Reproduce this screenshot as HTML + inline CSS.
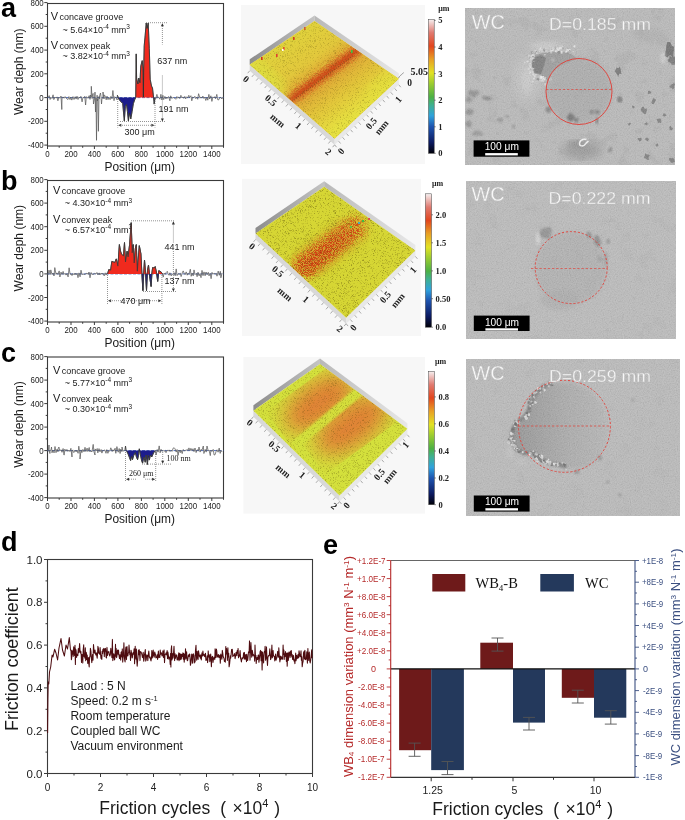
<!DOCTYPE html>
<html><head><meta charset="utf-8"><style>
html,body{margin:0;padding:0;background:#fff;}
body{width:685px;height:820px;overflow:hidden;position:relative;font-family:"Liberation Sans",sans-serif;}
svg{position:absolute;left:0;top:0;}
svg{will-change:transform;}
</style></head><body>
<svg width="685" height="820" viewBox="0 0 685 820">
<defs><linearGradient id="cbar" x1="0" y1="1" x2="0" y2="0">
<stop offset="0" stop-color="#000008"/><stop offset="0.08" stop-color="#0c1a60"/><stop offset="0.2" stop-color="#1f55b0"/>
<stop offset="0.28" stop-color="#2fa2dc"/><stop offset="0.36" stop-color="#3fb090"/><stop offset="0.42" stop-color="#4cb044"/>
<stop offset="0.52" stop-color="#9ccc30"/><stop offset="0.6" stop-color="#e2e224"/><stop offset="0.7" stop-color="#e8a024"/>
<stop offset="0.8" stop-color="#e2461e"/><stop offset="0.9" stop-color="#e07a70"/><stop offset="1" stop-color="#f6f0f0"/>
</linearGradient><filter id="speck" x="0%" y="0%" width="100%" height="100%" color-interpolation-filters="sRGB">
<feTurbulence type="fractalNoise" baseFrequency="1.6" numOctaves="2" seed="5" result="t"/>
<feColorMatrix in="t" type="matrix" values="0 0 0 0 0.3  0 0 0 0 0.25  0 0 0 0 0.02  -4 0 0 0 1.85" result="s"/>
<feComposite in="s" in2="SourceAlpha" operator="in"/>
</filter><filter id="rspeck" x="-30%" y="-30%" width="160%" height="160%" color-interpolation-filters="sRGB">
<feGaussianBlur in="SourceAlpha" stdDeviation="5" result="m"/>
<feTurbulence type="fractalNoise" baseFrequency="1.1" numOctaves="2" seed="8" result="t"/>
<feColorMatrix in="t" type="matrix" values="0 0 0 0 0.82  0 0 0 0 0.26  0 0 0 0 0.08  -7 0 0 0 3.9" result="s"/>
<feComposite in="s" in2="m" operator="in"/>
</filter><filter id="bb3"><feGaussianBlur stdDeviation="3"/></filter><filter id="bb6"><feGaussianBlur stdDeviation="6"/></filter><filter id="bb10"><feGaussianBlur stdDeviation="10"/></filter><linearGradient id="wallL" x1="0" y1="0" x2="1" y2="0"><stop offset="0" stop-color="#8c8c8c"/><stop offset="1" stop-color="#c4c4c4"/></linearGradient><linearGradient id="wallR" x1="0" y1="0" x2="1" y2="0"><stop offset="0" stop-color="#b8b8b8"/><stop offset="1" stop-color="#e8e8e8"/></linearGradient><linearGradient id="gA" gradientUnits="userSpaceOnUse" x1="294.1" y1="34.9" x2="353.5" y2="115.3"><stop offset="0" stop-color="#e0d23c" stop-opacity="1"/><stop offset="0.3" stop-color="#e2c83c" stop-opacity="1"/><stop offset="0.42" stop-color="#e0b438" stop-opacity="1"/><stop offset="0.47" stop-color="#d87a2c" stop-opacity="1"/><stop offset="0.5" stop-color="#d05a22" stop-opacity="1"/><stop offset="0.53" stop-color="#d8802c" stop-opacity="1"/><stop offset="0.58" stop-color="#e0ae38" stop-opacity="1"/><stop offset="0.75" stop-color="#e2c43a" stop-opacity="1"/><stop offset="1" stop-color="#e6e040" stop-opacity="1"/></linearGradient><linearGradient id="gAo" gradientUnits="userSpaceOnUse" x1="249.7" y1="64.8" x2="334.6" y2="138.8"><stop offset="0" stop-color="#dce040" stop-opacity="0.0"/><stop offset="0.1" stop-color="#dce040" stop-opacity="0.0"/><stop offset="1" stop-color="#e4e040" stop-opacity="0.0"/></linearGradient><clipPath id="sclipA"><polygon points="314.5,21.0 398.8,78.8 334.6,138.8 249.7,64.8"/></clipPath><clipPath id="sclipB"><polygon points="324.2,186.8 415.4,250.4 346.1,317.7 255.5,233.5"/></clipPath><clipPath id="sclipC"><polygon points="320.0,364.0 407.4,428.8 339.5,495.6 253.4,410.7"/></clipPath><filter id="mgrain" x="0%" y="0%" width="100%" height="100%">
<feTurbulence type="fractalNoise" baseFrequency="0.85" numOctaves="2" seed="9" result="t"/>
<feColorMatrix in="t" type="matrix" values="1 0 0 0 0  1 0 0 0 0  1 0 0 0 0  0 0 0 0 1" result="g"/>
<feComposite in="g" in2="SourceAlpha" operator="in"/>
</filter><filter id="mblot" x="0%" y="0%" width="100%" height="100%">
<feTurbulence type="fractalNoise" baseFrequency="0.06" numOctaves="3" seed="21" result="t"/>
<feColorMatrix in="t" type="matrix" values="0 0 0 0 0.35  0 0 0 0 0.35  0 0 0 0 0.35  -9 0 0 0 3.6" result="s"/>
<feComposite in="s" in2="SourceAlpha" operator="in"/>
</filter><filter id="blur05"><feGaussianBlur stdDeviation="0.45"/></filter><filter id="blur07"><feGaussianBlur stdDeviation="0.65"/></filter><filter id="blur1"><feGaussianBlur stdDeviation="0.9"/></filter><filter id="blur2"><feGaussianBlur stdDeviation="2"/></filter><filter id="blur4"><feGaussianBlur stdDeviation="5"/></filter><filter id="thin"><feMorphology operator="erode" radius="0.25"/></filter><clipPath id="clip1"><rect x="465" y="8" width="210" height="157"/></clipPath><clipPath id="clip2"><rect x="466" y="181" width="210" height="158"/></clipPath><linearGradient id="craterC" x1="0" y1="0" x2="1" y2="0"><stop offset="0" stop-color="#939393"/><stop offset="0.3" stop-color="#a0a0a0"/><stop offset="0.6" stop-color="#acacac"/><stop offset="1" stop-color="#b6b6b6"/></linearGradient><clipPath id="clip3"><rect x="466" y="359" width="214" height="157"/></clipPath></defs>
<rect x="47.5" y="3.5" width="176.0" height="142.5" fill="none" stroke="#3a3a3a" stroke-width="1.1"/>
<line x1="44.3" y1="145.1" x2="47.5" y2="145.1" stroke="#3a3a3a" stroke-width="1"/>
<text x="43.7" y="148.2" font-size="9" text-anchor="end" fill="#222" font-weight="normal" font-family='"Liberation Sans", sans-serif' textLength="15.8" lengthAdjust="spacingAndGlyphs">-400</text>
<line x1="45.7" y1="133.2" x2="47.5" y2="133.2" stroke="#3a3a3a" stroke-width="1"/>
<line x1="44.3" y1="121.3" x2="47.5" y2="121.3" stroke="#3a3a3a" stroke-width="1"/>
<text x="43.7" y="124.4" font-size="9" text-anchor="end" fill="#222" font-weight="normal" font-family='"Liberation Sans", sans-serif' textLength="15.8" lengthAdjust="spacingAndGlyphs">-200</text>
<line x1="45.7" y1="109.5" x2="47.5" y2="109.5" stroke="#3a3a3a" stroke-width="1"/>
<line x1="44.3" y1="97.6" x2="47.5" y2="97.6" stroke="#3a3a3a" stroke-width="1"/>
<text x="43.7" y="100.7" font-size="9" text-anchor="end" fill="#222" font-weight="normal" font-family='"Liberation Sans", sans-serif' textLength="4.4" lengthAdjust="spacingAndGlyphs">0</text>
<line x1="45.7" y1="85.7" x2="47.5" y2="85.7" stroke="#3a3a3a" stroke-width="1"/>
<line x1="44.3" y1="73.8" x2="47.5" y2="73.8" stroke="#3a3a3a" stroke-width="1"/>
<text x="43.7" y="76.9" font-size="9" text-anchor="end" fill="#222" font-weight="normal" font-family='"Liberation Sans", sans-serif' textLength="13.2" lengthAdjust="spacingAndGlyphs">200</text>
<line x1="45.7" y1="62.0" x2="47.5" y2="62.0" stroke="#3a3a3a" stroke-width="1"/>
<line x1="44.3" y1="50.1" x2="47.5" y2="50.1" stroke="#3a3a3a" stroke-width="1"/>
<text x="43.7" y="53.2" font-size="9" text-anchor="end" fill="#222" font-weight="normal" font-family='"Liberation Sans", sans-serif' textLength="13.2" lengthAdjust="spacingAndGlyphs">400</text>
<line x1="45.7" y1="38.2" x2="47.5" y2="38.2" stroke="#3a3a3a" stroke-width="1"/>
<line x1="44.3" y1="26.3" x2="47.5" y2="26.3" stroke="#3a3a3a" stroke-width="1"/>
<text x="43.7" y="29.4" font-size="9" text-anchor="end" fill="#222" font-weight="normal" font-family='"Liberation Sans", sans-serif' textLength="13.2" lengthAdjust="spacingAndGlyphs">600</text>
<line x1="45.7" y1="14.5" x2="47.5" y2="14.5" stroke="#3a3a3a" stroke-width="1"/>
<line x1="44.3" y1="2.6" x2="47.5" y2="2.6" stroke="#3a3a3a" stroke-width="1"/>
<text x="43.7" y="5.7" font-size="9" text-anchor="end" fill="#222" font-weight="normal" font-family='"Liberation Sans", sans-serif' textLength="13.2" lengthAdjust="spacingAndGlyphs">800</text>
<line x1="47.5" y1="146" x2="47.5" y2="149" stroke="#3a3a3a" stroke-width="1"/>
<text x="47.5" y="156.8" font-size="9" text-anchor="middle" fill="#222" font-weight="normal" font-family='"Liberation Sans", sans-serif' textLength="4.4" lengthAdjust="spacingAndGlyphs">0</text>
<line x1="59.2" y1="146" x2="59.2" y2="147.8" stroke="#3a3a3a" stroke-width="1"/>
<line x1="71.0" y1="146" x2="71.0" y2="149" stroke="#3a3a3a" stroke-width="1"/>
<text x="71.0" y="156.8" font-size="9" text-anchor="middle" fill="#222" font-weight="normal" font-family='"Liberation Sans", sans-serif' textLength="13.2" lengthAdjust="spacingAndGlyphs">200</text>
<line x1="82.7" y1="146" x2="82.7" y2="147.8" stroke="#3a3a3a" stroke-width="1"/>
<line x1="94.4" y1="146" x2="94.4" y2="149" stroke="#3a3a3a" stroke-width="1"/>
<text x="94.4" y="156.8" font-size="9" text-anchor="middle" fill="#222" font-weight="normal" font-family='"Liberation Sans", sans-serif' textLength="13.2" lengthAdjust="spacingAndGlyphs">400</text>
<line x1="106.2" y1="146" x2="106.2" y2="147.8" stroke="#3a3a3a" stroke-width="1"/>
<line x1="117.9" y1="146" x2="117.9" y2="149" stroke="#3a3a3a" stroke-width="1"/>
<text x="117.9" y="156.8" font-size="9" text-anchor="middle" fill="#222" font-weight="normal" font-family='"Liberation Sans", sans-serif' textLength="13.2" lengthAdjust="spacingAndGlyphs">600</text>
<line x1="129.6" y1="146" x2="129.6" y2="147.8" stroke="#3a3a3a" stroke-width="1"/>
<line x1="141.4" y1="146" x2="141.4" y2="149" stroke="#3a3a3a" stroke-width="1"/>
<text x="141.4" y="156.8" font-size="9" text-anchor="middle" fill="#222" font-weight="normal" font-family='"Liberation Sans", sans-serif' textLength="13.2" lengthAdjust="spacingAndGlyphs">800</text>
<line x1="153.1" y1="146" x2="153.1" y2="147.8" stroke="#3a3a3a" stroke-width="1"/>
<line x1="164.8" y1="146" x2="164.8" y2="149" stroke="#3a3a3a" stroke-width="1"/>
<text x="164.8" y="156.8" font-size="9" text-anchor="middle" fill="#222" font-weight="normal" font-family='"Liberation Sans", sans-serif' textLength="17.6" lengthAdjust="spacingAndGlyphs">1000</text>
<line x1="176.6" y1="146" x2="176.6" y2="147.8" stroke="#3a3a3a" stroke-width="1"/>
<line x1="188.3" y1="146" x2="188.3" y2="149" stroke="#3a3a3a" stroke-width="1"/>
<text x="188.3" y="156.8" font-size="9" text-anchor="middle" fill="#222" font-weight="normal" font-family='"Liberation Sans", sans-serif' textLength="17.6" lengthAdjust="spacingAndGlyphs">1200</text>
<line x1="200.0" y1="146" x2="200.0" y2="147.8" stroke="#3a3a3a" stroke-width="1"/>
<line x1="211.8" y1="146" x2="211.8" y2="149" stroke="#3a3a3a" stroke-width="1"/>
<text x="211.8" y="156.8" font-size="9" text-anchor="middle" fill="#222" font-weight="normal" font-family='"Liberation Sans", sans-serif' textLength="17.6" lengthAdjust="spacingAndGlyphs">1400</text>
<line x1="223.5" y1="146" x2="223.5" y2="147.8" stroke="#3a3a3a" stroke-width="1"/>
<text x="104.5" y="170.5" font-size="12" text-anchor="start" fill="#1a1a1a" font-weight="normal" font-family='"Liberation Sans", sans-serif' textLength="70.5" lengthAdjust="spacingAndGlyphs">Position (μm)</text>
<text transform="translate(23.4,71.8) rotate(-90)" x="0" y="0" font-size="12" text-anchor="middle" fill="#1a1a1a" font-family='"Liberation Sans", sans-serif'>Wear deph (nm)</text>
<line x1="47.5" y1="97.6" x2="223.5" y2="97.6" stroke="#3b5bb5" stroke-width="0.9" stroke-dasharray="3,1.5"/>
<polygon points="135.7,97.6 135.7,97.6 136.2,53.9 136.6,78.0 137.9,84.0 138.8,78.0 139.9,82.7 140.8,65.9 142.2,60.6 143.1,68.6 143.4,97.0 143.7,68.0 144.2,45.8 145.2,35.1 146.2,23.0 147.1,28.4 148.2,23.0 149.3,48.5 150.2,79.3 151.5,86.0 152.5,88.0 153.6,97.6 153.6,97.6" fill="#f02a1e" stroke="none"/>
<polygon points="117.9,97.6 118.7,98.8 120.0,100.8 121.4,102.1 122.7,103.5 124.3,120.9 125.4,106.2 126.5,104.5 127.4,111.5 128.4,120.9 129.4,112.9 130.8,118.9 132.1,111.5 133.4,103.5 134.8,99.5 135.7,97.6 135.7,97.6" fill="#1c1c8c" stroke="none"/>
<polygon points="153.6,97.6 153.6,97.6 154.2,104.1 155.0,97.6 155.0,97.6" fill="#1c1c8c" stroke="none"/>
<polyline points="48.1,97.7 49.2,95.6 50.1,99.5 50.9,97.3 51.9,98.5 53.1,94.8 53.8,99.6 55.1,97.1 56.1,98.1 57.0,96.9 57.9,100.8 58.9,97.2 59.9,98.2 61.0,96.1 61.0,96.0 61.8,109.5 62.0,98.4 62.6,98.0 63.0,96.9 64.2,98.2 65.1,96.6 66.0,98.0 67.2,99.0 67.9,99.6 68.9,96.6 70.0,99.6 70.8,97.1 71.8,100.1 73.0,96.6 74.0,99.5 75.2,96.7 76.1,99.1 77.0,96.2 78.0,99.5 78.9,97.0 79.8,97.9 80.9,96.3 82.1,101.9 82.9,97.4 83.9,97.7 84.8,96.3 85.0,99.0 85.6,105.0 86.1,99.3 86.2,97.0 86.9,96.8 87.9,98.3 89.2,95.6 90.0,99.4 90.5,95.0 91.1,97.1 91.3,86.3 92.1,98.5 92.2,96.0 93.1,93.4 93.5,104.0 93.8,102.3 94.5,99.0 95.0,92.1 95.5,112.0 96.0,97.8 96.5,140.3 97.1,95.2 97.3,101.0 97.9,98.9 98.4,131.3 99.0,96.5 99.2,99.0 99.8,95.0 100.5,93.0 101.0,96.8 101.5,104.0 101.9,99.5 102.9,97.0 103.0,92.0 104.0,99.0 104.1,95.1 105.0,95.5 106.2,99.8 107.0,96.1 108.0,99.7 109.1,97.4 110.1,99.7 110.9,96.4 112.0,98.8 112.9,90.5 114.0,100.7 114.8,96.7 116.2,98.2 116.9,99.7 117.4,95.2 118.7,98.8 120.0,100.8 121.4,102.1 122.7,103.5 124.3,120.9 125.4,106.2 126.5,104.5 127.4,111.5 128.4,120.9 129.4,112.9 130.8,118.9 132.1,111.5 133.4,103.5 134.8,99.5 135.7,97.6 136.2,53.9 136.6,78.0 137.9,84.0 138.8,78.0 139.9,82.7 140.8,65.9 142.2,60.6 143.1,68.6 143.4,97.0 143.7,68.0 144.2,45.8 145.2,35.1 146.2,23.0 147.1,28.4 148.2,23.0 149.3,48.5 150.2,79.3 151.5,86.0 152.5,88.0 153.6,97.6 154.2,104.1 155.0,97.6 155.8,98.6 156.9,94.4 157.8,97.8 158.6,97.1 159.9,99.2 160.9,94.3 161.9,100.0 162.9,95.3 163.7,99.6 164.9,96.4 165.9,98.9 167.0,97.0 167.7,98.3 168.6,96.5 169.9,100.8 170.7,95.8 171.8,98.5 173.0,97.4 173.8,97.7 174.7,98.2 175.8,99.3 176.9,96.5 177.6,98.1 178.8,97.0 179.7,98.5 180.9,95.3 181.9,98.0 182.8,96.9 183.7,98.3 184.8,96.4 185.7,98.9 186.7,96.9 187.7,97.8 188.8,95.3 189.6,97.7 190.9,95.7 191.8,100.8 192.7,97.0 193.6,97.7 194.9,96.3 195.7,98.6 196.7,97.2 197.7,99.3 198.6,93.7 200.0,98.2 200.7,96.9 201.7,98.1 202.9,96.1 203.8,98.4 204.7,97.0 205.8,100.5 207.0,97.3 207.8,100.2 208.9,94.4 209.6,99.0 210.9,95.8 211.9,101.4 212.9,96.9 213.9,97.8 214.7,96.7 215.6,98.7 216.8,94.4 217.9,100.0 218.7,99.9 219.7,97.8 220.8,97.3 221.9,99.0 223.0,96.9" fill="none" stroke="#5a5a5a" stroke-width="0.75" stroke-linejoin="round"/>
<polyline points="117.4,95.2 118.7,98.8 120.0,100.8 121.4,102.1 122.7,103.5 124.3,120.9 125.4,106.2 126.5,104.5 127.4,111.5 128.4,120.9 129.4,112.9 130.8,118.9 132.1,111.5 133.4,103.5 134.8,99.5 135.7,97.6 136.2,53.9 136.6,78.0 137.9,84.0 138.8,78.0 139.9,82.7 140.8,65.9 142.2,60.6 143.1,68.6 143.4,97.0 143.7,68.0 144.2,45.8 145.2,35.1 146.2,23.0 147.1,28.4 148.2,23.0 149.3,48.5 150.2,79.3 151.5,86.0 152.5,88.0 153.6,97.6 154.2,104.1 155.0,97.6" fill="none" stroke="#2a2a2a" stroke-width="0.7" stroke-linejoin="round"/>
<text x="50.8" y="19.6" font-size="11" text-anchor="start" fill="#1a1a1a" font-weight="normal" font-family='"Liberation Sans", sans-serif' >V</text>
<text x="59.6" y="19.6" font-size="9" text-anchor="start" fill="#1a1a1a" font-weight="normal" font-family='"Liberation Sans", sans-serif' >concave groove</text>
<text x="50.8" y="48.5" font-size="11" text-anchor="start" fill="#1a1a1a" font-weight="normal" font-family='"Liberation Sans", sans-serif' >V</text>
<text x="59.6" y="48.5" font-size="9" text-anchor="start" fill="#1a1a1a" font-weight="normal" font-family='"Liberation Sans", sans-serif' >convex peak</text>
<text x="62.5" y="32.7" font-size="9" fill="#1a1a1a" font-family='"Liberation Sans", sans-serif'>~ 5.64×10<tspan font-size="6.5" dy="-3.4">-4</tspan><tspan dy="3.4"> mm</tspan><tspan font-size="6.5" dy="-3.4">3</tspan></text>
<text x="62.5" y="59" font-size="9" fill="#1a1a1a" font-family='"Liberation Sans", sans-serif'>~ 3.82×10<tspan font-size="6.5" dy="-3.4">-4</tspan><tspan dy="3.4"> mm</tspan><tspan font-size="6.5" dy="-3.4">3</tspan></text>
<line x1="146.0" y1="22.7" x2="167.0" y2="22.7" stroke="#666" stroke-width="0.7" stroke-dasharray="1,1"/>
<line x1="162.4" y1="24.0" x2="162.4" y2="44.5" stroke="#666" stroke-width="0.7" stroke-dasharray="1,1"/>
<polygon points="162.4,23.2 160.9,26.3 163.9,26.3" fill="#333"/>
<line x1="162.4" y1="75.5" x2="162.4" y2="97.0" stroke="#666" stroke-width="0.7" stroke-dasharray="1,1"/>
<line x1="162.4" y1="98.5" x2="162.4" y2="120.0" stroke="#666" stroke-width="0.7" stroke-dasharray="1,1"/>
<polygon points="162.4,121.5 160.9,118.4 163.9,118.4" fill="#333"/>
<line x1="120.0" y1="121.5" x2="165.0" y2="121.5" stroke="#666" stroke-width="0.7" stroke-dasharray="1,1"/>
<line x1="117.7" y1="99.0" x2="117.7" y2="127.5" stroke="#666" stroke-width="0.7" stroke-dasharray="1,1"/>
<line x1="155.0" y1="99.0" x2="155.0" y2="127.5" stroke="#666" stroke-width="0.7" stroke-dasharray="1,1"/>
<polygon points="118.2,125.3 121.3,123.8 121.3,126.8" fill="#333"/>
<polygon points="154.5,125.3 151.4,123.8 151.4,126.8" fill="#333"/>
<line x1="120.0" y1="125.3" x2="153.0" y2="125.3" stroke="#666" stroke-width="0.7" stroke-dasharray="1,1"/>
<text x="157.3" y="63.5" font-size="9" text-anchor="start" fill="#1a1a1a" font-weight="normal" font-family='"Liberation Sans", sans-serif' >637 nm</text>
<text x="158.6" y="111.8" font-size="9" text-anchor="start" fill="#1a1a1a" font-weight="normal" font-family='"Liberation Sans", sans-serif' >191 nm</text>
<text x="124.6" y="134.5" font-size="9" text-anchor="start" fill="#1a1a1a" font-weight="normal" font-family='"Liberation Sans", sans-serif' >300 μm</text>
<rect x="47.5" y="180.5" width="176.0" height="141.5" fill="none" stroke="#3a3a3a" stroke-width="1.1"/>
<line x1="44.3" y1="321.1" x2="47.5" y2="321.1" stroke="#3a3a3a" stroke-width="1"/>
<text x="43.7" y="324.2" font-size="9" text-anchor="end" fill="#222" font-weight="normal" font-family='"Liberation Sans", sans-serif' textLength="15.8" lengthAdjust="spacingAndGlyphs">-400</text>
<line x1="45.7" y1="309.3" x2="47.5" y2="309.3" stroke="#3a3a3a" stroke-width="1"/>
<line x1="44.3" y1="297.5" x2="47.5" y2="297.5" stroke="#3a3a3a" stroke-width="1"/>
<text x="43.7" y="300.6" font-size="9" text-anchor="end" fill="#222" font-weight="normal" font-family='"Liberation Sans", sans-serif' textLength="15.8" lengthAdjust="spacingAndGlyphs">-200</text>
<line x1="45.7" y1="285.7" x2="47.5" y2="285.7" stroke="#3a3a3a" stroke-width="1"/>
<line x1="44.3" y1="273.9" x2="47.5" y2="273.9" stroke="#3a3a3a" stroke-width="1"/>
<text x="43.7" y="277.0" font-size="9" text-anchor="end" fill="#222" font-weight="normal" font-family='"Liberation Sans", sans-serif' textLength="4.4" lengthAdjust="spacingAndGlyphs">0</text>
<line x1="45.7" y1="262.1" x2="47.5" y2="262.1" stroke="#3a3a3a" stroke-width="1"/>
<line x1="44.3" y1="250.3" x2="47.5" y2="250.3" stroke="#3a3a3a" stroke-width="1"/>
<text x="43.7" y="253.4" font-size="9" text-anchor="end" fill="#222" font-weight="normal" font-family='"Liberation Sans", sans-serif' textLength="13.2" lengthAdjust="spacingAndGlyphs">200</text>
<line x1="45.7" y1="238.5" x2="47.5" y2="238.5" stroke="#3a3a3a" stroke-width="1"/>
<line x1="44.3" y1="226.7" x2="47.5" y2="226.7" stroke="#3a3a3a" stroke-width="1"/>
<text x="43.7" y="229.8" font-size="9" text-anchor="end" fill="#222" font-weight="normal" font-family='"Liberation Sans", sans-serif' textLength="13.2" lengthAdjust="spacingAndGlyphs">400</text>
<line x1="45.7" y1="214.9" x2="47.5" y2="214.9" stroke="#3a3a3a" stroke-width="1"/>
<line x1="44.3" y1="203.1" x2="47.5" y2="203.1" stroke="#3a3a3a" stroke-width="1"/>
<text x="43.7" y="206.2" font-size="9" text-anchor="end" fill="#222" font-weight="normal" font-family='"Liberation Sans", sans-serif' textLength="13.2" lengthAdjust="spacingAndGlyphs">600</text>
<line x1="45.7" y1="191.4" x2="47.5" y2="191.4" stroke="#3a3a3a" stroke-width="1"/>
<line x1="44.3" y1="179.6" x2="47.5" y2="179.6" stroke="#3a3a3a" stroke-width="1"/>
<text x="43.7" y="182.7" font-size="9" text-anchor="end" fill="#222" font-weight="normal" font-family='"Liberation Sans", sans-serif' textLength="13.2" lengthAdjust="spacingAndGlyphs">800</text>
<line x1="47.5" y1="322" x2="47.5" y2="325" stroke="#3a3a3a" stroke-width="1"/>
<text x="47.5" y="332.8" font-size="9" text-anchor="middle" fill="#222" font-weight="normal" font-family='"Liberation Sans", sans-serif' textLength="4.4" lengthAdjust="spacingAndGlyphs">0</text>
<line x1="59.2" y1="322" x2="59.2" y2="323.8" stroke="#3a3a3a" stroke-width="1"/>
<line x1="71.0" y1="322" x2="71.0" y2="325" stroke="#3a3a3a" stroke-width="1"/>
<text x="71.0" y="332.8" font-size="9" text-anchor="middle" fill="#222" font-weight="normal" font-family='"Liberation Sans", sans-serif' textLength="13.2" lengthAdjust="spacingAndGlyphs">200</text>
<line x1="82.7" y1="322" x2="82.7" y2="323.8" stroke="#3a3a3a" stroke-width="1"/>
<line x1="94.4" y1="322" x2="94.4" y2="325" stroke="#3a3a3a" stroke-width="1"/>
<text x="94.4" y="332.8" font-size="9" text-anchor="middle" fill="#222" font-weight="normal" font-family='"Liberation Sans", sans-serif' textLength="13.2" lengthAdjust="spacingAndGlyphs">400</text>
<line x1="106.2" y1="322" x2="106.2" y2="323.8" stroke="#3a3a3a" stroke-width="1"/>
<line x1="117.9" y1="322" x2="117.9" y2="325" stroke="#3a3a3a" stroke-width="1"/>
<text x="117.9" y="332.8" font-size="9" text-anchor="middle" fill="#222" font-weight="normal" font-family='"Liberation Sans", sans-serif' textLength="13.2" lengthAdjust="spacingAndGlyphs">600</text>
<line x1="129.6" y1="322" x2="129.6" y2="323.8" stroke="#3a3a3a" stroke-width="1"/>
<line x1="141.4" y1="322" x2="141.4" y2="325" stroke="#3a3a3a" stroke-width="1"/>
<text x="141.4" y="332.8" font-size="9" text-anchor="middle" fill="#222" font-weight="normal" font-family='"Liberation Sans", sans-serif' textLength="13.2" lengthAdjust="spacingAndGlyphs">800</text>
<line x1="153.1" y1="322" x2="153.1" y2="323.8" stroke="#3a3a3a" stroke-width="1"/>
<line x1="164.8" y1="322" x2="164.8" y2="325" stroke="#3a3a3a" stroke-width="1"/>
<text x="164.8" y="332.8" font-size="9" text-anchor="middle" fill="#222" font-weight="normal" font-family='"Liberation Sans", sans-serif' textLength="17.6" lengthAdjust="spacingAndGlyphs">1000</text>
<line x1="176.6" y1="322" x2="176.6" y2="323.8" stroke="#3a3a3a" stroke-width="1"/>
<line x1="188.3" y1="322" x2="188.3" y2="325" stroke="#3a3a3a" stroke-width="1"/>
<text x="188.3" y="332.8" font-size="9" text-anchor="middle" fill="#222" font-weight="normal" font-family='"Liberation Sans", sans-serif' textLength="17.6" lengthAdjust="spacingAndGlyphs">1200</text>
<line x1="200.0" y1="322" x2="200.0" y2="323.8" stroke="#3a3a3a" stroke-width="1"/>
<line x1="211.8" y1="322" x2="211.8" y2="325" stroke="#3a3a3a" stroke-width="1"/>
<text x="211.8" y="332.8" font-size="9" text-anchor="middle" fill="#222" font-weight="normal" font-family='"Liberation Sans", sans-serif' textLength="17.6" lengthAdjust="spacingAndGlyphs">1400</text>
<line x1="223.5" y1="322" x2="223.5" y2="323.8" stroke="#3a3a3a" stroke-width="1"/>
<text x="104.5" y="346.5" font-size="12" text-anchor="start" fill="#1a1a1a" font-weight="normal" font-family='"Liberation Sans", sans-serif' textLength="70.5" lengthAdjust="spacingAndGlyphs">Position (μm)</text>
<text transform="translate(23.4,248.2) rotate(-90)" x="0" y="0" font-size="12" text-anchor="middle" fill="#1a1a1a" font-family='"Liberation Sans", sans-serif'>Wear deph (nm)</text>
<line x1="47.5" y1="273.9" x2="223.5" y2="273.9" stroke="#3b5bb5" stroke-width="0.9" stroke-dasharray="3,1.5"/>
<polyline points="48.0,275.0 49.0,270.1 50.2,274.4 50.8,269.9 52.0,274.4 53.1,273.0 54.0,276.0 54.8,267.6 56.0,274.3 56.9,272.9 57.9,274.4 59.2,270.9 59.9,277.0 61.0,272.1 62.1,274.4 63.1,271.4 64.0,274.4 65.1,273.3 66.0,275.1 67.0,273.5 68.1,276.9 69.1,267.8 70.1,274.3 71.0,273.7 72.0,275.6 73.0,273.5 74.1,274.9 75.0,273.0 76.0,274.8 77.1,273.3 78.0,277.7 78.9,272.9 80.1,276.8 81.0,270.2 82.1,274.7 83.1,273.8 84.0,274.8 85.1,273.8 85.8,274.0 87.0,273.0 88.1,274.4 89.0,272.0 90.0,277.8 91.1,272.5 92.1,274.6 93.0,273.9 94.0,274.3 94.9,273.2 95.9,274.1 96.9,272.5 98.0,274.9 99.2,272.9 99.9,275.0 101.0,273.0 101.9,274.0 103.0,273.3 104.2,275.9 105.2,272.8 106.0,275.1 106.9,273.1 107.7,273.8 108.7,269.7 110.7,270.2 111.8,261.5 114.8,262.5 116.3,258.9 117.9,266.1 119.4,244.6 120.4,250.8 121.5,254.3 123.5,255.9 124.5,242.6 125.5,262.0 127.1,251.3 128.1,256.9 129.6,244.6 131.2,222.7 132.2,252.8 133.2,244.6 134.2,263.0 135.3,248.7 136.3,244.6 137.3,271.2 139.3,245.7 140.9,253.8 141.9,273.8 142.9,290.6 143.7,273.8 144.5,260.0 145.5,272.2 146.5,290.6 147.5,270.2 148.5,265.1 149.6,276.3 151.1,286.5 151.9,273.8 152.6,267.6 154.2,268.1 155.2,266.6 156.7,273.8 157.7,281.4 158.8,270.7 161.3,272.2 162.3,273.8 163.3,277.1 164.0,273.1 165.2,274.3 166.0,272.7 167.3,271.3 168.0,273.7 169.1,275.3 169.9,272.8 171.2,275.9 172.3,273.8 173.0,274.7 174.0,272.6 175.2,275.8 176.2,268.9 177.1,275.6 178.2,273.6 179.1,274.4 180.3,273.4 181.1,276.6 182.2,272.9 183.2,270.9 184.2,273.4 185.1,274.6 186.2,271.9 187.2,275.2 188.1,273.4 188.9,274.4 190.3,269.2 191.2,276.3 192.0,273.0 193.2,275.9 194.0,269.9 195.1,274.6 196.3,273.4 197.1,276.7 198.0,272.2 199.1,275.9 200.0,273.6 201.0,277.7 202.0,270.4 203.0,275.7 204.0,271.9 205.1,275.8 206.0,272.0 207.2,274.6 208.3,272.3 209.0,275.9 210.2,273.4 211.1,278.7 212.0,272.4 213.0,274.0 214.3,273.4 215.1,274.0 216.3,273.4 217.0,276.2 218.2,271.1 219.3,275.3 220.3,271.3 220.9,277.8 222.1,272.9" fill="none" stroke="#5a5a5a" stroke-width="0.75" stroke-linejoin="round"/>
<polyline points="107.7,273.8 108.7,269.7 110.7,270.2 111.8,261.5 114.8,262.5 116.3,258.9 117.9,266.1 119.4,244.6 120.4,250.8 121.5,254.3 123.5,255.9 124.5,242.6 125.5,262.0 127.1,251.3 128.1,256.9 129.6,244.6 131.2,222.7 132.2,252.8 133.2,244.6 134.2,263.0 135.3,248.7 136.3,244.6 137.3,271.2 139.3,245.7 140.9,253.8 141.9,273.8 142.9,290.6 143.7,273.8 144.5,260.0 145.5,272.2 146.5,290.6 147.5,270.2 148.5,265.1 149.6,276.3 151.1,286.5 151.9,273.8 152.6,267.6 154.2,268.1 155.2,266.6 156.7,273.8 157.7,281.4 158.8,270.7 161.3,272.2 162.3,273.8" fill="none" stroke="#2a2a2a" stroke-width="0.7" stroke-linejoin="round"/>
<text x="52.9" y="193.8" font-size="11" text-anchor="start" fill="#1a1a1a" font-weight="normal" font-family='"Liberation Sans", sans-serif' >V</text>
<text x="61.7" y="193.8" font-size="9" text-anchor="start" fill="#1a1a1a" font-weight="normal" font-family='"Liberation Sans", sans-serif' >concave groove</text>
<text x="52.9" y="222.7" font-size="11" text-anchor="start" fill="#1a1a1a" font-weight="normal" font-family='"Liberation Sans", sans-serif' >V</text>
<text x="61.7" y="222.7" font-size="9" text-anchor="start" fill="#1a1a1a" font-weight="normal" font-family='"Liberation Sans", sans-serif' >convex peak</text>
<text x="64.7" y="206.4" font-size="9" fill="#1a1a1a" font-family='"Liberation Sans", sans-serif'>~ 4.30×10<tspan font-size="6.5" dy="-3.4">-4</tspan><tspan dy="3.4"> mm</tspan><tspan font-size="6.5" dy="-3.4">3</tspan></text>
<text x="64.7" y="232.6" font-size="9" fill="#1a1a1a" font-family='"Liberation Sans", sans-serif'>~ 6.57×10<tspan font-size="6.5" dy="-3.4">-4</tspan><tspan dy="3.4"> mm</tspan><tspan font-size="6.5" dy="-3.4">3</tspan></text>
<polygon points="107.7,273.9 107.7,273.8 108.7,269.7 110.7,270.2 111.8,261.5 114.8,262.5 116.3,258.9 117.9,266.1 119.4,244.6 120.4,250.8 121.5,254.3 123.5,255.9 124.5,242.6 125.5,262.0 127.1,251.3 128.1,256.9 129.6,244.6 131.2,222.7 132.2,252.8 133.2,244.6 134.2,263.0 135.3,248.7 136.3,244.6 137.3,271.2 139.3,245.7 140.9,253.8 141.9,273.8 142.9,273.9 143.7,273.8 144.5,260.0 145.5,272.2 146.5,273.9 147.5,270.2 148.5,265.1 149.6,273.9 151.1,273.9 151.9,273.8 152.6,267.6 154.2,268.1 155.2,266.6 156.7,273.8 157.7,273.9 158.8,270.7 161.3,272.2 162.3,273.8 162.3,273.9" fill="#f02a1e"/>
<polygon points="107.7,273.9 107.7,273.9 108.7,273.9 110.7,273.9 111.8,273.9 114.8,273.9 116.3,273.9 117.9,273.9 119.4,273.9 120.4,273.9 121.5,273.9 123.5,273.9 124.5,273.9 125.5,273.9 127.1,273.9 128.1,273.9 129.6,273.9 131.2,273.9 132.2,273.9 133.2,273.9 134.2,273.9 135.3,273.9 136.3,273.9 137.3,273.9 139.3,273.9 140.9,273.9 141.9,273.9 142.9,290.6 143.7,273.9 144.5,273.9 145.5,273.9 146.5,290.6 147.5,273.9 148.5,273.9 149.6,276.3 151.1,286.5 151.9,273.9 152.6,273.9 154.2,273.9 155.2,273.9 156.7,273.9 157.7,281.4 158.8,273.9 161.3,273.9 162.3,273.9 162.3,273.9" fill="#1c1c8c"/>
<polyline points="107.7,273.8 108.7,269.7 110.7,270.2 111.8,261.5 114.8,262.5 116.3,258.9 117.9,266.1 119.4,244.6 120.4,250.8 121.5,254.3 123.5,255.9 124.5,242.6 125.5,262.0 127.1,251.3 128.1,256.9 129.6,244.6 131.2,222.7 132.2,252.8 133.2,244.6 134.2,263.0 135.3,248.7 136.3,244.6 137.3,271.2 139.3,245.7 140.9,253.8 141.9,273.8 142.9,290.6 143.7,273.8 144.5,260.0 145.5,272.2 146.5,290.6 147.5,270.2 148.5,265.1 149.6,276.3 151.1,286.5 151.9,273.8 152.6,267.6 154.2,268.1 155.2,266.6 156.7,273.8 157.7,281.4 158.8,270.7 161.3,272.2 162.3,273.8" fill="none" stroke="#3a3a3a" stroke-width="0.7"/>
<line x1="131.0" y1="220.8" x2="174.0" y2="220.8" stroke="#666" stroke-width="0.7" stroke-dasharray="1,1"/>
<line x1="173.4" y1="222.5" x2="173.4" y2="243.0" stroke="#666" stroke-width="0.7" stroke-dasharray="1,1"/>
<polygon points="173.4,221.3 171.9,224.4 174.9,224.4" fill="#333"/>
<line x1="173.4" y1="251.0" x2="173.4" y2="273.0" stroke="#666" stroke-width="0.7" stroke-dasharray="1,1"/>
<line x1="173.4" y1="275.0" x2="173.4" y2="290.0" stroke="#666" stroke-width="0.7" stroke-dasharray="1,1"/>
<polygon points="173.4,291.5 171.9,288.4 174.9,288.4" fill="#333"/>
<line x1="143.0" y1="291.5" x2="176.0" y2="291.5" stroke="#666" stroke-width="0.7" stroke-dasharray="1,1"/>
<line x1="107.5" y1="275.0" x2="107.5" y2="304.0" stroke="#666" stroke-width="0.7" stroke-dasharray="1,1"/>
<line x1="161.9" y1="275.0" x2="161.9" y2="304.0" stroke="#666" stroke-width="0.7" stroke-dasharray="1,1"/>
<polygon points="108.0,300.7 111.1,299.2 111.1,302.2" fill="#333"/>
<polygon points="161.4,300.7 158.3,299.2 158.3,302.2" fill="#333"/>
<line x1="110.0" y1="300.7" x2="159.0" y2="300.7" stroke="#666" stroke-width="0.7" stroke-dasharray="1,1"/>
<text x="164.5" y="250.0" font-size="9" text-anchor="start" fill="#1a1a1a" font-weight="normal" font-family='"Liberation Sans", sans-serif' >441 nm</text>
<text x="164.5" y="284.2" font-size="9" text-anchor="start" fill="#1a1a1a" font-weight="normal" font-family='"Liberation Sans", sans-serif' >137 nm</text>
<text x="120.4" y="304.0" font-size="9" text-anchor="start" fill="#1a1a1a" font-weight="normal" font-family='"Liberation Sans", sans-serif' >470 μm</text>
<rect x="47.5" y="357" width="176.0" height="141" fill="none" stroke="#3a3a3a" stroke-width="1.1"/>
<line x1="44.3" y1="497.6" x2="47.5" y2="497.6" stroke="#3a3a3a" stroke-width="1"/>
<text x="43.7" y="500.7" font-size="9" text-anchor="end" fill="#222" font-weight="normal" font-family='"Liberation Sans", sans-serif' textLength="15.8" lengthAdjust="spacingAndGlyphs">-400</text>
<line x1="45.7" y1="485.9" x2="47.5" y2="485.9" stroke="#3a3a3a" stroke-width="1"/>
<line x1="44.3" y1="474.1" x2="47.5" y2="474.1" stroke="#3a3a3a" stroke-width="1"/>
<text x="43.7" y="477.2" font-size="9" text-anchor="end" fill="#222" font-weight="normal" font-family='"Liberation Sans", sans-serif' textLength="15.8" lengthAdjust="spacingAndGlyphs">-200</text>
<line x1="45.7" y1="462.4" x2="47.5" y2="462.4" stroke="#3a3a3a" stroke-width="1"/>
<line x1="44.3" y1="450.6" x2="47.5" y2="450.6" stroke="#3a3a3a" stroke-width="1"/>
<text x="43.7" y="453.7" font-size="9" text-anchor="end" fill="#222" font-weight="normal" font-family='"Liberation Sans", sans-serif' textLength="4.4" lengthAdjust="spacingAndGlyphs">0</text>
<line x1="45.7" y1="438.9" x2="47.5" y2="438.9" stroke="#3a3a3a" stroke-width="1"/>
<line x1="44.3" y1="427.1" x2="47.5" y2="427.1" stroke="#3a3a3a" stroke-width="1"/>
<text x="43.7" y="430.2" font-size="9" text-anchor="end" fill="#222" font-weight="normal" font-family='"Liberation Sans", sans-serif' textLength="13.2" lengthAdjust="spacingAndGlyphs">200</text>
<line x1="45.7" y1="415.4" x2="47.5" y2="415.4" stroke="#3a3a3a" stroke-width="1"/>
<line x1="44.3" y1="403.6" x2="47.5" y2="403.6" stroke="#3a3a3a" stroke-width="1"/>
<text x="43.7" y="406.7" font-size="9" text-anchor="end" fill="#222" font-weight="normal" font-family='"Liberation Sans", sans-serif' textLength="13.2" lengthAdjust="spacingAndGlyphs">400</text>
<line x1="45.7" y1="391.9" x2="47.5" y2="391.9" stroke="#3a3a3a" stroke-width="1"/>
<line x1="44.3" y1="380.1" x2="47.5" y2="380.1" stroke="#3a3a3a" stroke-width="1"/>
<text x="43.7" y="383.2" font-size="9" text-anchor="end" fill="#222" font-weight="normal" font-family='"Liberation Sans", sans-serif' textLength="13.2" lengthAdjust="spacingAndGlyphs">600</text>
<line x1="45.7" y1="368.4" x2="47.5" y2="368.4" stroke="#3a3a3a" stroke-width="1"/>
<line x1="44.3" y1="356.6" x2="47.5" y2="356.6" stroke="#3a3a3a" stroke-width="1"/>
<text x="43.7" y="359.7" font-size="9" text-anchor="end" fill="#222" font-weight="normal" font-family='"Liberation Sans", sans-serif' textLength="13.2" lengthAdjust="spacingAndGlyphs">800</text>
<line x1="47.5" y1="498" x2="47.5" y2="501" stroke="#3a3a3a" stroke-width="1"/>
<text x="47.5" y="508.8" font-size="9" text-anchor="middle" fill="#222" font-weight="normal" font-family='"Liberation Sans", sans-serif' textLength="4.4" lengthAdjust="spacingAndGlyphs">0</text>
<line x1="59.2" y1="498" x2="59.2" y2="499.8" stroke="#3a3a3a" stroke-width="1"/>
<line x1="71.0" y1="498" x2="71.0" y2="501" stroke="#3a3a3a" stroke-width="1"/>
<text x="71.0" y="508.8" font-size="9" text-anchor="middle" fill="#222" font-weight="normal" font-family='"Liberation Sans", sans-serif' textLength="13.2" lengthAdjust="spacingAndGlyphs">200</text>
<line x1="82.7" y1="498" x2="82.7" y2="499.8" stroke="#3a3a3a" stroke-width="1"/>
<line x1="94.4" y1="498" x2="94.4" y2="501" stroke="#3a3a3a" stroke-width="1"/>
<text x="94.4" y="508.8" font-size="9" text-anchor="middle" fill="#222" font-weight="normal" font-family='"Liberation Sans", sans-serif' textLength="13.2" lengthAdjust="spacingAndGlyphs">400</text>
<line x1="106.2" y1="498" x2="106.2" y2="499.8" stroke="#3a3a3a" stroke-width="1"/>
<line x1="117.9" y1="498" x2="117.9" y2="501" stroke="#3a3a3a" stroke-width="1"/>
<text x="117.9" y="508.8" font-size="9" text-anchor="middle" fill="#222" font-weight="normal" font-family='"Liberation Sans", sans-serif' textLength="13.2" lengthAdjust="spacingAndGlyphs">600</text>
<line x1="129.6" y1="498" x2="129.6" y2="499.8" stroke="#3a3a3a" stroke-width="1"/>
<line x1="141.4" y1="498" x2="141.4" y2="501" stroke="#3a3a3a" stroke-width="1"/>
<text x="141.4" y="508.8" font-size="9" text-anchor="middle" fill="#222" font-weight="normal" font-family='"Liberation Sans", sans-serif' textLength="13.2" lengthAdjust="spacingAndGlyphs">800</text>
<line x1="153.1" y1="498" x2="153.1" y2="499.8" stroke="#3a3a3a" stroke-width="1"/>
<line x1="164.8" y1="498" x2="164.8" y2="501" stroke="#3a3a3a" stroke-width="1"/>
<text x="164.8" y="508.8" font-size="9" text-anchor="middle" fill="#222" font-weight="normal" font-family='"Liberation Sans", sans-serif' textLength="17.6" lengthAdjust="spacingAndGlyphs">1000</text>
<line x1="176.6" y1="498" x2="176.6" y2="499.8" stroke="#3a3a3a" stroke-width="1"/>
<line x1="188.3" y1="498" x2="188.3" y2="501" stroke="#3a3a3a" stroke-width="1"/>
<text x="188.3" y="508.8" font-size="9" text-anchor="middle" fill="#222" font-weight="normal" font-family='"Liberation Sans", sans-serif' textLength="17.6" lengthAdjust="spacingAndGlyphs">1200</text>
<line x1="200.0" y1="498" x2="200.0" y2="499.8" stroke="#3a3a3a" stroke-width="1"/>
<line x1="211.8" y1="498" x2="211.8" y2="501" stroke="#3a3a3a" stroke-width="1"/>
<text x="211.8" y="508.8" font-size="9" text-anchor="middle" fill="#222" font-weight="normal" font-family='"Liberation Sans", sans-serif' textLength="17.6" lengthAdjust="spacingAndGlyphs">1400</text>
<line x1="223.5" y1="498" x2="223.5" y2="499.8" stroke="#3a3a3a" stroke-width="1"/>
<text x="104.5" y="522.5" font-size="12" text-anchor="start" fill="#1a1a1a" font-weight="normal" font-family='"Liberation Sans", sans-serif' textLength="70.5" lengthAdjust="spacingAndGlyphs">Position (μm)</text>
<text transform="translate(23.4,424.5) rotate(-90)" x="0" y="0" font-size="12" text-anchor="middle" fill="#1a1a1a" font-family='"Liberation Sans", sans-serif'>Wear deph (nm)</text>
<line x1="47.5" y1="450.6" x2="223.5" y2="450.6" stroke="#3b5bb5" stroke-width="0.9" stroke-dasharray="3,1.5"/>
<polygon points="125.8,450.6 126.0,450.6 126.8,451.4 128.1,454.0 129.4,457.5 130.6,460.6 131.6,456.2 132.5,459.7 133.8,455.3 135.3,452.7 136.5,457.5 137.6,459.7 138.5,455.8 139.3,448.8 140.4,455.0 141.7,461.0 142.6,463.2 143.9,457.0 145.2,462.3 146.1,455.0 147.4,464.5 148.3,455.5 149.3,460.1 150.5,455.0 151.8,457.0 153.5,453.0 155.3,450.6 155.3,450.6" fill="#1c1c8c" stroke="none"/>
<polyline points="48.2,451.6 49.0,445.0 49.2,449.4 49.9,453.5 50.0,451.0 51.2,449.1 51.5,447.0 52.0,452.8 52.9,450.0 53.0,451.0 54.1,452.9 55.0,446.5 56.0,452.7 57.0,449.2 58.0,451.8 58.0,449.0 58.9,447.0 59.8,450.9 61.1,449.7 62.0,452.3 63.1,448.5 64.0,455.0 64.1,455.1 64.9,449.1 65.0,450.0 65.9,451.2 66.9,449.4 67.9,451.4 69.1,450.0 69.9,451.6 70.9,448.3 72.0,457.0 72.1,451.0 72.9,449.9 73.0,451.0 73.8,452.6 75.1,450.1 76.1,451.9 76.9,450.1 78.1,453.3 78.8,446.2 80.0,454.5 80.0,459.0 81.0,450.0 81.0,449.9 81.9,452.7 82.9,449.4 84.0,451.8 85.0,447.3 85.9,451.5 87.1,448.1 87.8,451.5 89.2,447.5 89.9,451.9 90.9,450.6 91.9,452.0 93.2,444.4 93.9,451.7 95.0,455.0 95.0,448.9 96.0,450.0 96.2,450.9 97.2,448.5 97.8,452.9 99.0,448.6 100.0,451.8 101.1,449.5 101.9,453.1 102.9,450.2 103.8,450.6 104.8,449.9 106.0,453.3 106.8,449.6 107.9,453.3 108.9,450.5 109.8,451.2 110.8,447.8 112.2,451.5 113.0,449.7 113.9,451.1 115.1,448.2 115.8,453.3 116.9,446.6 118.2,452.2 119.2,448.5 120.1,453.5 120.8,449.1 121.9,451.6 122.0,447.0 122.8,450.4 123.0,451.0 123.9,450.9 124.8,449.5 125.5,446.0 126.0,450.6 126.8,451.4 128.1,454.0 129.4,457.5 130.6,460.6 131.6,456.2 132.5,459.7 133.8,455.3 135.3,452.7 136.5,457.5 137.6,459.7 138.5,455.8 139.3,448.8 140.4,455.0 141.7,461.0 142.6,463.2 143.9,457.0 145.2,462.3 146.1,455.0 147.4,464.5 148.3,455.5 149.3,460.1 150.5,455.0 151.8,457.0 153.5,453.0 155.3,450.6 156.1,455.0 157.2,449.5 158.1,452.1 159.2,445.9 160.1,452.8 161.1,449.3 161.9,451.3 163.1,450.4 164.2,451.3 165.2,450.4 166.0,452.7 167.3,450.2 168.2,451.0 169.1,449.9 170.1,451.5 171.2,450.3 172.0,451.4 173.2,448.1 174.2,447.8 175.1,448.9 176.2,452.1 177.1,449.5 178.1,455.4 179.0,450.0 180.3,452.7 181.0,450.0 182.2,453.6 183.1,449.5 184.3,450.7 185.3,450.3 185.9,450.6 187.3,449.4 188.1,450.6 188.9,447.9 190.1,450.7 190.9,448.3 192.1,450.6 193.0,448.7 194.0,451.6 195.0,448.0 196.1,452.6 197.2,449.7 198.3,450.7 199.0,447.0 200.1,452.1 200.9,449.6 202.0,450.0 203.3,446.0 203.9,453.5 205.2,449.4 206.2,452.1 207.0,446.0 208.2,450.7 209.0,450.1 210.3,455.6 210.9,450.2 211.9,451.5 213.2,449.4 214.1,455.0 215.0,454.8 216.1,451.4 217.0,449.8 218.1,452.2 219.2,448.1 220.2,453.4 220.9,450.4 222.1,452.0" fill="none" stroke="#5a5a5a" stroke-width="0.75" stroke-linejoin="round"/>
<polyline points="125.5,446.0 126.0,450.6 126.8,451.4 128.1,454.0 129.4,457.5 130.6,460.6 131.6,456.2 132.5,459.7 133.8,455.3 135.3,452.7 136.5,457.5 137.6,459.7 138.5,455.8 139.3,448.8 140.4,455.0 141.7,461.0 142.6,463.2 143.9,457.0 145.2,462.3 146.1,455.0 147.4,464.5 148.3,455.5 149.3,460.1 150.5,455.0 151.8,457.0 153.5,453.0 155.3,450.6" fill="none" stroke="#2a2a2a" stroke-width="0.7" stroke-linejoin="round"/>
<text x="52.9" y="373.9" font-size="11" text-anchor="start" fill="#1a1a1a" font-weight="normal" font-family='"Liberation Sans", sans-serif' >V</text>
<text x="61.7" y="373.9" font-size="9" text-anchor="start" fill="#1a1a1a" font-weight="normal" font-family='"Liberation Sans", sans-serif' >concave groove</text>
<text x="52.9" y="402.3" font-size="11" text-anchor="start" fill="#1a1a1a" font-weight="normal" font-family='"Liberation Sans", sans-serif' >V</text>
<text x="61.7" y="402.3" font-size="9" text-anchor="start" fill="#1a1a1a" font-weight="normal" font-family='"Liberation Sans", sans-serif' >convex peak</text>
<text x="64.7" y="385.7" font-size="9" fill="#1a1a1a" font-family='"Liberation Sans", sans-serif'>~ 5.77×10<tspan font-size="6.5" dy="-3.4">-4</tspan><tspan dy="3.4"> mm</tspan><tspan font-size="6.5" dy="-3.4">3</tspan></text>
<text x="64.7" y="412.3" font-size="9" fill="#1a1a1a" font-family='"Liberation Sans", sans-serif'>~ 0.30×10<tspan font-size="6.5" dy="-3.4">-4</tspan><tspan dy="3.4"> mm</tspan><tspan font-size="6.5" dy="-3.4">3</tspan></text>
<line x1="162.7" y1="452.0" x2="162.7" y2="462.0" stroke="#666" stroke-width="0.7" stroke-dasharray="1,1"/>
<polygon points="162.7,463.8 161.2,460.7 164.2,460.7" fill="#333"/>
<line x1="142.0" y1="464.1" x2="171.0" y2="464.1" stroke="#666" stroke-width="0.7" stroke-dasharray="1,1"/>
<line x1="125.5" y1="452.0" x2="125.5" y2="481.0" stroke="#666" stroke-width="0.7" stroke-dasharray="1,1"/>
<line x1="155.7" y1="452.0" x2="155.7" y2="481.0" stroke="#666" stroke-width="0.7" stroke-dasharray="1,1"/>
<polygon points="126.0,479.2 129.1,477.7 129.1,480.7" fill="#333"/>
<line x1="129.0" y1="479.2" x2="136.5" y2="479.2" stroke="#666" stroke-width="0.7" stroke-dasharray="1,1"/>
<line x1="145.2" y1="479.2" x2="152.0" y2="479.2" stroke="#666" stroke-width="0.7" stroke-dasharray="1,1"/>
<polygon points="155.2,479.2 152.1,477.7 152.1,480.7" fill="#333"/>
<text x="166.4" y="461.0" font-size="8" text-anchor="start" fill="#1a1a1a" font-weight="normal" font-family='"Liberation Serif", serif' >100 nm</text>
<text x="129.0" y="475.9" font-size="8" text-anchor="start" fill="#1a1a1a" font-weight="normal" font-family='"Liberation Serif", serif' >260 μm</text>
<rect x="241" y="5" width="184" height="159" fill="#f7f7f7"/>
<polygon points="249.7,64.8 314.5,21.0 314.5,15.5 249.7,59.3" fill="url(#wallL)"/>
<polygon points="314.5,21.0 398.8,78.8 398.8,73.3 314.5,15.5" fill="url(#wallR)"/>
<polygon points="249.7,64.8 334.6,138.8 334.6,144.8 249.7,70.8" fill="#d8d8d8"/>
<polygon points="334.6,138.8 398.8,78.8 398.8,84.8 334.6,144.8" fill="#e8e8e8"/>
<line x1="249.7" y1="70.8" x2="247.7" y2="73.2" stroke="#888" stroke-width="0.7"/><line x1="253.9" y1="74.5" x2="251.9" y2="76.9" stroke="#888" stroke-width="0.7"/><line x1="258.2" y1="78.2" x2="256.2" y2="80.6" stroke="#888" stroke-width="0.7"/><line x1="262.4" y1="81.9" x2="260.4" y2="84.3" stroke="#888" stroke-width="0.7"/><line x1="266.7" y1="85.6" x2="264.7" y2="88.0" stroke="#888" stroke-width="0.7"/><line x1="270.9" y1="89.3" x2="268.9" y2="91.7" stroke="#888" stroke-width="0.7"/><line x1="275.2" y1="93.0" x2="273.2" y2="95.4" stroke="#888" stroke-width="0.7"/><line x1="279.4" y1="96.7" x2="277.4" y2="99.1" stroke="#888" stroke-width="0.7"/><line x1="283.7" y1="100.4" x2="281.7" y2="102.8" stroke="#888" stroke-width="0.7"/><line x1="287.9" y1="104.1" x2="285.9" y2="106.5" stroke="#888" stroke-width="0.7"/><line x1="292.1" y1="107.8" x2="290.1" y2="110.2" stroke="#888" stroke-width="0.7"/><line x1="296.4" y1="111.5" x2="294.4" y2="113.9" stroke="#888" stroke-width="0.7"/><line x1="300.6" y1="115.2" x2="298.6" y2="117.6" stroke="#888" stroke-width="0.7"/><line x1="304.9" y1="118.9" x2="302.9" y2="121.3" stroke="#888" stroke-width="0.7"/><line x1="309.1" y1="122.6" x2="307.1" y2="125.0" stroke="#888" stroke-width="0.7"/><line x1="313.4" y1="126.3" x2="311.4" y2="128.7" stroke="#888" stroke-width="0.7"/><line x1="317.6" y1="130.0" x2="315.6" y2="132.4" stroke="#888" stroke-width="0.7"/><line x1="321.9" y1="133.7" x2="319.9" y2="136.1" stroke="#888" stroke-width="0.7"/><line x1="326.1" y1="137.4" x2="324.1" y2="139.8" stroke="#888" stroke-width="0.7"/><line x1="330.4" y1="141.1" x2="328.4" y2="143.5" stroke="#888" stroke-width="0.7"/><line x1="334.6" y1="144.8" x2="332.6" y2="147.2" stroke="#888" stroke-width="0.7"/>
<line x1="334.6" y1="144.8" x2="336.6" y2="147.2" stroke="#888" stroke-width="0.7"/><line x1="338.6" y1="141.1" x2="340.6" y2="143.5" stroke="#888" stroke-width="0.7"/><line x1="342.6" y1="137.3" x2="344.6" y2="139.7" stroke="#888" stroke-width="0.7"/><line x1="346.6" y1="133.6" x2="348.6" y2="136.0" stroke="#888" stroke-width="0.7"/><line x1="350.7" y1="129.8" x2="352.7" y2="132.2" stroke="#888" stroke-width="0.7"/><line x1="354.7" y1="126.1" x2="356.7" y2="128.5" stroke="#888" stroke-width="0.7"/><line x1="358.7" y1="122.3" x2="360.7" y2="124.7" stroke="#888" stroke-width="0.7"/><line x1="362.7" y1="118.6" x2="364.7" y2="121.0" stroke="#888" stroke-width="0.7"/><line x1="366.7" y1="114.8" x2="368.7" y2="117.2" stroke="#888" stroke-width="0.7"/><line x1="370.7" y1="111.1" x2="372.7" y2="113.5" stroke="#888" stroke-width="0.7"/><line x1="374.7" y1="107.3" x2="376.7" y2="109.7" stroke="#888" stroke-width="0.7"/><line x1="378.7" y1="103.6" x2="380.7" y2="106.0" stroke="#888" stroke-width="0.7"/><line x1="382.8" y1="99.8" x2="384.8" y2="102.2" stroke="#888" stroke-width="0.7"/><line x1="386.8" y1="96.0" x2="388.8" y2="98.5" stroke="#888" stroke-width="0.7"/><line x1="390.8" y1="92.3" x2="392.8" y2="94.7" stroke="#888" stroke-width="0.7"/><line x1="394.8" y1="88.5" x2="396.8" y2="91.0" stroke="#888" stroke-width="0.7"/><line x1="398.8" y1="84.8" x2="400.8" y2="87.2" stroke="#888" stroke-width="0.7"/>
<polygon points="314.5,21.0 398.8,78.8 334.6,138.8 249.7,64.8" fill="#e0c83c"/>
<g clip-path="url(#sclipA)"><polygon points="314.5,21.0 398.8,78.8 334.6,138.8 249.7,64.8" fill="url(#gA)"/><ellipse cx="262" cy="80" rx="30" ry="14" fill="#dee040" opacity="0.8" filter="url(#bb6)" transform="rotate(40 262 80)"/><ellipse cx="385" cy="88" rx="22" ry="12" fill="#e4de3e" opacity="0.9" filter="url(#bb6)" transform="rotate(-40 385 88)"/><line x1="357" y1="50" x2="292" y2="98" stroke="#c84c1c" stroke-width="3" opacity="0.45" filter="url(#blur1)"/><line x1="357" y1="50" x2="292" y2="98" stroke="#000" stroke-width="9" filter="url(#rspeck)" opacity="0.9"/><line x1="353" y1="56" x2="292" y2="101" stroke="#302010" stroke-width="1.2" opacity="0.35" stroke-dasharray="1,1.5"/></g>
<polygon points="314.5,21.0 398.8,78.8 334.6,138.8 249.7,64.8" fill="#000" filter="url(#speck)" opacity="0.25"/>
<rect x="428.5" y="19.3" width="5.699999999999989" height="134.0" fill="url(#cbar)" stroke="#444" stroke-width="0.5"/>
<line x1="434.2" y1="20.4" x2="435.7" y2="20.4" stroke="#333" stroke-width="0.6"/>
<text x="438.2" y="23.4" font-size="8.5" text-anchor="start" fill="#222" font-weight="bold" font-family='"Liberation Serif", serif' >5</text>
<line x1="434.2" y1="47.0" x2="435.7" y2="47.0" stroke="#333" stroke-width="0.6"/>
<text x="438.2" y="50.0" font-size="8.5" text-anchor="start" fill="#222" font-weight="bold" font-family='"Liberation Serif", serif' >4</text>
<line x1="434.2" y1="73.6" x2="435.7" y2="73.6" stroke="#333" stroke-width="0.6"/>
<text x="438.2" y="76.6" font-size="8.5" text-anchor="start" fill="#222" font-weight="bold" font-family='"Liberation Serif", serif' >3</text>
<line x1="434.2" y1="100.2" x2="435.7" y2="100.2" stroke="#333" stroke-width="0.6"/>
<text x="438.2" y="103.2" font-size="8.5" text-anchor="start" fill="#222" font-weight="bold" font-family='"Liberation Serif", serif' >2</text>
<line x1="434.2" y1="126.8" x2="435.7" y2="126.8" stroke="#333" stroke-width="0.6"/>
<text x="438.2" y="129.8" font-size="8.5" text-anchor="start" fill="#222" font-weight="bold" font-family='"Liberation Serif", serif' >1</text>
<line x1="434.2" y1="153.3" x2="435.7" y2="153.3" stroke="#333" stroke-width="0.6"/>
<text x="438.2" y="156.3" font-size="8.5" text-anchor="start" fill="#222" font-weight="bold" font-family='"Liberation Serif", serif' >0</text>
<text x="438.3" y="11.0" font-size="8" text-anchor="start" fill="#222" font-weight="bold" font-family='"Liberation Serif", serif' >μm</text>
<text transform="translate(246.1,79.2) rotate(40)" x="0" y="0" font-size="9.5" text-anchor="middle" dominant-baseline="central" fill="#222" font-weight="bold" font-family='"Liberation Serif", serif'>0</text>
<text transform="translate(270.7,100.6) rotate(40)" x="0" y="0" font-size="9.5" text-anchor="middle" dominant-baseline="central" fill="#222" font-weight="bold" font-family='"Liberation Serif", serif'>0.5</text>
<text transform="translate(277.6,120.6) rotate(40)" x="0" y="0" font-size="9.5" text-anchor="middle" dominant-baseline="central" fill="#222" font-weight="bold" font-family='"Liberation Serif", serif'>mm</text>
<text transform="translate(298.3,126.0) rotate(40)" x="0" y="0" font-size="9.5" text-anchor="middle" dominant-baseline="central" fill="#222" font-weight="bold" font-family='"Liberation Serif", serif'>1</text>
<text transform="translate(328.2,152.0) rotate(40)" x="0" y="0" font-size="9.5" text-anchor="middle" dominant-baseline="central" fill="#222" font-weight="bold" font-family='"Liberation Serif", serif'>2</text>
<text transform="translate(341.2,151.3) rotate(-50)" x="0" y="0" font-size="9.5" text-anchor="middle" dominant-baseline="central" fill="#222" font-weight="bold" font-family='"Liberation Serif", serif'>0</text>
<text transform="translate(371.4,123.4) rotate(-50)" x="0" y="0" font-size="9.5" text-anchor="middle" dominant-baseline="central" fill="#222" font-weight="bold" font-family='"Liberation Serif", serif'>0.5</text>
<text transform="translate(381.8,127.6) rotate(-50)" x="0" y="0" font-size="9.5" text-anchor="middle" dominant-baseline="central" fill="#222" font-weight="bold" font-family='"Liberation Serif", serif'>mm</text>
<text transform="translate(398.4,99.6) rotate(-50)" x="0" y="0" font-size="9.5" text-anchor="middle" dominant-baseline="central" fill="#222" font-weight="bold" font-family='"Liberation Serif", serif'>1</text>
<rect x="261" y="57" width="1.6" height="3" fill="#d03020"/>
<rect x="276" y="54" width="1.6" height="3" fill="#e04030"/>
<rect x="283" y="47" width="1.6" height="3" fill="#e05030"/>
<rect x="293" y="37" width="1.6" height="3" fill="#d04020"/>
<rect x="304" y="27" width="1.6" height="3" fill="#d06030"/>
<rect x="351" y="50" width="1.6" height="3" fill="#40c040"/>
<rect x="282" y="49" width="1.6" height="2" fill="#fff"/>
<text x="410.6" y="74.6" font-size="10" text-anchor="start" fill="#222" font-weight="bold" font-family='"Liberation Serif", serif' >5.05</text>
<text x="407.2" y="86.2" font-size="9.5" text-anchor="start" fill="#222" font-weight="bold" font-family='"Liberation Serif", serif' >0</text>
<path d="M398.5,78 C401,74 402,75 403.5,72.5" stroke="#555" stroke-width="0.6" fill="none"/>
<rect x="242" y="178.8" width="179" height="157.2" fill="#f7f7f7"/>
<polygon points="255.5,233.5 324.2,186.8 324.2,181.3 255.5,228.0" fill="url(#wallL)"/>
<polygon points="324.2,186.8 415.4,250.4 415.4,244.9 324.2,181.3" fill="url(#wallR)"/>
<polygon points="255.5,233.5 346.1,317.7 346.1,323.7 255.5,239.5" fill="#d8d8d8"/>
<polygon points="346.1,317.7 415.4,250.4 415.4,256.4 346.1,323.7" fill="#e8e8e8"/>
<line x1="255.5" y1="239.5" x2="253.5" y2="241.9" stroke="#888" stroke-width="0.7"/><line x1="260.0" y1="243.7" x2="258.0" y2="246.1" stroke="#888" stroke-width="0.7"/><line x1="264.6" y1="247.9" x2="262.6" y2="250.3" stroke="#888" stroke-width="0.7"/><line x1="269.1" y1="252.1" x2="267.1" y2="254.5" stroke="#888" stroke-width="0.7"/><line x1="273.6" y1="256.3" x2="271.6" y2="258.7" stroke="#888" stroke-width="0.7"/><line x1="278.1" y1="260.6" x2="276.1" y2="262.9" stroke="#888" stroke-width="0.7"/><line x1="282.7" y1="264.8" x2="280.7" y2="267.2" stroke="#888" stroke-width="0.7"/><line x1="287.2" y1="269.0" x2="285.2" y2="271.4" stroke="#888" stroke-width="0.7"/><line x1="291.7" y1="273.2" x2="289.7" y2="275.6" stroke="#888" stroke-width="0.7"/><line x1="296.3" y1="277.4" x2="294.3" y2="279.8" stroke="#888" stroke-width="0.7"/><line x1="300.8" y1="281.6" x2="298.8" y2="284.0" stroke="#888" stroke-width="0.7"/><line x1="305.3" y1="285.8" x2="303.3" y2="288.2" stroke="#888" stroke-width="0.7"/><line x1="309.9" y1="290.0" x2="307.9" y2="292.4" stroke="#888" stroke-width="0.7"/><line x1="314.4" y1="294.2" x2="312.4" y2="296.6" stroke="#888" stroke-width="0.7"/><line x1="318.9" y1="298.4" x2="316.9" y2="300.8" stroke="#888" stroke-width="0.7"/><line x1="323.5" y1="302.6" x2="321.5" y2="305.0" stroke="#888" stroke-width="0.7"/><line x1="328.0" y1="306.9" x2="326.0" y2="309.3" stroke="#888" stroke-width="0.7"/><line x1="332.5" y1="311.1" x2="330.5" y2="313.5" stroke="#888" stroke-width="0.7"/><line x1="337.0" y1="315.3" x2="335.0" y2="317.7" stroke="#888" stroke-width="0.7"/><line x1="341.6" y1="319.5" x2="339.6" y2="321.9" stroke="#888" stroke-width="0.7"/><line x1="346.1" y1="323.7" x2="344.1" y2="326.1" stroke="#888" stroke-width="0.7"/>
<line x1="346.1" y1="323.7" x2="348.1" y2="326.1" stroke="#888" stroke-width="0.7"/><line x1="350.4" y1="319.5" x2="352.4" y2="321.9" stroke="#888" stroke-width="0.7"/><line x1="354.8" y1="315.3" x2="356.8" y2="317.7" stroke="#888" stroke-width="0.7"/><line x1="359.1" y1="311.1" x2="361.1" y2="313.5" stroke="#888" stroke-width="0.7"/><line x1="363.4" y1="306.9" x2="365.4" y2="309.3" stroke="#888" stroke-width="0.7"/><line x1="367.8" y1="302.7" x2="369.8" y2="305.1" stroke="#888" stroke-width="0.7"/><line x1="372.1" y1="298.5" x2="374.1" y2="300.9" stroke="#888" stroke-width="0.7"/><line x1="376.4" y1="294.3" x2="378.4" y2="296.7" stroke="#888" stroke-width="0.7"/><line x1="380.8" y1="290.0" x2="382.8" y2="292.4" stroke="#888" stroke-width="0.7"/><line x1="385.1" y1="285.8" x2="387.1" y2="288.2" stroke="#888" stroke-width="0.7"/><line x1="389.4" y1="281.6" x2="391.4" y2="284.0" stroke="#888" stroke-width="0.7"/><line x1="393.7" y1="277.4" x2="395.7" y2="279.8" stroke="#888" stroke-width="0.7"/><line x1="398.1" y1="273.2" x2="400.1" y2="275.6" stroke="#888" stroke-width="0.7"/><line x1="402.4" y1="269.0" x2="404.4" y2="271.4" stroke="#888" stroke-width="0.7"/><line x1="406.7" y1="264.8" x2="408.7" y2="267.2" stroke="#888" stroke-width="0.7"/><line x1="411.1" y1="260.6" x2="413.1" y2="263.0" stroke="#888" stroke-width="0.7"/><line x1="415.4" y1="256.4" x2="417.4" y2="258.8" stroke="#888" stroke-width="0.7"/>
<polygon points="324.2,186.8 415.4,250.4 346.1,317.7 255.5,233.5" fill="#d6d634"/>
<g clip-path="url(#sclipB)"><line x1="362" y1="222" x2="298" y2="272" stroke="#d8842c" stroke-width="24" opacity="0.45" filter="url(#bb6)"/><line x1="350" y1="231" x2="298" y2="272" stroke="#d4602a" stroke-width="14" opacity="0.45" filter="url(#bb6)"/><line x1="362" y1="222" x2="298" y2="272" stroke="#000" stroke-width="20" filter="url(#rspeck)"/><line x1="335" y1="242" x2="298" y2="272" stroke="#000" stroke-width="16" filter="url(#rspeck)"/></g>
<polygon points="324.2,186.8 415.4,250.4 346.1,317.7 255.5,233.5" fill="#000" filter="url(#speck)" opacity="0.4"/>
<rect x="425.4" y="193.8" width="6.100000000000023" height="133.39999999999998" fill="url(#cbar)" stroke="#444" stroke-width="0.5"/>
<line x1="431.5" y1="214.8" x2="433.0" y2="214.8" stroke="#333" stroke-width="0.6"/>
<text x="435.5" y="217.8" font-size="8.5" text-anchor="start" fill="#222" font-weight="bold" font-family='"Liberation Serif", serif' >2.0</text>
<line x1="431.5" y1="242.8" x2="433.0" y2="242.8" stroke="#333" stroke-width="0.6"/>
<text x="435.5" y="245.8" font-size="8.5" text-anchor="start" fill="#222" font-weight="bold" font-family='"Liberation Serif", serif' >1.5</text>
<line x1="431.5" y1="270.9" x2="433.0" y2="270.9" stroke="#333" stroke-width="0.6"/>
<text x="435.5" y="273.9" font-size="8.5" text-anchor="start" fill="#222" font-weight="bold" font-family='"Liberation Serif", serif' >1.0</text>
<line x1="431.5" y1="298.7" x2="433.0" y2="298.7" stroke="#333" stroke-width="0.6"/>
<text x="435.5" y="301.7" font-size="8.5" text-anchor="start" fill="#222" font-weight="bold" font-family='"Liberation Serif", serif' >0.50</text>
<line x1="431.5" y1="327.2" x2="433.0" y2="327.2" stroke="#333" stroke-width="0.6"/>
<text x="435.5" y="330.2" font-size="8.5" text-anchor="start" fill="#222" font-weight="bold" font-family='"Liberation Serif", serif' >0.0</text>
<text x="432.0" y="186.0" font-size="8" text-anchor="start" fill="#222" font-weight="bold" font-family='"Liberation Serif", serif' >μm</text>
<text transform="translate(251.9,246.6) rotate(40)" x="0" y="0" font-size="9.5" text-anchor="middle" dominant-baseline="central" fill="#222" font-weight="bold" font-family='"Liberation Serif", serif'>0</text>
<text transform="translate(277.8,271.6) rotate(40)" x="0" y="0" font-size="9.5" text-anchor="middle" dominant-baseline="central" fill="#222" font-weight="bold" font-family='"Liberation Serif", serif'>0.5</text>
<text transform="translate(284.8,294.4) rotate(40)" x="0" y="0" font-size="9.5" text-anchor="middle" dominant-baseline="central" fill="#222" font-weight="bold" font-family='"Liberation Serif", serif'>mm</text>
<text transform="translate(305.8,299.6) rotate(40)" x="0" y="0" font-size="9.5" text-anchor="middle" dominant-baseline="central" fill="#222" font-weight="bold" font-family='"Liberation Serif", serif'>1</text>
<text transform="translate(339.7,329.0) rotate(40)" x="0" y="0" font-size="9.5" text-anchor="middle" dominant-baseline="central" fill="#222" font-weight="bold" font-family='"Liberation Serif", serif'>2</text>
<text transform="translate(353.6,327.7) rotate(-50)" x="0" y="0" font-size="9.5" text-anchor="middle" dominant-baseline="central" fill="#222" font-weight="bold" font-family='"Liberation Serif", serif'>0</text>
<text transform="translate(385.5,297.2) rotate(-50)" x="0" y="0" font-size="9.5" text-anchor="middle" dominant-baseline="central" fill="#222" font-weight="bold" font-family='"Liberation Serif", serif'>0.5</text>
<text transform="translate(398.0,300.6) rotate(-50)" x="0" y="0" font-size="9.5" text-anchor="middle" dominant-baseline="central" fill="#222" font-weight="bold" font-family='"Liberation Serif", serif'>mm</text>
<text transform="translate(413.2,270.1) rotate(-50)" x="0" y="0" font-size="9.5" text-anchor="middle" dominant-baseline="central" fill="#222" font-weight="bold" font-family='"Liberation Serif", serif'>1</text>
<rect x="358" y="222" width="2" height="2" fill="#40b0c0"/>
<rect x="362" y="220" width="2" height="2" fill="#40c040"/>
<rect x="368" y="218" width="2" height="2" fill="#e05050"/>
<rect x="350" y="226" width="2" height="2" fill="#60c040"/>
<rect x="243.4" y="357" width="181.6" height="156.60000000000002" fill="#f7f7f7"/>
<polygon points="253.4,410.7 320.0,364.0 320.0,358.5 253.4,405.2" fill="url(#wallL)"/>
<polygon points="320.0,364.0 407.4,428.8 407.4,423.3 320.0,358.5" fill="url(#wallR)"/>
<polygon points="253.4,410.7 339.5,495.6 339.5,501.6 253.4,416.7" fill="#d8d8d8"/>
<polygon points="339.5,495.6 407.4,428.8 407.4,434.8 339.5,501.6" fill="#e8e8e8"/>
<line x1="253.4" y1="416.7" x2="251.4" y2="419.1" stroke="#888" stroke-width="0.7"/><line x1="257.7" y1="420.9" x2="255.7" y2="423.3" stroke="#888" stroke-width="0.7"/><line x1="262.0" y1="425.2" x2="260.0" y2="427.6" stroke="#888" stroke-width="0.7"/><line x1="266.3" y1="429.4" x2="264.3" y2="431.8" stroke="#888" stroke-width="0.7"/><line x1="270.6" y1="433.7" x2="268.6" y2="436.1" stroke="#888" stroke-width="0.7"/><line x1="274.9" y1="437.9" x2="272.9" y2="440.3" stroke="#888" stroke-width="0.7"/><line x1="279.2" y1="442.2" x2="277.2" y2="444.6" stroke="#888" stroke-width="0.7"/><line x1="283.5" y1="446.4" x2="281.5" y2="448.8" stroke="#888" stroke-width="0.7"/><line x1="287.8" y1="450.7" x2="285.8" y2="453.1" stroke="#888" stroke-width="0.7"/><line x1="292.1" y1="454.9" x2="290.1" y2="457.3" stroke="#888" stroke-width="0.7"/><line x1="296.4" y1="459.1" x2="294.4" y2="461.5" stroke="#888" stroke-width="0.7"/><line x1="300.8" y1="463.4" x2="298.8" y2="465.8" stroke="#888" stroke-width="0.7"/><line x1="305.1" y1="467.6" x2="303.1" y2="470.0" stroke="#888" stroke-width="0.7"/><line x1="309.4" y1="471.9" x2="307.4" y2="474.3" stroke="#888" stroke-width="0.7"/><line x1="313.7" y1="476.1" x2="311.7" y2="478.5" stroke="#888" stroke-width="0.7"/><line x1="318.0" y1="480.4" x2="316.0" y2="482.8" stroke="#888" stroke-width="0.7"/><line x1="322.3" y1="484.6" x2="320.3" y2="487.0" stroke="#888" stroke-width="0.7"/><line x1="326.6" y1="488.9" x2="324.6" y2="491.3" stroke="#888" stroke-width="0.7"/><line x1="330.9" y1="493.1" x2="328.9" y2="495.5" stroke="#888" stroke-width="0.7"/><line x1="335.2" y1="497.4" x2="333.2" y2="499.8" stroke="#888" stroke-width="0.7"/><line x1="339.5" y1="501.6" x2="337.5" y2="504.0" stroke="#888" stroke-width="0.7"/>
<line x1="339.5" y1="501.6" x2="341.5" y2="504.0" stroke="#888" stroke-width="0.7"/><line x1="343.7" y1="497.4" x2="345.7" y2="499.8" stroke="#888" stroke-width="0.7"/><line x1="348.0" y1="493.2" x2="350.0" y2="495.6" stroke="#888" stroke-width="0.7"/><line x1="352.2" y1="489.1" x2="354.2" y2="491.5" stroke="#888" stroke-width="0.7"/><line x1="356.5" y1="484.9" x2="358.5" y2="487.3" stroke="#888" stroke-width="0.7"/><line x1="360.7" y1="480.7" x2="362.7" y2="483.1" stroke="#888" stroke-width="0.7"/><line x1="365.0" y1="476.6" x2="367.0" y2="478.9" stroke="#888" stroke-width="0.7"/><line x1="369.2" y1="472.4" x2="371.2" y2="474.8" stroke="#888" stroke-width="0.7"/><line x1="373.4" y1="468.2" x2="375.4" y2="470.6" stroke="#888" stroke-width="0.7"/><line x1="377.7" y1="464.0" x2="379.7" y2="466.4" stroke="#888" stroke-width="0.7"/><line x1="381.9" y1="459.9" x2="383.9" y2="462.2" stroke="#888" stroke-width="0.7"/><line x1="386.2" y1="455.7" x2="388.2" y2="458.1" stroke="#888" stroke-width="0.7"/><line x1="390.4" y1="451.5" x2="392.4" y2="453.9" stroke="#888" stroke-width="0.7"/><line x1="394.7" y1="447.3" x2="396.7" y2="449.7" stroke="#888" stroke-width="0.7"/><line x1="398.9" y1="443.2" x2="400.9" y2="445.6" stroke="#888" stroke-width="0.7"/><line x1="403.2" y1="439.0" x2="405.2" y2="441.4" stroke="#888" stroke-width="0.7"/><line x1="407.4" y1="434.8" x2="409.4" y2="437.2" stroke="#888" stroke-width="0.7"/>
<polygon points="320.0,364.0 407.4,428.8 339.5,495.6 253.4,410.7" fill="#d4e03c"/>
<g clip-path="url(#sclipC)"><ellipse cx="319" cy="403" rx="40" ry="20" fill="#e07a34" opacity="0.95" filter="url(#bb10)" transform="rotate(-36 319 403)"/><ellipse cx="352" cy="425" rx="42" ry="20" fill="#e07a34" opacity="0.95" filter="url(#bb10)" transform="rotate(-36 352 425)"/><line x1="360" y1="391" x2="294" y2="446" stroke="#d4e23e" stroke-width="10" opacity="0.95" filter="url(#blur1)"/></g>
<polygon points="320.0,364.0 407.4,428.8 339.5,495.6 253.4,410.7" fill="#000" filter="url(#speck)" opacity="0.3"/>
<rect x="428.7" y="371.3" width="5.699999999999989" height="133.39999999999998" fill="url(#cbar)" stroke="#444" stroke-width="0.5"/>
<line x1="434.4" y1="396.9" x2="435.9" y2="396.9" stroke="#333" stroke-width="0.6"/>
<text x="438.4" y="399.9" font-size="8.5" text-anchor="start" fill="#222" font-weight="bold" font-family='"Liberation Serif", serif' >0.8</text>
<line x1="434.4" y1="423.8" x2="435.9" y2="423.8" stroke="#333" stroke-width="0.6"/>
<text x="438.4" y="426.8" font-size="8.5" text-anchor="start" fill="#222" font-weight="bold" font-family='"Liberation Serif", serif' >0.6</text>
<line x1="434.4" y1="451.0" x2="435.9" y2="451.0" stroke="#333" stroke-width="0.6"/>
<text x="438.4" y="454.0" font-size="8.5" text-anchor="start" fill="#222" font-weight="bold" font-family='"Liberation Serif", serif' >0.4</text>
<line x1="434.4" y1="478.0" x2="435.9" y2="478.0" stroke="#333" stroke-width="0.6"/>
<text x="438.4" y="481.0" font-size="8.5" text-anchor="start" fill="#222" font-weight="bold" font-family='"Liberation Serif", serif' >0.2</text>
<line x1="434.4" y1="504.7" x2="435.9" y2="504.7" stroke="#333" stroke-width="0.6"/>
<text x="438.4" y="507.7" font-size="8.5" text-anchor="start" fill="#222" font-weight="bold" font-family='"Liberation Serif", serif' >0</text>
<text x="435.0" y="364.0" font-size="8" text-anchor="start" fill="#222" font-weight="bold" font-family='"Liberation Serif", serif' >μm</text>
<text transform="translate(249.8,422.8) rotate(40)" x="0" y="0" font-size="9.5" text-anchor="middle" dominant-baseline="central" fill="#222" font-weight="bold" font-family='"Liberation Serif", serif'>0</text>
<text transform="translate(274.3,446.6) rotate(40)" x="0" y="0" font-size="9.5" text-anchor="middle" dominant-baseline="central" fill="#222" font-weight="bold" font-family='"Liberation Serif", serif'>0.5</text>
<text transform="translate(283.1,471.1) rotate(40)" x="0" y="0" font-size="9.5" text-anchor="middle" dominant-baseline="central" fill="#222" font-weight="bold" font-family='"Liberation Serif", serif'>mm</text>
<text transform="translate(302.3,475.3) rotate(40)" x="0" y="0" font-size="9.5" text-anchor="middle" dominant-baseline="central" fill="#222" font-weight="bold" font-family='"Liberation Serif", serif'>1</text>
<text transform="translate(333.9,506.2) rotate(40)" x="0" y="0" font-size="9.5" text-anchor="middle" dominant-baseline="central" fill="#222" font-weight="bold" font-family='"Liberation Serif", serif'>2</text>
<text transform="translate(346.8,505.5) rotate(-50)" x="0" y="0" font-size="9.5" text-anchor="middle" dominant-baseline="central" fill="#222" font-weight="bold" font-family='"Liberation Serif", serif'>0</text>
<text transform="translate(379.4,474.6) rotate(-50)" x="0" y="0" font-size="9.5" text-anchor="middle" dominant-baseline="central" fill="#222" font-weight="bold" font-family='"Liberation Serif", serif'>0.5</text>
<text transform="translate(390.0,476.4) rotate(-50)" x="0" y="0" font-size="9.5" text-anchor="middle" dominant-baseline="central" fill="#222" font-weight="bold" font-family='"Liberation Serif", serif'>mm</text>
<text transform="translate(405.7,444.9) rotate(-50)" x="0" y="0" font-size="9.5" text-anchor="middle" dominant-baseline="central" fill="#222" font-weight="bold" font-family='"Liberation Serif", serif'>1</text>
<g clip-path="url(#clip1)">
<rect x="465" y="8" width="210" height="157" fill="#bababa"/>
<rect x="465" y="8" width="210" height="157" fill="#000" filter="url(#mblot)" opacity="0.25"/>
<ellipse cx="527" cy="78" rx="13" ry="22" fill="#d4d4d4" opacity="0.4" transform="rotate(0 527 78)" filter="url(#blur4)"/><ellipse cx="548" cy="47" rx="20" ry="6" fill="#d4d4d4" opacity="0.35" transform="rotate(0 548 47)" filter="url(#blur4)"/><polygon points="532.8,56 540.6,53.4 550,52 560.8,51.6 571.3,54.3 577.4,58.6 570,62 560,66 552,72 547.7,80.5 545,77 538.9,74.4 534.5,73.5 531.9,66.5" fill="#9c9c9c" filter="url(#blur05)"/><polygon points="533,58 541,55 546,58 544,66 541,74 535,73 532,66" fill="#7c7c7c" filter="url(#blur05)"/><polygon points="554.3,48.6 553.9,49.5 553.0,49.2 552.0,48.6 552.6,47.3 554.0,47.4" fill="#cfcfcf" opacity="0.925966871204295" filter="url(#blur05)"/><polygon points="547.1,51.2 546.8,52.0 545.6,52.3 545.1,51.2 545.6,49.9 546.9,50.2" fill="#dcdcdc" opacity="0.801517789928828" filter="url(#blur05)"/><polygon points="541.3,50.1 540.6,51.2 539.2,51.3 538.1,50.1 539.2,48.8 540.7,48.8" fill="#cfcfcf" opacity="0.8766338930916072" filter="url(#blur05)"/><polygon points="531.9,56.3 531.8,57.4 530.5,57.4 530.4,56.3 530.6,55.4 531.8,55.1" fill="#e6e6e6" opacity="0.856936581540197" filter="url(#blur05)"/><polygon points="546.0,77.8 545.8,78.8 544.7,78.7 543.9,77.8 544.9,77.1 546.0,76.4" fill="#cfcfcf" opacity="0.7530670973490982" filter="url(#blur05)"/><polygon points="531.3,71.5 530.9,72.7 529.5,72.6 529.1,71.5 529.8,70.8 530.8,70.5" fill="#f0f0f0" opacity="0.7973280214089544" filter="url(#blur05)"/><polygon points="562.5,52.2 562.5,53.7 561.0,53.4 560.0,52.2 560.8,50.8 562.3,51.0" fill="#f0f0f0" opacity="0.8790529944238779" filter="url(#blur05)"/><polygon points="547.3,78.2 546.9,79.3 545.4,79.7 545.3,78.2 545.6,77.0 546.7,77.5" fill="#dcdcdc" opacity="0.7509933584627514" filter="url(#blur05)"/><polygon points="530.2,55.7 529.8,56.2 529.2,56.4 529.1,55.7 529.1,54.9 529.9,55.2" fill="#dcdcdc" opacity="0.7412014074745323" filter="url(#blur05)"/><polygon points="544.8,51.0 543.8,51.7 542.8,52.0 542.0,51.0 542.7,49.8 544.0,49.8" fill="#8a8a8a" opacity="0.9873381760090612" filter="url(#blur05)"/><polygon points="531.0,67.4 530.9,68.1 530.0,68.2 529.8,67.4 530.0,66.6 530.9,66.6" fill="#f0f0f0" opacity="0.9231521413099507" filter="url(#blur05)"/><polygon points="530.3,56.2 529.5,57.2 528.0,57.8 527.8,56.2 528.1,54.7 529.7,54.8" fill="#cfcfcf" opacity="0.8590853704492049" filter="url(#blur05)"/><polygon points="534.9,55.8 534.6,56.9 533.5,56.7 533.1,55.8 533.4,54.8 534.3,55.2" fill="#dcdcdc" opacity="0.8138801229932751" filter="url(#blur05)"/><polygon points="543.4,50.6 542.3,51.9 540.9,51.8 540.1,50.6 540.8,49.3 542.2,49.6" fill="#cfcfcf" opacity="0.9147045295546736" filter="url(#blur05)"/><polygon points="546.9,84.5 546.2,85.8 544.8,85.7 544.2,84.5 544.5,83.0 546.2,83.1" fill="#dcdcdc" opacity="0.8866547070423028" filter="url(#blur05)"/><polygon points="530.6,61.6 530.5,62.3 529.5,62.5 529.3,61.6 529.7,61.0 530.3,61.1" fill="#cfcfcf" opacity="0.9079086000644865" filter="url(#blur05)"/><polygon points="558.4,48.8 557.7,49.7 556.8,49.4 555.8,48.8 556.5,47.6 557.7,47.8" fill="#e6e6e6" opacity="0.7910364487230181" filter="url(#blur05)"/><polygon points="550.9,45.9 550.7,47.3 549.4,46.8 548.8,45.9 549.1,44.5 550.3,45.2" fill="#cfcfcf" opacity="0.8494286612743042" filter="url(#blur05)"/><polygon points="569.7,49.5 569.6,51.1 568.1,50.5 566.9,49.5 567.9,48.2 569.2,48.5" fill="#8a8a8a" opacity="0.9811475413533077" filter="url(#blur05)"/><polygon points="539.8,79.6 539.5,80.2 538.8,80.2 538.3,79.6 538.7,79.0 539.5,79.0" fill="#f0f0f0" opacity="0.946087844243368" filter="url(#blur05)"/><polygon points="542.6,77.5 541.8,78.0 541.1,78.3 540.5,77.5 541.1,76.7 541.9,76.8" fill="#f0f0f0" opacity="0.9833339818424858" filter="url(#blur05)"/><polygon points="530.0,56.9 529.7,57.3 529.0,57.8 528.7,56.9 529.0,56.0 529.9,56.1" fill="#cfcfcf" opacity="0.7569165245158562" filter="url(#blur05)"/><polygon points="547.1,79.4 546.9,80.0 546.0,80.4 545.7,79.4 546.3,78.9 546.9,78.8" fill="#f0f0f0" opacity="0.8041424076859778" filter="url(#blur05)"/><polygon points="540.3,51.2 539.7,51.8 539.1,51.8 538.9,51.2 539.0,50.6 539.9,50.4" fill="#e6e6e6" opacity="0.7832027315257863" filter="url(#blur05)"/><polygon points="534.5,68.4 534.2,69.1 533.6,68.9 532.8,68.4 533.5,67.9 534.1,68.0" fill="#f0f0f0" opacity="0.7192130044672677" filter="url(#blur05)"/><polygon points="533.7,54.9 533.4,56.1 532.1,56.1 531.8,54.9 532.3,54.1 533.3,53.9" fill="#e6e6e6" opacity="0.7675328915536294" filter="url(#blur05)"/><polygon points="543.7,50.3 543.6,51.7 542.0,51.7 541.4,50.3 542.0,48.9 543.4,49.3" fill="#f0f0f0" opacity="0.886578700265984" filter="url(#blur05)"/><polygon points="556.3,47.3 555.7,48.1 554.9,47.9 554.6,47.3 554.8,46.5 555.9,46.3" fill="#8a8a8a" opacity="0.7579256874603432" filter="url(#blur05)"/><polygon points="543.2,80.3 543.0,81.3 542.1,81.0 541.7,80.3 541.6,78.9 543.1,79.1" fill="#dcdcdc" opacity="0.9162845001222513" filter="url(#blur05)"/><polygon points="534.8,78.7 534.4,79.5 533.4,79.5 533.0,78.7 533.4,77.9 534.5,77.6" fill="#f0f0f0" opacity="0.8574369449526291" filter="url(#blur05)"/><polygon points="544.6,51.0 544.0,52.0 542.8,52.1 542.4,51.0 542.8,50.0 544.0,50.0" fill="#dcdcdc" opacity="0.875005581073687" filter="url(#blur05)"/><polygon points="575.3,46.3 575.2,47.5 573.9,47.3 573.0,46.3 574.0,45.4 575.3,44.8" fill="#f0f0f0" opacity="0.8786143004142368" filter="url(#blur05)"/><polygon points="561.0,48.8 560.0,49.8 558.8,50.0 558.4,48.8 558.8,47.7 559.9,48.1" fill="#f0f0f0" opacity="0.8993370600437914" filter="url(#blur05)"/><polygon points="535.3,76.9 535.1,77.7 534.4,77.3 534.1,76.9 534.2,76.1 535.1,76.1" fill="#dcdcdc" opacity="0.8827079616862941" filter="url(#blur05)"/><polygon points="544.4,76.7 543.8,77.6 542.9,77.4 542.7,76.7 542.8,76.0 543.6,76.1" fill="#f0f0f0" opacity="0.8936567084922167" filter="url(#blur05)"/><polygon points="568.9,51.3 568.3,52.5 566.8,52.6 566.6,51.3 567.0,50.3 568.2,50.2" fill="#8a8a8a" opacity="0.8180174083002919" filter="url(#blur05)"/><polygon points="560.8,45.8 560.6,46.4 559.9,46.4 559.3,45.8 560.0,45.4 560.5,45.4" fill="#dcdcdc" opacity="0.9399837974425213" filter="url(#blur05)"/><polygon points="569.6,49.1 569.1,50.0 568.2,49.8 567.9,49.1 568.3,48.5 569.1,48.3" fill="#8a8a8a" opacity="0.7077741493337211" filter="url(#blur05)"/><polygon points="533.1,58.9 532.5,59.9 531.1,60.2 530.8,58.9 531.3,57.9 532.4,58.0" fill="#cfcfcf" opacity="0.8750006318699828" filter="url(#blur05)"/><polygon points="559.5,50.0 558.7,50.7 557.9,50.8 557.0,50.0 557.7,49.0 558.7,49.3" fill="#f0f0f0" opacity="0.9821804284225206" filter="url(#blur05)"/><polygon points="548.9,80.0 548.5,80.8 547.7,80.7 546.7,80.0 547.3,78.7 548.6,79.2" fill="#8a8a8a" opacity="0.9770035649323224" filter="url(#blur05)"/><polygon points="534.6,70.5 534.2,70.9 533.7,70.9 533.3,70.5 533.6,70.0 534.3,69.8" fill="#8a8a8a" opacity="0.7381376350113295" filter="url(#blur05)"/><polygon points="537.1,51.1 536.8,52.0 535.8,51.9 535.4,51.1 535.9,50.5 536.6,50.4" fill="#8a8a8a" opacity="0.9171107167810963" filter="url(#blur05)"/><polygon points="552.4,52.3 551.7,53.4 550.4,53.5 550.0,52.3 550.3,51.1 551.7,51.2" fill="#cfcfcf" opacity="0.827215432575653" filter="url(#blur05)"/><polygon points="528.9,61.5 528.1,62.1 527.1,62.6 526.2,61.5 527.2,60.6 528.2,60.7" fill="#e6e6e6" opacity="0.8664752759489658" filter="url(#blur05)"/><polygon points="545.8,54.5 545.3,55.3 544.3,55.4 543.9,54.5 544.6,54.0 545.1,54.0" fill="#e6e6e6" opacity="0.8089885161924044" filter="url(#blur05)"/><polygon points="540.6,79.8 540.6,81.5 538.8,81.2 538.0,79.8 539.1,78.9 540.6,78.1" fill="#cfcfcf" opacity="0.8769996102988846" filter="url(#blur05)"/><polygon points="545.4,50.4 544.5,51.8 543.2,51.3 542.0,50.4 543.1,49.4 544.4,49.2" fill="#8a8a8a" opacity="0.9300354064750302" filter="url(#blur05)"/><polygon points="530.1,73.5 529.8,74.2 529.2,74.1 528.5,73.5 529.0,72.8 529.7,73.2" fill="#e6e6e6" opacity="0.7108992989056766" filter="url(#blur05)"/><polygon points="536.9,53.5 536.6,54.9 535.3,54.3 534.4,53.5 535.3,52.7 536.3,52.5" fill="#8a8a8a" opacity="0.7758688917044337" filter="url(#blur05)"/><polygon points="530.7,58.2 530.2,58.7 529.7,58.6 529.2,58.2 529.6,57.7 530.4,57.4" fill="#8a8a8a" opacity="0.8461452194417114" filter="url(#blur05)"/><polygon points="534.5,74.7 534.1,75.8 533.0,75.5 531.8,74.7 532.6,73.2 534.4,73.2" fill="#dcdcdc" opacity="0.9449933511824586" filter="url(#blur05)"/><polygon points="531.5,59.7 531.3,61.1 529.8,60.8 528.6,59.7 530.0,58.9 531.1,58.7" fill="#cfcfcf" opacity="0.8035090367760223" filter="url(#blur05)"/><polygon points="543.2,77.6 542.1,79.1 540.4,79.1 539.4,77.6 540.2,75.8 542.2,75.9" fill="#f0f0f0" opacity="0.8836375981319939" filter="url(#blur05)"/><polygon points="536.3,50.7 535.6,51.4 534.8,51.5 534.5,50.7 534.9,50.1 535.7,49.9" fill="#e6e6e6" opacity="0.9330098310967748" filter="url(#blur05)"/><polygon points="534.1,56.5 533.1,57.0 532.5,57.2 531.8,56.5 532.5,55.9 533.2,55.9" fill="#8a8a8a" opacity="0.8891088205929079" filter="url(#blur05)"/><polygon points="557.5,51.4 557.3,52.0 556.6,52.0 556.1,51.4 556.6,50.8 557.2,51.0" fill="#e6e6e6" opacity="0.9647779544243988" filter="url(#blur05)"/><polygon points="556.0,48.7 555.8,49.4 555.2,49.1 554.9,48.7 555.0,48.1 555.7,48.2" fill="#8a8a8a" opacity="0.9674539003860538" filter="url(#blur05)"/><polygon points="558.7,48.3 558.6,49.0 557.6,49.2 557.0,48.3 557.7,47.6 558.7,47.3" fill="#e6e6e6" opacity="0.7094481952964121" filter="url(#blur05)"/><polygon points="543.9,50.8 542.7,51.6 541.6,52.1 540.7,50.8 541.7,49.7 543.0,49.6" fill="#cfcfcf" opacity="0.8429282085270566" filter="url(#blur05)"/><polygon points="547.1,48.4 546.3,49.0 545.3,49.5 544.9,48.4 545.4,47.5 546.6,47.4" fill="#cfcfcf" opacity="0.9257122920569787" filter="url(#blur05)"/><polygon points="530.9,63.6 530.5,64.4 529.7,64.2 529.5,63.6 529.5,62.7 530.5,62.9" fill="#f0f0f0" opacity="0.7407137224440035" filter="url(#blur05)"/><polygon points="544.8,78.7 544.2,79.8 543.1,79.6 542.4,78.7 543.0,77.7 544.2,77.8" fill="#f0f0f0" opacity="0.810247158844039" filter="url(#blur05)"/><polygon points="554.1,49.9 553.8,50.6 552.8,50.8 552.3,49.9 552.9,49.1 554.1,48.6" fill="#e6e6e6" opacity="0.7983903159047969" filter="url(#blur05)"/><polygon points="534.8,55.3 533.9,55.9 532.8,56.5 532.9,55.3 533.0,54.3 534.0,54.5" fill="#dcdcdc" opacity="0.7008081069159753" filter="url(#blur05)"/><polygon points="531.4,66.1 530.5,66.8 529.2,67.6 529.1,66.1 529.4,65.0 530.8,64.9" fill="#dcdcdc" opacity="0.9109307593202504" filter="url(#blur05)"/><polygon points="531.2,72.5 530.6,73.1 529.5,73.7 529.0,72.5 529.7,71.5 530.8,71.5" fill="#e6e6e6" opacity="0.7159069077663918" filter="url(#blur05)"/><polygon points="534.4,69.1 532.9,69.8 531.6,70.6 531.0,69.1 531.5,67.5 533.0,68.1" fill="#dcdcdc" opacity="0.7144269697378889" filter="url(#blur05)"/><polygon points="573.9,51.5 573.6,52.2 572.9,52.2 572.3,51.5 573.0,51.1 573.6,50.9" fill="#e6e6e6" opacity="0.7130747413420049" filter="url(#blur05)"/><polygon points="553.2,49.7 552.9,51.0 551.5,50.8 551.0,49.7 551.6,48.7 552.7,48.7" fill="#f0f0f0" opacity="0.8028158215725356" filter="url(#blur05)"/><polygon points="531.5,58.7 531.3,59.7 530.4,59.2 529.5,58.7 530.2,57.8 531.0,58.2" fill="#e6e6e6" opacity="0.8600619702500281" filter="url(#blur05)"/><polygon points="536.0,77.2 535.6,77.8 535.0,77.7 534.4,77.2 534.8,76.4 535.5,76.8" fill="#cfcfcf" opacity="0.7195572756690646" filter="url(#blur05)"/><polygon points="548.3,51.4 547.9,52.9 546.6,52.2 545.6,51.4 546.5,50.5 547.9,50.0" fill="#cfcfcf" opacity="0.8204375153322534" filter="url(#blur05)"/><polygon points="533.3,52.9 532.4,53.9 531.3,53.7 530.8,52.9 530.8,51.2 532.6,51.5" fill="#8a8a8a" opacity="0.7596965149041643" filter="url(#blur05)"/><polygon points="564.0,48.3 563.4,48.9 562.7,48.8 562.4,48.3 562.7,47.8 563.4,47.6" fill="#8a8a8a" opacity="0.7542877808286557" filter="url(#blur05)"/><polygon points="544.4,49.9 544.4,51.1 543.1,51.0 542.6,49.9 543.1,48.8 544.4,48.7" fill="#8a8a8a" opacity="0.752039002512095" filter="url(#blur05)"/><polygon points="537.8,53.4 537.0,54.2 536.3,53.9 535.6,53.4 536.0,52.4 537.0,52.6" fill="#e6e6e6" opacity="0.8162712053942591" filter="url(#blur05)"/><polygon points="562.3,48.0 561.7,48.6 561.0,48.6 560.4,48.0 561.1,47.5 561.7,47.4" fill="#e6e6e6" opacity="0.7605505982177949" filter="url(#blur05)"/><polygon points="562.2,48.1 561.1,49.0 560.0,49.0 558.9,48.1 559.8,46.7 561.1,47.2" fill="#f0f0f0" opacity="0.7830485433253709" filter="url(#blur05)"/><polygon points="569.5,49.4 568.8,50.5 567.4,50.9 567.3,49.4 567.8,48.7 568.8,48.4" fill="#f0f0f0" opacity="0.8048682313440827" filter="url(#blur05)"/><polygon points="537.0,50.6 536.2,51.2 535.3,51.5 535.0,50.6 535.5,50.0 536.4,49.6" fill="#cfcfcf" opacity="0.9316219258131355" filter="url(#blur05)"/><polygon points="552.5,49.1 552.3,49.8 551.4,49.9 550.8,49.1 551.5,48.5 552.3,48.4" fill="#8a8a8a" opacity="0.8114712248740346" filter="url(#blur05)"/><polygon points="557.4,51.0 556.8,52.2 555.4,52.3 555.1,51.0 555.5,49.8 556.8,49.9" fill="#e6e6e6" opacity="0.8429388492523926" filter="url(#blur05)"/><polygon points="563.2,46.3 562.6,47.4 561.5,47.1 561.3,46.3 561.5,45.5 562.5,45.4" fill="#dcdcdc" opacity="0.8136268394615138" filter="url(#blur05)"/><polygon points="539.2,79.2 538.7,80.9 537.1,80.2 536.6,79.2 536.9,77.8 538.4,78.0" fill="#8a8a8a" opacity="0.9197681497228595" filter="url(#blur05)"/><polygon points="532.9,52.8 532.5,53.2 532.0,53.2 531.7,52.8 532.0,52.4 532.7,52.1" fill="#dcdcdc" opacity="0.9093326103877815" filter="url(#blur05)"/><polygon points="534.9,58.3 534.0,59.1 533.0,59.2 531.5,58.3 532.6,56.7 534.2,57.2" fill="#e6e6e6" opacity="0.768454972207981" filter="url(#blur05)"/><polygon points="535.9,76.1 535.2,77.2 533.7,77.5 533.7,76.1 533.7,74.8 535.3,74.8" fill="#e6e6e6" opacity="0.7384295363896113" filter="url(#blur05)"/><polygon points="537.0,74.8 536.2,75.6 535.3,75.6 534.9,74.8 535.4,74.1 536.1,74.1" fill="#dcdcdc" opacity="0.87557847392461" filter="url(#blur05)"/><polygon points="568.5,53.5 567.9,54.1 567.1,54.3 566.8,53.5 567.2,53.0 567.9,52.8" fill="#8a8a8a" opacity="0.8236750878771864" filter="url(#blur05)"/><polygon points="534.5,61.6 534.5,62.3 533.8,62.0 533.1,61.6 533.7,61.0 534.4,61.0" fill="#cfcfcf" opacity="0.7620096463779921" filter="url(#blur05)"/><polygon points="547.6,78.4 547.4,79.3 546.2,79.7 546.1,78.4 546.3,77.4 547.3,77.7" fill="#8a8a8a" opacity="0.9833179206086728" filter="url(#blur05)"/><polygon points="569.2,50.4 568.3,51.7 566.8,51.6 566.1,50.4 566.6,48.8 568.1,49.4" fill="#e6e6e6" opacity="0.9874325497824226" filter="url(#blur05)"/><polygon points="538.7,81.3 538.0,82.4 536.8,82.3 536.2,81.3 536.5,79.9 538.1,80.1" fill="#cfcfcf" opacity="0.7180680332611944" filter="url(#blur05)"/><polygon points="556.8,51.6 556.5,52.6 555.5,52.3 554.5,51.6 555.5,50.8 556.5,50.7" fill="#e6e6e6" opacity="0.8231902488685016" filter="url(#blur05)"/><polygon points="530.1,72.2 529.6,73.0 528.9,72.9 528.1,72.2 528.8,71.4 529.6,71.6" fill="#cfcfcf" opacity="0.8042245259937758" filter="url(#blur05)"/><polygon points="544.4,80.7 543.3,82.2 541.8,81.8 540.5,80.7 541.7,79.5 542.9,79.8" fill="#dcdcdc" opacity="0.7498292759657024" filter="url(#blur05)"/><polygon points="530.4,69.0 529.4,69.8 528.2,70.3 527.3,69.0 528.5,68.3 529.7,67.6" fill="#e6e6e6" opacity="0.7630026297732608" filter="url(#blur05)"/><polygon points="545.3,79.5 545.0,80.4 543.9,80.5 543.3,79.5 543.7,78.2 544.9,78.8" fill="#e6e6e6" opacity="0.9869955023320487" filter="url(#blur05)"/><polygon points="541.3,48.2 541.3,49.4 539.8,49.4 539.7,48.2 540.0,47.2 541.2,47.1" fill="#f0f0f0" opacity="0.8332803953397242" filter="url(#blur05)"/><polygon points="570.6,49.3 570.1,49.9 569.3,50.1 568.9,49.3 569.3,48.5 570.1,48.7" fill="#f0f0f0" opacity="0.8808795963519667" filter="url(#blur05)"/><polygon points="533.5,72.0 532.9,73.3 531.8,72.6 530.8,72.0 531.4,70.9 532.9,70.7" fill="#dcdcdc" opacity="0.9700043206997861" filter="url(#blur05)"/><polygon points="567.4,51.5 566.7,52.2 565.5,52.7 565.2,51.5 565.8,50.7 566.8,50.5" fill="#f0f0f0" opacity="0.8894710906600449" filter="url(#blur05)"/><polygon points="561.7,49.4 561.4,50.0 560.3,50.7 559.9,49.4 560.5,48.6 561.4,48.8" fill="#cfcfcf" opacity="0.8787600449579046" filter="url(#blur05)"/><polygon points="553.7,48.6 553.2,49.9 551.8,49.7 551.4,48.6 552.0,47.8 553.0,47.6" fill="#dcdcdc" opacity="0.7136606768893302" filter="url(#blur05)"/><polygon points="533.8,81.4 533.3,82.2 532.2,82.5 532.1,81.4 532.4,80.6 533.3,80.7" fill="#e6e6e6" opacity="0.9417555414155151" filter="url(#blur05)"/><polygon points="552.0,50.5 551.4,51.8 550.2,51.3 549.9,50.5 550.2,49.7 551.1,49.8" fill="#f0f0f0" opacity="0.8078726182529573" filter="url(#blur05)"/><polygon points="525.6,62.7 525.2,63.5 524.3,63.4 524.0,62.7 524.2,61.8 525.3,61.8" fill="#dcdcdc" opacity="0.9704068881530199" filter="url(#blur05)"/><polygon points="552.3,79.5 551.2,81.1 549.5,81.0 548.6,79.5 549.9,78.7 551.3,77.9" fill="#f0f0f0" opacity="0.7383201745689688" filter="url(#blur05)"/><polygon points="560.9,52.1 559.9,53.7 558.1,53.7 557.4,52.1 558.3,50.9 559.6,51.0" fill="#8a8a8a" opacity="0.9278781766059645" filter="url(#blur05)"/><ellipse cx="527" cy="80" rx="5" ry="12" fill="#d4d4d4" opacity="0.5" transform="rotate(0 527 80)" filter="url(#blur2)"/><ellipse cx="545" cy="46" rx="14" ry="4" fill="#d4d4d4" opacity="0.5" transform="rotate(0 545 46)" filter="url(#blur2)"/><polygon points="554.1,60.0 554.4,61.1 553.3,61.7 552.4,61.0 551.4,60.6 551.3,59.4 552.4,59.0 553.3,58.3 554.0,59.2" fill="#d8d8d8" opacity="0.7" filter="url(#blur1)"/><ellipse cx="579" cy="90" rx="33" ry="33" fill="#a6a6a6" opacity="0.6" transform="rotate(0 579 90)" filter="url(#blur2)"/><polygon points="620.9,71.1 621.4,74.0 619.2,73.8 618.2,76.9 617.0,74.3 616.0,73.1 614.8,71.1 616.0,69.1 616.8,67.2 618.2,68.4 619.8,66.6 620.6,68.9" fill="#6e6e6e" opacity="0.9" filter="url(#blur07)"/><polygon points="673.9,50.0 673.5,53.0 673.3,57.7 669.9,55.1 667.4,57.6 664.7,55.9 665.5,51.4 666.1,48.8 666.2,45.9 667.4,42.1 670.2,42.1 671.7,45.5 674.0,46.7" fill="#6c6c6c" opacity="0.95" filter="url(#blur07)"/><polygon points="675.0,60.0 675.1,61.8 674.8,64.8 672.0,64.8 670.5,62.7 668.3,62.1 667.6,60.0 669.1,58.3 669.3,55.4 672.0,56.9 674.1,56.4 675.9,57.7" fill="#727272" opacity="0.9" filter="url(#blur07)"/><ellipse cx="663" cy="58" rx="3" ry="6" fill="#d8d8d8" opacity="0.6" transform="rotate(0 663 58)" filter="url(#blur1)"/><ellipse cx="650" cy="35" rx="18" ry="8" fill="#a8a8a8" opacity="0.4" transform="rotate(10 650 35)" filter="url(#blur2)"/><polygon points="479.5,93.3 476.6,95.6 473.9,98.2 471.0,95.4 467.6,94.6 468.4,92.2 469.6,89.5 473.4,90.7 477.7,90.3" fill="#888" opacity="0.85" filter="url(#blur1)"/><polygon points="473.0,100.0 470.9,101.7 469.2,102.5 467.6,102.1 465.2,101.3 466.5,99.2 466.9,96.6 469.4,96.3 471.1,98.1" fill="#8a8a8a" opacity="0.8" filter="url(#blur1)"/><polygon points="509.3,116.3 508.8,117.5 507.6,118.1 506.7,117.3 505.5,116.9 505.0,115.5 506.5,114.9 507.5,115.2 508.4,115.4" fill="#8a8a8a" opacity="0.8" filter="url(#blur1)"/><polygon points="514.8,126.6 515.3,128.0 514.0,128.1 512.5,128.7 512.5,127.0 511.8,125.9 512.6,124.7 514.1,124.6 515.6,125.0" fill="#8a8a8a" opacity="0.8" filter="url(#blur1)"/><polygon points="491.8,98.0 490.5,99.8 486.8,100.2 484.0,99.6 483.1,98.5 482.0,97.3 483.8,96.2 486.5,96.6 488.3,97.1" fill="#7c7c7c" opacity="0.85" filter="url(#blur1)"/><polygon points="473.7,112.0 472.4,114.0 470.6,115.2 468.4,114.8 465.3,113.7 466.3,110.6 468.0,108.5 470.5,108.9 473.1,109.4" fill="#868686" opacity="0.8" filter="url(#blur1)"/><polygon points="471.5,124.0 471.2,126.7 468.7,127.8 466.8,126.1 465.5,124.9 464.2,122.6 467.0,122.3 468.7,120.1 471.0,121.5" fill="#868686" opacity="0.8" filter="url(#blur1)"/><polygon points="482.7,133.0 483.7,135.6 478.8,135.4 474.7,136.1 471.5,134.3 473.4,132.1 475.4,130.6 478.8,130.4 480.9,131.7" fill="#8a8a8a" opacity="0.7" filter="url(#blur1)"/><polygon points="552.3,109.8 550.5,111.2 549.3,112.7 547.2,112.6 545.8,110.9 545.4,108.6 547.1,106.8 549.4,106.3 550.1,108.7" fill="#7a7a7a" opacity="0.9" filter="url(#blur1)"/><polygon points="574.6,118.3 572.4,119.7 571.1,121.0 568.9,120.7 568.2,119.0 566.0,116.9 569.3,116.6 570.9,116.4 573.7,116.1" fill="#747474" opacity="0.9" filter="url(#blur1)"/><polygon points="598.5,121.0 597.8,123.4 597.0,124.4 596.2,124.0 595.5,122.4 596.0,120.2 595.9,116.7 597.0,117.6 598.0,118.2" fill="#777" opacity="0.9" filter="url(#blur1)"/><polygon points="622.0,99.3 622.3,101.4 620.3,102.4 618.9,100.8 617.6,100.1 617.7,98.5 618.4,96.8 620.4,95.8 621.6,97.8" fill="#777" opacity="0.9" filter="url(#blur1)"/><polygon points="575.3,117.3 572.5,119.1 571.2,121.8 569.1,119.6 567.0,118.5 568.0,116.4 568.3,113.7 571.2,112.8 573.0,115.1" fill="#707070" opacity="0.9" filter="url(#blur1)"/><polygon points="577.9,120.0 578.1,121.7 576.5,122.9 575.1,121.5 574.2,120.7 572.6,118.8 575.1,118.4 576.3,118.1 578.8,117.7" fill="#707070" opacity="0.9" filter="url(#blur1)"/><polygon points="593.2,112.0 593.7,113.9 591.7,113.7 590.6,113.5 589.5,112.7 589.7,111.4 590.1,109.8 591.7,110.4 593.7,110.1" fill="#787878" opacity="0.9" filter="url(#blur1)"/><polygon points="599.6,112.0 598.9,113.8 597.2,114.8 595.8,113.6 595.3,112.5 593.9,111.0 595.5,109.9 596.9,110.6 599.0,110.1" fill="#787878" opacity="0.9" filter="url(#blur1)"/><polygon points="622.3,99.8 621.0,101.1 620.0,102.4 618.1,102.3 617.2,100.7 617.3,99.0 618.1,97.5 620.0,97.2 621.2,98.4" fill="#7c7c7c" opacity="0.9" filter="url(#blur1)"/><polygon points="651.3,92.5 651.0,93.3 650.2,93.8 649.5,93.8 648.5,94.2 647.7,93.5 647.9,92.5 647.9,91.6 648.7,91.1 649.5,90.8 650.2,91.3 650.9,91.7" fill="#787878" opacity="0.9" filter="url(#blur07)"/><polygon points="655.7,100.7 655.1,101.7 654.6,102.8 653.6,104.3 652.1,103.7 651.3,102.3 652.1,100.7 652.3,99.8 652.9,99.2 653.6,97.8 654.5,98.7 655.6,99.3" fill="#787878" opacity="0.9" filter="url(#blur07)"/><polygon points="646.9,110.6 646.4,112.3 645.6,114.2 643.7,113.7 642.7,112.6 641.8,111.8 640.6,110.6 641.0,108.9 642.0,107.3 643.7,106.5 644.6,108.8 646.9,108.6" fill="#787878" opacity="0.9" filter="url(#blur07)"/><polygon points="661.3,120.5 661.3,121.7 660.9,123.2 659.3,122.6 657.7,123.2 657.8,121.4 656.9,120.5 656.5,118.9 658.3,118.8 659.3,118.4 660.4,118.6 661.0,119.5" fill="#787878" opacity="0.9" filter="url(#blur07)"/><polygon points="666.2,114.7 666.3,115.9 665.1,116.1 664.3,116.7 663.6,115.9 662.4,115.8 663.0,114.7 663.3,114.1 663.5,113.3 664.3,113.5 665.0,113.4 665.3,114.1" fill="#787878" opacity="0.9" filter="url(#blur07)"/><polygon points="647.8,123.8 647.5,124.6 646.8,124.9 646.2,125.2 645.7,124.6 644.9,124.5 644.4,123.8 645.0,123.1 645.7,123.0 646.2,122.2 646.9,122.5 647.2,123.2" fill="#787878" opacity="0.9" filter="url(#blur07)"/><polygon points="630.6,123.8 630.7,124.4 630.2,124.6 629.7,125.5 628.8,125.4 628.2,124.7 627.8,123.8 629.0,123.4 629.3,123.1 629.7,122.4 630.2,122.9 631.3,122.9" fill="#787878" opacity="0.9" filter="url(#blur07)"/><polygon points="641.6,139.4 641.4,140.4 640.6,141.1 639.6,141.8 638.9,140.6 638.5,140.0 637.7,139.4 637.6,138.3 638.9,138.1 639.6,138.3 640.6,137.7 641.7,138.2" fill="#787878" opacity="0.9" filter="url(#blur07)"/><polygon points="648.9,139.4 648.5,140.2 648.0,141.2 647.0,141.0 646.3,140.5 646.1,139.9 644.9,139.4 645.3,138.4 646.0,137.7 647.0,137.8 648.0,137.7 648.3,138.7" fill="#787878" opacity="0.9" filter="url(#blur07)"/><polygon points="649.3,156.6 648.6,157.5 649.0,160.0 647.0,159.7 645.8,158.6 644.3,158.2 644.1,156.6 644.9,155.4 645.0,153.2 647.0,154.4 648.2,154.5 649.9,154.9" fill="#787878" opacity="0.9" filter="url(#blur07)"/><polygon points="674.4,160.0 674.9,161.8 673.2,162.6 671.7,163.1 670.6,161.9 669.8,161.1 669.1,160.0 669.0,158.5 670.4,157.8 671.7,158.3 672.8,158.1 674.0,158.7" fill="#787878" opacity="0.9" filter="url(#blur07)"/><polygon points="674.1,85.9 674.5,87.4 673.7,88.7 672.5,89.3 671.7,87.7 670.1,87.7 669.4,85.9 671.2,84.9 671.7,84.0 672.5,83.9 673.7,83.1 675.2,83.9" fill="#787878" opacity="0.9" filter="url(#blur07)"/><polygon points="673.0,128.7 672.4,129.6 671.9,130.5 670.9,129.9 669.9,130.5 669.5,129.5 669.7,128.7 669.0,127.6 669.6,126.4 670.9,126.0 671.6,127.5 672.4,127.8" fill="#787878" opacity="0.9" filter="url(#blur07)"/><polygon points="658.6,145.0 658.2,145.7 657.9,146.5 657.0,146.3 656.2,146.4 655.9,145.6 656.0,145.0 655.6,144.2 656.5,144.2 657.0,143.4 657.9,143.5 658.0,144.4" fill="#787878" opacity="0.9" filter="url(#blur07)"/><polygon points="634.7,107.0 634.3,107.7 633.8,108.3 633.0,108.3 632.6,107.8 632.1,107.5 632.0,107.0 632.1,106.5 632.2,105.6 633.0,105.7 633.6,106.0 634.3,106.3" fill="#787878" opacity="0.9" filter="url(#blur07)"/><polygon points="612.2,150.0 612.0,151.7 610.3,151.9 608.6,152.4 607.6,150.9 608.3,149.4 609.1,148.4 610.6,146.3 612.4,148.0" fill="#808080" opacity="0.8" filter="url(#blur1)"/><polygon points="503.3,120.0 502.2,121.9 500.5,123.1 499.1,121.6 497.2,121.0 496.5,118.7 498.7,117.8 500.3,118.1 502.8,117.6" fill="#888" opacity="0.7" filter="url(#blur1)"/><ellipse cx="582" cy="150" rx="20" ry="9" fill="#8c8c8c" opacity="0.7" transform="rotate(0 582 150)" filter="url(#blur4)"/><ellipse cx="578" cy="144" rx="10" ry="4" fill="#8a8a8a" opacity="0.5" transform="rotate(0 578 144)" filter="url(#blur2)"/><path d="M586.5,139.5 C583,138.5 579.5,140.5 579.5,143.5 C579.5,146.5 583,146.5 585,144.5 C586,143.5 587.5,141.5 588.5,141" fill="none" stroke="#f6f6f6" stroke-width="1.5" filter="url(#blur05)"/><polygon points="493.2,86.4 492.9,87.5 491.8,87.1 491.2,86.8 491.4,86.1 491.7,85.2 492.7,85.5" fill="#8c8c8c" opacity="0.30860670251158334" filter="url(#blur1)"/><polygon points="497.1,153.7 496.5,154.3 495.9,154.6 495.5,154.0 495.5,153.5 495.8,152.8 496.5,153.2" fill="#8c8c8c" opacity="0.3389321848197894" filter="url(#blur1)"/><polygon points="665.1,105.6 664.6,106.2 663.9,106.7 663.4,106.0 663.1,105.1 663.9,104.5 664.7,105.0" fill="#8c8c8c" opacity="0.45341700654097883" filter="url(#blur1)"/><polygon points="605.2,51.2 604.6,51.7 604.0,52.2 603.7,51.5 603.3,50.8 604.0,50.2 604.6,50.7" fill="#8c8c8c" opacity="0.5364118783511975" filter="url(#blur1)"/><polygon points="607.4,88.4 606.3,89.1 605.4,90.1 604.9,88.9 605.0,88.1 605.5,87.4 606.8,87.1" fill="#8c8c8c" opacity="0.4647225806610079" filter="url(#blur1)"/><polygon points="672.3,40.1 671.5,40.7 670.8,41.0 670.0,40.6 669.9,39.6 670.8,39.3 671.5,39.5" fill="#8c8c8c" opacity="0.4450874090770163" filter="url(#blur1)"/><polygon points="539.7,100.9 539.8,101.7 539.0,101.5 538.3,101.3 538.4,100.5 539.0,100.2 539.6,100.3" fill="#8c8c8c" opacity="0.540660805133545" filter="url(#blur1)"/><polygon points="647.8,28.2 647.7,29.0 646.9,29.1 646.6,28.5 646.2,27.8 646.9,27.3 648.0,27.2" fill="#8c8c8c" opacity="0.38314346776011127" filter="url(#blur1)"/><polygon points="483.8,148.7 482.9,149.3 482.2,149.8 481.7,149.0 481.2,148.1 482.2,147.4 483.0,148.0" fill="#8c8c8c" opacity="0.3443073899886282" filter="url(#blur1)"/><polygon points="607.4,39.7 606.9,40.4 606.1,41.1 605.2,40.3 605.6,39.3 606.0,38.1 606.9,39.1" fill="#8c8c8c" opacity="0.36514447722555843" filter="url(#blur1)"/><polygon points="473.0,39.5 472.4,40.1 471.7,40.4 470.9,40.0 471.1,39.1 471.7,38.5 472.3,39.1" fill="#8c8c8c" opacity="0.4406724490267454" filter="url(#blur1)"/><polygon points="655.9,117.5 656.0,118.3 655.1,118.4 654.7,117.8 654.2,117.0 655.1,116.9 655.9,116.7" fill="#8c8c8c" opacity="0.30506316452924936" filter="url(#blur1)"/><polygon points="499.9,164.4 499.1,165.1 498.4,165.2 497.8,164.8 497.8,164.1 498.3,163.4 499.2,163.7" fill="#8c8c8c" opacity="0.5073119748956277" filter="url(#blur1)"/><polygon points="477.9,13.3 477.1,14.1 476.2,14.4 475.7,13.7 475.5,12.9 476.3,12.4 477.4,12.1" fill="#8c8c8c" opacity="0.4763645822000581" filter="url(#blur1)"/><polygon points="530.4,57.8 530.3,58.5 529.6,58.6 529.1,58.2 529.3,57.6 529.6,56.9 530.4,57.1" fill="#8c8c8c" opacity="0.35180088033257256" filter="url(#blur1)"/><polygon points="471.1,139.7 470.8,140.6 469.9,140.9 469.3,140.2 469.3,139.3 469.9,138.4 470.8,138.9" fill="#8c8c8c" opacity="0.33816087481755913" filter="url(#blur1)"/><polygon points="621.2,38.7 620.5,39.1 620.1,39.5 619.5,39.1 619.6,38.4 620.1,38.2 620.6,38.2" fill="#8c8c8c" opacity="0.47951763219721144" filter="url(#blur1)"/><polygon points="654.1,12.2 653.9,13.2 652.8,13.8 652.2,12.7 651.6,11.5 652.8,10.7 653.8,11.4" fill="#8c8c8c" opacity="0.3570510050185022" filter="url(#blur1)"/><polygon points="485.5,10.8 485.0,11.5 484.3,11.9 484.0,11.1 483.6,10.4 484.3,10.0 485.0,10.2" fill="#8c8c8c" opacity="0.5181335231945754" filter="url(#blur1)"/><polygon points="569.7,141.9 569.0,142.4 568.3,143.0 567.6,142.4 567.5,141.4 568.4,141.0 569.2,141.1" fill="#8c8c8c" opacity="0.3945548241430295" filter="url(#blur1)"/><polygon points="520.5,161.6 520.1,162.7 519.0,162.7 518.0,162.2 518.2,161.1 518.9,160.2 519.8,160.8" fill="#8c8c8c" opacity="0.40220585275695275" filter="url(#blur1)"/><polygon points="557.6,57.3 557.4,58.4 556.4,58.1 555.8,57.7 555.2,56.7 556.3,56.0 557.2,56.5" fill="#8c8c8c" opacity="0.31200393076595706" filter="url(#blur1)"/><polygon points="479.9,71.4 479.8,72.2 479.0,72.3 478.2,71.9 478.4,71.1 479.0,70.9 479.8,70.6" fill="#8c8c8c" opacity="0.553567494510368" filter="url(#blur1)"/><polygon points="621.8,93.7 621.6,94.7 620.5,94.8 619.4,94.3 619.6,93.1 620.6,92.9 621.3,93.1" fill="#8c8c8c" opacity="0.5076837320054771" filter="url(#blur1)"/><polygon points="629.9,153.6 629.6,154.4 628.9,154.2 628.5,153.9 628.5,153.4 628.9,152.9 629.4,153.1" fill="#8c8c8c" opacity="0.48783904732361444" filter="url(#blur1)"/><polygon points="496.7,77.6 496.0,78.6 494.9,78.5 493.7,78.3 494.3,77.2 494.9,76.6 496.0,76.5" fill="#8c8c8c" opacity="0.5684093381058436" filter="url(#blur1)"/><polygon points="625.0,13.6 625.2,14.5 624.2,14.5 623.7,13.9 623.9,13.3 624.1,12.3 625.2,12.5" fill="#8c8c8c" opacity="0.34891704972645865" filter="url(#blur1)"/><polygon points="675.7,30.6 675.3,31.3 674.6,31.3 673.9,31.0 673.8,30.1 674.5,29.6 675.2,30.1" fill="#8c8c8c" opacity="0.40716591383385814" filter="url(#blur1)"/><polygon points="478.7,144.7 478.7,145.9 477.5,146.1 477.0,145.0 476.7,144.1 477.6,143.6 478.7,143.4" fill="#8c8c8c" opacity="0.3479244719875259" filter="url(#blur1)"/><polygon points="570.7,20.4 570.4,21.3 569.3,21.8 569.0,20.6 568.7,19.9 569.4,19.3 570.2,19.7" fill="#8c8c8c" opacity="0.36949896842923724" filter="url(#blur1)"/><polygon points="473.9,26.1 474.0,27.2 472.8,27.5 472.1,26.6 471.9,25.5 472.8,24.8 473.8,25.3" fill="#8c8c8c" opacity="0.49109418328745463" filter="url(#blur1)"/><polygon points="534.2,109.0 533.8,109.8 532.9,110.2 532.2,109.5 532.1,108.5 533.0,108.3 534.0,108.0" fill="#8c8c8c" opacity="0.33919770203706984" filter="url(#blur1)"/><polygon points="533.0,70.1 532.0,71.0 530.9,71.2 529.6,70.8 529.7,69.3 530.8,68.5 531.8,69.3" fill="#8c8c8c" opacity="0.33469811211592687" filter="url(#blur1)"/><polygon points="484.5,96.2 484.0,97.3 482.8,97.4 482.1,96.6 481.8,95.5 482.9,95.3 483.7,95.4" fill="#8c8c8c" opacity="0.5721765378770378" filter="url(#blur1)"/><polygon points="613.6,18.5 612.9,19.5 611.9,19.2 610.9,19.0 610.6,17.8 611.8,17.2 612.8,17.5" fill="#8c8c8c" opacity="0.5050124212146473" filter="url(#blur1)"/><polygon points="495.7,81.0 495.7,81.6 495.1,81.6 494.5,81.3 494.4,80.6 495.0,80.2 495.8,80.3" fill="#8c8c8c" opacity="0.5405627895853948" filter="url(#blur1)"/><polygon points="617.4,134.3 616.5,135.0 615.6,135.6 614.8,134.9 615.2,134.0 615.7,133.6 616.6,133.5" fill="#8c8c8c" opacity="0.3801772730888092" filter="url(#blur1)"/><polygon points="631.8,47.1 631.2,47.6 630.6,48.1 630.0,47.5 630.0,46.7 630.6,46.1 631.4,46.4" fill="#8c8c8c" opacity="0.4171170100827444" filter="url(#blur1)"/><polygon points="571.0,52.9 570.2,53.7 569.3,54.1 568.5,53.4 568.9,52.6 569.2,51.4 570.4,51.8" fill="#8c8c8c" opacity="0.4807511187628183" filter="url(#blur1)"/><polygon points="516.0,105.7 516.1,106.7 515.2,106.4 514.8,106.0 514.7,105.4 515.1,104.5 515.8,105.2" fill="#8c8c8c" opacity="0.5204068795961251" filter="url(#blur1)"/><polygon points="527.3,133.4 526.8,134.4 525.7,134.6 524.9,133.9 525.3,133.1 525.7,132.1 526.8,132.4" fill="#8c8c8c" opacity="0.46597207032791177" filter="url(#blur1)"/><polygon points="607.3,89.4 606.8,89.8 606.3,90.0 605.4,89.9 605.9,89.1 606.2,88.4 606.9,88.8" fill="#8c8c8c" opacity="0.5938144759486248" filter="url(#blur1)"/><polygon points="485.8,59.0 485.7,59.7 484.9,60.2 484.2,59.5 484.2,58.5 484.9,57.8 485.8,58.2" fill="#8c8c8c" opacity="0.308610141678891" filter="url(#blur1)"/><polygon points="498.4,133.5 498.1,134.2 497.2,134.9 496.5,134.0 496.3,132.9 497.2,132.0 498.1,132.8" fill="#8c8c8c" opacity="0.49108991913693195" filter="url(#blur1)"/><polygon points="655.1,126.6 655.1,127.5 654.2,127.4 653.5,127.0 653.7,126.3 654.2,125.7 654.9,126.0" fill="#8c8c8c" opacity="0.4934599578637928" filter="url(#blur1)"/><polygon points="537.5,125.7 537.1,126.5 536.3,126.3 535.6,126.1 535.5,125.3 536.3,125.0 536.8,125.3" fill="#8c8c8c" opacity="0.34597300762742794" filter="url(#blur1)"/><polygon points="650.4,116.4 650.0,117.6 648.9,117.3 647.8,117.0 648.4,116.1 648.9,115.6 649.7,115.6" fill="#8c8c8c" opacity="0.46787937435104787" filter="url(#blur1)"/><polygon points="630.7,78.3 630.0,79.0 629.3,79.0 628.6,78.7 628.8,78.0 629.1,77.1 630.0,77.6" fill="#8c8c8c" opacity="0.3187691347177504" filter="url(#blur1)"/><polygon points="582.9,135.9 582.4,136.9 581.4,136.7 580.2,136.6 580.8,135.5 581.3,135.0 582.2,135.0" fill="#8c8c8c" opacity="0.5409456585987614" filter="url(#blur1)"/><polygon points="569.9,146.4 569.5,146.8 569.1,146.9 568.7,146.6 568.4,146.0 569.0,145.5 569.8,145.6" fill="#8c8c8c" opacity="0.5627101589346485" filter="url(#blur1)"/><polygon points="544.2,22.3 543.6,23.0 542.7,23.4 542.0,22.8 542.0,21.8 542.8,21.6 543.9,21.1" fill="#8c8c8c" opacity="0.43646778152382526" filter="url(#blur1)"/><polygon points="555.5,141.8 555.5,142.4 554.7,142.7 554.3,142.1 554.1,141.4 554.7,140.8 555.6,140.9" fill="#8c8c8c" opacity="0.48508044279389045" filter="url(#blur1)"/><polygon points="553.0,90.9 552.6,91.8 551.7,92.0 550.6,91.5 550.8,90.4 551.7,90.0 552.6,90.1" fill="#8c8c8c" opacity="0.340238722538376" filter="url(#blur1)"/><polygon points="573.3,143.4 572.9,143.9 572.3,144.2 571.7,143.7 571.8,143.0 572.3,142.4 573.1,142.7" fill="#8c8c8c" opacity="0.3034406675188577" filter="url(#blur1)"/><polygon points="480.1,80.2 479.8,80.9 478.8,81.7 478.4,80.6 477.6,79.4 478.9,78.8 479.9,79.3" fill="#8c8c8c" opacity="0.31327106969625684" filter="url(#blur1)"/><polygon points="674.0,92.2 673.4,92.6 672.9,93.1 672.5,92.5 672.5,91.9 672.9,91.4 673.6,91.6" fill="#8c8c8c" opacity="0.4255618125053193" filter="url(#blur1)"/><polygon points="509.4,120.1 509.5,121.3 508.2,121.5 507.7,120.6 507.6,119.7 508.4,119.4 509.1,119.5" fill="#8c8c8c" opacity="0.38638798565130883" filter="url(#blur1)"/><polygon points="519.9,144.1 519.6,145.3 518.4,145.2 517.1,144.8 517.4,143.5 518.4,143.2 519.6,142.9" fill="#8c8c8c" opacity="0.4308555126224522" filter="url(#blur1)"/><polygon points="552.0,123.8 550.7,124.5 549.9,124.8 549.4,124.2 549.3,123.4 549.9,122.4 551.1,122.6" fill="#8c8c8c" opacity="0.3238777894880231" filter="url(#blur1)"/><polygon points="499.2,64.9 499.2,65.9 498.1,66.2 497.5,65.3 497.5,64.4 498.2,64.0 499.0,64.2" fill="#8c8c8c" opacity="0.3214226240820591" filter="url(#blur1)"/><polygon points="476.9,42.5 477.0,43.4 476.0,43.3 475.1,43.0 475.5,42.1 475.9,41.2 476.8,41.8" fill="#8c8c8c" opacity="0.5217845763385094" filter="url(#blur1)"/><polygon points="593.7,12.6 593.4,13.0 592.9,13.3 592.6,12.8 592.7,12.4 592.9,11.7 593.4,12.2" fill="#8c8c8c" opacity="0.435608917844529" filter="url(#blur1)"/><polygon points="650.0,151.7 649.2,152.3 648.5,152.5 647.6,152.2 647.7,151.2 648.5,150.6 649.5,150.7" fill="#8c8c8c" opacity="0.5662117977533989" filter="url(#blur1)"/><polygon points="661.4,71.8 660.8,72.7 659.8,73.4 658.6,72.6 659.4,71.5 659.8,70.6 660.9,70.9" fill="#8c8c8c" opacity="0.40960270392332354" filter="url(#blur1)"/><polygon points="497.8,98.3 497.7,98.9 497.1,98.9 496.5,98.7 496.7,98.0 497.1,97.5 497.7,97.8" fill="#8c8c8c" opacity="0.4990059473825097" filter="url(#blur1)"/><polygon points="635.6,151.7 635.3,152.2 634.8,152.4 634.3,152.0 633.8,151.2 634.6,150.4 635.5,151.1" fill="#8c8c8c" opacity="0.3352154397717482" filter="url(#blur1)"/><polygon points="655.8,144.6 655.6,146.0 654.3,145.6 653.5,145.1 653.0,143.9 654.2,143.1 655.1,143.9" fill="#8c8c8c" opacity="0.4781936547908289" filter="url(#blur1)"/><polygon points="607.3,66.6 606.8,67.1 606.2,67.6 605.9,66.9 605.5,66.2 606.3,66.0 606.9,66.0" fill="#8c8c8c" opacity="0.3875145038269695" filter="url(#blur1)"/><polygon points="617.3,59.0 616.9,59.8 616.1,59.9 614.9,59.7 615.2,58.5 616.0,57.7 617.3,57.8" fill="#8c8c8c" opacity="0.4506477627477281" filter="url(#blur1)"/><polygon points="560.1,159.9 559.9,160.7 559.2,160.5 558.3,160.4 558.7,159.6 559.0,158.9 559.8,159.3" fill="#8c8c8c" opacity="0.4461482381388799" filter="url(#blur1)"/>
<rect x="465" y="8" width="210" height="157" fill="#000" filter="url(#mgrain)" opacity="0.16"/>
<circle cx="579" cy="91.5" r="33" fill="none" stroke="#e23c34" stroke-width="0.9" />
<line x1="546" y1="89.6" x2="612" y2="89.6" stroke="#e23c34" stroke-width="0.8" stroke-dasharray="2.4,1.8" opacity="0.9"/>
</g>
<text x="471.7" y="28.8" font-size="20" fill="#f8f8f8" stroke="#bababa" stroke-width="0.35" font-family='"Liberation Sans", sans-serif' textLength="33" lengthAdjust="spacingAndGlyphs">WC</text>
<text x="549" y="30" font-size="16.5" fill="#f8f8f8" stroke="#bababa" stroke-width="0.35" font-family='"Liberation Sans", sans-serif' textLength="102" lengthAdjust="spacingAndGlyphs">D=0.185 mm</text>
<rect x="473.6" y="140.4" width="55.799999999999955" height="16.299999999999983" fill="#000"/>
<text x="501.8" y="150.3" font-size="10.2" text-anchor="middle" fill="#fff" font-weight="normal" font-family='"Liberation Sans", sans-serif' >100 μm</text>
<rect x="485.2" y="153.1" width="32.6" height="2.3" fill="#fff"/>
<g clip-path="url(#clip2)">
<rect x="466" y="181" width="210" height="158" fill="#bcbcbc"/>
<rect x="466" y="181" width="210" height="158" fill="#000" filter="url(#mblot)" opacity="0.12"/>
<ellipse cx="571.2" cy="267.6" rx="36" ry="36" fill="#acacac" opacity="0.6" transform="rotate(0 571.2 267.6)" filter="url(#blur2)"/><polygon points="552.3,232.0 547.2,234.4 545.2,238.3 540.9,236.8 537.3,234.2 540.2,230.8 541.9,228.8 544.8,227.8 550.6,227.0" fill="#8e8e8e" opacity="0.9" filter="url(#blur1)"/><polygon points="590.0,234.0 589.7,235.4 588.5,237.0 586.5,236.6 586.5,234.5 586.7,233.5 586.9,232.1 588.5,231.1 590.1,232.2" fill="#8a8a8a" opacity="0.8" filter="url(#blur1)"/><polygon points="610.1,241.4 610.0,242.7 608.9,244.3 607.4,243.2 606.0,242.3 606.3,240.6 607.2,239.4 608.9,238.5 609.8,240.2" fill="#8a8a8a" opacity="0.8" filter="url(#blur1)"/><polygon points="603.7,259.0 602.7,261.3 600.4,261.1 598.2,262.2 597.5,259.9 597.2,258.0 597.8,255.3 600.4,256.9 601.8,257.5" fill="#9a9a9a" opacity="0.7" filter="url(#blur1)"/><polygon points="550.6,236.0 550.9,238.4 548.6,239.2 546.4,238.7 544.1,237.4 543.4,234.3 545.5,231.8 548.7,232.0 551.5,233.1" fill="#909090" opacity="0.8" filter="url(#blur1)"/><polygon points="600.7,240.8 600.2,244.5 598.1,247.8 595.8,244.6 593.7,242.8 594.3,239.2 595.1,235.2 597.9,235.3 599.4,238.1" fill="#868686" opacity="0.9" filter="url(#blur1)"/><polygon points="591.7,236.0 592.7,238.2 590.4,238.1 588.5,238.6 587.5,236.9 586.9,234.9 588.3,233.0 590.6,232.5 592.1,234.2" fill="#909090" opacity="0.8" filter="url(#blur1)"/><ellipse cx="606" cy="259" rx="2" ry="7" fill="#9c9c9c" opacity="0.8" transform="rotate(0 606 259)" filter="url(#blur1)"/><ellipse cx="538" cy="238" rx="2.5" ry="7" fill="#dadada" opacity="0.7" transform="rotate(0 538 238)" filter="url(#blur1)"/><ellipse cx="560" cy="300" rx="20" ry="10" fill="#a8a8a8" opacity="0.5" transform="rotate(0 560 300)" filter="url(#blur2)"/><polygon points="519.6,330.6 519.3,331.4 518.4,331.6 517.9,330.9 518.0,330.3 518.5,330.0 519.1,330.0" fill="#969696" opacity="0.2948228526045269" filter="url(#blur1)"/><polygon points="540.4,217.4 540.2,218.3 539.2,218.5 538.8,217.8 538.2,216.8 539.3,216.5 540.1,216.6" fill="#969696" opacity="0.27876984553086187" filter="url(#blur1)"/><polygon points="654.7,316.6 654.6,317.1 654.0,317.4 653.4,317.0 653.7,316.3 654.1,316.2 654.7,316.0" fill="#969696" opacity="0.38536654042969853" filter="url(#blur1)"/><polygon points="489.2,221.8 489.0,222.5 488.2,222.8 487.8,222.1 487.7,221.4 488.2,220.7 488.9,221.2" fill="#969696" opacity="0.36340403046331915" filter="url(#blur1)"/><polygon points="565.1,327.5 565.0,328.4 564.1,328.6 563.6,327.9 563.6,327.2 564.1,326.7 565.0,326.7" fill="#969696" opacity="0.2969725526961345" filter="url(#blur1)"/><polygon points="607.9,330.6 607.6,331.5 606.5,332.0 605.3,331.3 605.6,330.0 606.4,329.0 607.6,329.6" fill="#969696" opacity="0.4700624999808684" filter="url(#blur1)"/><polygon points="480.9,329.0 480.0,329.6 479.2,330.2 478.8,329.3 478.9,328.7 479.3,328.1 480.1,328.3" fill="#969696" opacity="0.4678889613813241" filter="url(#blur1)"/><polygon points="553.1,215.7 552.4,216.5 551.5,216.6 550.5,216.3 550.9,215.3 551.5,214.9 552.6,214.6" fill="#969696" opacity="0.4154086177479459" filter="url(#blur1)"/><polygon points="630.2,212.8 630.1,213.4 629.4,213.6 629.0,213.1 628.8,212.4 629.4,212.2 630.0,212.2" fill="#969696" opacity="0.4409062724094178" filter="url(#blur1)"/><polygon points="471.0,330.4 470.7,331.0 470.1,330.9 469.5,330.8 469.8,330.2 470.1,329.7 470.6,329.9" fill="#969696" opacity="0.40002757138240025" filter="url(#blur1)"/><polygon points="554.7,232.2 554.4,232.7 553.9,232.7 553.5,232.4 553.5,231.9 553.8,231.5 554.7,231.3" fill="#969696" opacity="0.44509570032327617" filter="url(#blur1)"/><polygon points="658.8,296.2 658.8,297.2 657.8,297.5 657.0,296.7 656.9,295.6 657.9,295.4 658.7,295.3" fill="#969696" opacity="0.4278634675746472" filter="url(#blur1)"/><polygon points="580.1,269.2 579.6,270.4 578.3,270.5 577.1,269.9 577.1,268.5 578.3,267.8 579.4,268.2" fill="#969696" opacity="0.3206601026360821" filter="url(#blur1)"/><polygon points="513.5,330.6 513.1,331.2 512.5,331.4 511.2,331.3 511.5,330.0 512.3,329.0 513.7,329.4" fill="#969696" opacity="0.3689992818281309" filter="url(#blur1)"/><polygon points="635.6,298.4 635.1,299.6 633.9,299.5 632.7,299.1 632.7,297.7 633.8,297.0 635.2,297.1" fill="#969696" opacity="0.27042582231541956" filter="url(#blur1)"/><polygon points="655.4,260.0 655.3,260.9 654.4,260.9 654.0,260.3 653.8,259.6 654.4,259.2 655.2,259.3" fill="#969696" opacity="0.42169002850734005" filter="url(#blur1)"/><polygon points="596.0,250.0 596.1,250.8 595.2,251.0 594.9,250.2 594.6,249.5 595.2,248.8 596.0,249.2" fill="#969696" opacity="0.4796659815547478" filter="url(#blur1)"/><polygon points="638.9,197.2 638.3,197.6 637.8,197.9 637.4,197.5 637.0,196.7 637.7,196.0 638.4,196.6" fill="#969696" opacity="0.44085054094505516" filter="url(#blur1)"/><polygon points="651.5,333.0 651.1,333.7 650.5,333.7 649.6,333.5 649.6,332.6 650.4,332.1 651.3,332.2" fill="#969696" opacity="0.4729342125337571" filter="url(#blur1)"/><polygon points="612.6,191.8 612.6,192.7 611.7,192.7 611.0,192.2 611.0,191.3 611.7,190.7 612.6,190.9" fill="#969696" opacity="0.29717299656684104" filter="url(#blur1)"/><polygon points="482.9,289.6 483.0,290.5 482.0,290.7 481.7,289.9 481.7,289.4 482.0,288.5 482.6,289.1" fill="#969696" opacity="0.42294331607806934" filter="url(#blur1)"/><polygon points="483.9,318.7 483.7,319.4 482.9,319.7 482.5,319.0 482.4,318.3 482.9,317.6 484.0,317.6" fill="#969696" opacity="0.44554086228912626" filter="url(#blur1)"/><polygon points="593.9,253.3 593.7,253.7 593.2,254.2 592.6,253.7 592.4,252.9 593.1,252.4 593.8,252.8" fill="#969696" opacity="0.4855907040285272" filter="url(#blur1)"/><polygon points="497.4,263.4 497.2,264.2 496.3,264.4 495.7,263.8 495.7,263.0 496.4,262.6 497.2,262.5" fill="#969696" opacity="0.2770984489728553" filter="url(#blur1)"/><polygon points="613.2,321.4 613.1,322.4 612.0,322.7 611.7,321.7 611.2,320.9 612.1,320.3 613.0,320.6" fill="#969696" opacity="0.44864784727811685" filter="url(#blur1)"/><polygon points="647.6,265.6 647.0,266.2 646.3,266.7 645.4,266.2 645.6,265.1 646.3,264.8 647.3,264.6" fill="#969696" opacity="0.32323659064660504" filter="url(#blur1)"/><polygon points="498.4,210.9 497.9,211.3 497.4,211.5 496.7,211.3 497.0,210.6 497.3,209.9 498.1,210.2" fill="#969696" opacity="0.26780205746109625" filter="url(#blur1)"/><polygon points="624.4,323.7 624.1,324.2 623.6,324.2 623.0,324.1 622.9,323.3 623.6,323.1 624.3,323.0" fill="#969696" opacity="0.4302322151567226" filter="url(#blur1)"/><polygon points="630.1,288.6 629.8,289.3 629.1,289.6 628.2,289.2 628.4,288.2 629.1,287.6 630.0,287.7" fill="#969696" opacity="0.3713795176680337" filter="url(#blur1)"/><polygon points="612.8,219.7 612.8,220.9 611.6,220.8 610.7,220.3 610.9,219.2 611.6,218.3 612.4,219.0" fill="#969696" opacity="0.29807801833193" filter="url(#blur1)"/><polygon points="474.1,328.5 473.8,329.1 473.2,329.6 472.6,328.9 472.9,328.3 473.2,327.6 473.8,328.0" fill="#969696" opacity="0.29916692756721874" filter="url(#blur1)"/><polygon points="478.5,182.6 478.2,183.2 477.6,183.3 476.9,183.0 476.9,182.2 477.6,182.1 478.1,182.1" fill="#969696" opacity="0.4803368089158747" filter="url(#blur1)"/><polygon points="612.9,245.0 612.4,245.5 611.9,245.9 611.6,245.2 611.5,244.7 611.9,244.4 612.7,244.2" fill="#969696" opacity="0.45708866515257107" filter="url(#blur1)"/><polygon points="569.1,315.9 568.4,316.7 567.6,316.8 567.0,316.3 566.8,315.4 567.7,315.3 568.5,315.0" fill="#969696" opacity="0.2695911131262979" filter="url(#blur1)"/><polygon points="482.1,305.8 481.9,306.4 481.3,306.4 480.6,306.2 481.0,305.6 481.3,304.9 481.9,305.3" fill="#969696" opacity="0.28754460569244206" filter="url(#blur1)"/><polygon points="552.7,222.3 552.6,223.2 551.7,223.5 550.9,222.8 551.0,221.9 551.7,221.4 552.4,221.8" fill="#969696" opacity="0.4483421507378961" filter="url(#blur1)"/><polygon points="565.2,338.3 565.1,339.0 564.4,339.2 564.1,338.5 564.1,338.1 564.3,337.3 564.9,337.9" fill="#969696" opacity="0.3236186288283439" filter="url(#blur1)"/><polygon points="652.3,249.8 651.7,250.6 650.8,250.8 650.2,250.2 650.2,249.4 650.8,248.5 652.0,248.6" fill="#969696" opacity="0.35826852850081015" filter="url(#blur1)"/><polygon points="552.0,321.0 552.0,321.9 551.1,321.7 550.6,321.3 550.2,320.5 551.0,320.1 551.9,320.2" fill="#969696" opacity="0.38660996579241785" filter="url(#blur1)"/><polygon points="585.2,187.8 585.0,188.4 584.3,188.9 583.8,188.2 584.0,187.6 584.4,187.0 585.2,187.1" fill="#969696" opacity="0.3090206744849796" filter="url(#blur1)"/><polygon points="467.9,289.0 467.3,289.9 466.4,289.6 465.4,289.5 465.7,288.5 466.3,287.6 467.2,288.1" fill="#969696" opacity="0.3355002551280155" filter="url(#blur1)"/><polygon points="555.1,187.5 554.4,188.0 553.8,188.5 553.3,187.8 553.5,187.2 553.7,186.3 554.5,186.9" fill="#969696" opacity="0.46032083540966906" filter="url(#blur1)"/><polygon points="475.4,284.2 474.9,285.4 473.7,285.1 472.9,284.7 473.0,283.7 473.6,282.8 474.6,283.3" fill="#969696" opacity="0.3048142308525769" filter="url(#blur1)"/><polygon points="528.7,209.4 528.7,210.2 527.8,210.3 526.8,210.0 527.1,208.9 527.7,208.0 528.9,208.3" fill="#969696" opacity="0.3423237291872965" filter="url(#blur1)"/><polygon points="494.2,226.7 493.9,227.3 493.1,227.7 492.5,227.1 492.5,226.2 493.1,225.8 493.8,226.1" fill="#969696" opacity="0.4967173813893719" filter="url(#blur1)"/>
<rect x="466" y="181" width="210" height="158" fill="#000" filter="url(#mgrain)" opacity="0.16"/>
<circle cx="571.2" cy="267.6" r="36" fill="none" stroke="#e23c34" stroke-width="0.9" stroke-dasharray="2.2,1.8"/>
<line x1="531" y1="268.4" x2="607.2" y2="268.4" stroke="#e23c34" stroke-width="0.8" stroke-dasharray="2.4,1.8" opacity="0.9"/>
</g>
<text x="471.5" y="201.3" font-size="20" fill="#f8f8f8" stroke="#bcbcbc" stroke-width="0.35" font-family='"Liberation Sans", sans-serif' textLength="33" lengthAdjust="spacingAndGlyphs">WC</text>
<text x="548.5" y="203.6" font-size="16.5" fill="#f8f8f8" stroke="#bcbcbc" stroke-width="0.35" font-family='"Liberation Sans", sans-serif' textLength="102" lengthAdjust="spacingAndGlyphs">D=0.222 mm</text>
<rect x="473.8" y="315.6" width="55.80000000000001" height="15.399999999999977" fill="#000"/>
<text x="502.0" y="325.5" font-size="10.2" text-anchor="middle" fill="#fff" font-weight="normal" font-family='"Liberation Sans", sans-serif' >100 μm</text>
<rect x="485.40000000000003" y="328.3" width="32.6" height="2.3" fill="#fff"/>
<g clip-path="url(#clip3)">
<rect x="466" y="359" width="214" height="157" fill="#bbbbbb"/>
<rect x="466" y="359" width="214" height="157" fill="#000" filter="url(#mblot)" opacity="0.08"/>
<polygon points="551.0,382.7 542.1,387.8 534.4,395.5 530.6,404.4 528.0,412.1 524.2,417.3 516.5,422.4 512.7,430.1 512.0,441.6 516.5,449.3 524.2,453.1 533.2,453.1 539.6,458.2 549.8,463.3 558.8,464.6 566.5,467.2 578.0,469.0 590.0,466.0 600.0,456.0 607.0,435.0 604.0,410.0 592.0,392.0 573.0,383.0" fill="url(#craterC)" filter="url(#blur2)"/><polyline points="551.0,382.7 542.1,387.8 534.4,395.5 530.6,404.4 528.0,412.1 524.2,417.3 516.5,422.4 512.7,430.1 512.0,441.6 516.5,449.3 524.2,453.1 533.2,453.1 539.6,458.2 549.8,463.3 558.8,464.6 566.5,467.2" fill="none" stroke="#7c7c7c" stroke-width="4" opacity="0.9" filter="url(#blur1)"/><polygon points="538.7,461.6 538.5,462.5 537.4,462.6 537.2,461.6 537.3,460.4 538.5,460.7" fill="#cacaca" opacity="0.8170462033495492" filter="url(#blur05)"/><polygon points="543.5,456.0 542.9,457.1 541.8,456.8 540.2,456.0 541.3,454.4 542.7,455.2" fill="#f0f0f0" opacity="0.9276014393705085" filter="url(#blur05)"/><polygon points="518.5,450.4 517.3,451.7 515.8,451.6 514.7,450.4 515.4,448.4 517.2,449.3" fill="#7a7a7a" opacity="0.9121543437152545" filter="url(#blur05)"/><polygon points="535.3,397.6 534.6,398.8 533.6,398.1 533.2,397.6 533.3,396.6 534.5,396.5" fill="#cacaca" opacity="0.8059667699452684" filter="url(#blur05)"/><polygon points="515.8,420.8 515.5,421.5 514.7,421.4 514.3,420.8 514.6,419.9 515.4,420.1" fill="#707070" opacity="0.8178200913800902" filter="url(#blur05)"/><polygon points="553.3,385.3 553.1,386.1 552.3,385.9 552.0,385.3 552.3,384.7 553.0,384.6" fill="#666666" opacity="0.9436225835250194" filter="url(#blur05)"/><polygon points="533.2,402.6 533.0,403.9 531.6,403.7 530.7,402.6 531.5,401.3 532.7,401.9" fill="#707070" opacity="0.9012380056430147" filter="url(#blur05)"/><polygon points="565.6,466.0 565.1,466.7 564.3,466.6 563.8,466.0 564.2,465.1 565.2,465.0" fill="#666666" opacity="0.8395181727415892" filter="url(#blur05)"/><polygon points="534.4,396.0 534.3,396.7 533.3,396.9 533.1,396.0 533.4,395.1 534.2,395.5" fill="#f0f0f0" opacity="0.8415690938034235" filter="url(#blur05)"/><polygon points="553.0,464.5 552.7,466.0 550.9,466.1 550.1,464.5 551.0,463.1 552.4,463.4" fill="#707070" opacity="0.8469939236224916" filter="url(#blur05)"/><polygon points="529.6,407.6 529.4,408.8 528.2,408.4 527.5,407.6 527.9,406.3 529.2,406.6" fill="#7a7a7a" opacity="0.9587388134484747" filter="url(#blur05)"/><polygon points="530.0,414.6 529.7,415.9 528.2,416.0 527.7,414.6 528.2,413.3 529.7,413.3" fill="#dadada" opacity="0.9853540537411127" filter="url(#blur05)"/><polygon points="559.9,465.1 558.5,466.1 557.1,466.7 556.9,465.1 557.1,463.6 558.7,463.8" fill="#dadada" opacity="0.7914900687375443" filter="url(#blur05)"/><polygon points="560.9,465.7 560.7,466.3 560.0,466.4 559.5,465.7 559.9,465.0 560.6,465.3" fill="#7a7a7a" opacity="0.7726916961746986" filter="url(#blur05)"/><polygon points="526.5,415.5 525.8,416.7 524.6,416.4 523.6,415.5 524.7,414.7 525.7,414.5" fill="#707070" opacity="0.8400504322424266" filter="url(#blur05)"/><polygon points="515.5,431.2 514.0,432.5 512.8,432.1 511.3,431.2 512.4,429.7 513.9,430.2" fill="#7a7a7a" opacity="0.9814063827888447" filter="url(#blur05)"/><polygon points="540.3,458.1 540.0,458.5 539.4,458.6 538.7,458.1 539.4,457.6 540.2,457.1" fill="#7a7a7a" opacity="0.9904195779479885" filter="url(#blur05)"/><polygon points="549.7,459.9 548.8,460.6 548.0,460.6 547.7,459.9 547.7,458.7 549.1,458.8" fill="#f0f0f0" opacity="0.761225749525811" filter="url(#blur05)"/><polygon points="520.9,425.1 520.2,425.7 519.6,425.5 518.9,425.1 519.5,424.4 520.3,424.4" fill="#dadada" opacity="0.8086882885489577" filter="url(#blur05)"/><polygon points="514.1,429.1 512.8,430.2 511.3,430.7 511.0,429.1 511.5,427.9 512.9,428.0" fill="#707070" opacity="0.7233273134315368" filter="url(#blur05)"/><polygon points="534.2,451.2 533.7,452.0 532.7,452.0 532.4,451.2 532.7,450.2 533.7,450.3" fill="#f0f0f0" opacity="0.7083223730917052" filter="url(#blur05)"/><polygon points="543.4,389.5 542.8,389.9 542.1,390.2 541.9,389.5 542.2,388.9 543.0,388.7" fill="#7a7a7a" opacity="0.8128809407742398" filter="url(#blur05)"/><polygon points="552.1,382.5 551.3,384.1 549.9,383.4 548.7,382.5 549.5,380.9 550.9,381.6" fill="#f0f0f0" opacity="0.9998861639420304" filter="url(#blur05)"/><polygon points="537.3,390.5 536.4,391.3 535.1,391.9 535.0,390.5 535.6,389.9 536.7,389.2" fill="#7a7a7a" opacity="0.782913308757743" filter="url(#blur05)"/><polygon points="540.5,455.3 540.4,457.0 538.4,457.0 537.6,455.3 538.8,454.3 539.9,454.4" fill="#666666" opacity="0.900232320309345" filter="url(#blur05)"/><polygon points="518.9,450.8 518.4,451.5 517.6,451.4 517.3,450.8 517.6,450.2 518.3,450.3" fill="#dadada" opacity="0.8988298062654863" filter="url(#blur05)"/><polygon points="518.5,449.0 517.8,450.4 516.0,450.8 515.2,449.0 516.4,448.0 517.8,447.7" fill="#f0f0f0" opacity="0.7375253038594274" filter="url(#blur05)"/><polygon points="549.9,462.5 548.9,464.0 547.5,463.4 547.0,462.5 547.3,461.3 548.7,461.3" fill="#cacaca" opacity="0.8707343540322624" filter="url(#blur05)"/><polygon points="512.9,437.2 512.5,438.0 511.7,437.7 511.2,437.2 511.7,436.6 512.5,436.4" fill="#707070" opacity="0.9553424559505987" filter="url(#blur05)"/><polygon points="555.6,463.8 555.0,465.1 553.8,464.5 553.1,463.8 553.7,462.8 554.9,462.5" fill="#cacaca" opacity="0.9099545601761535" filter="url(#blur05)"/><polygon points="515.8,440.9 515.0,441.4 514.2,441.8 513.7,440.9 514.1,439.9 515.2,440.1" fill="#dadada" opacity="0.9557094680400735" filter="url(#blur05)"/><polygon points="563.6,463.0 562.5,463.7 561.5,464.0 561.1,463.0 561.6,462.2 562.8,461.6" fill="#cacaca" opacity="0.8823178939403267" filter="url(#blur05)"/><polygon points="514.6,423.2 514.1,423.9 513.3,423.9 513.0,423.2 513.2,422.4 514.0,422.8" fill="#cacaca" opacity="0.9754736872044361" filter="url(#blur05)"/><polygon points="528.6,416.2 527.7,417.2 526.2,417.8 525.2,416.2 526.3,414.8 527.7,415.2" fill="#666666" opacity="0.8221013991571318" filter="url(#blur05)"/><polygon points="520.4,450.1 520.3,451.7 518.6,451.5 518.6,450.1 519.0,449.4 519.9,449.3" fill="#e6e6e6" opacity="0.8431964229688004" filter="url(#blur05)"/><polygon points="524.6,454.0 524.2,455.1 523.2,454.7 522.6,454.0 523.1,453.2 524.2,452.9" fill="#7a7a7a" opacity="0.7540999421132462" filter="url(#blur05)"/><polygon points="517.4,422.3 517.0,423.6 515.3,423.8 514.4,422.3 515.2,420.5 517.3,420.4" fill="#cacaca" opacity="0.784484815718165" filter="url(#blur05)"/><polygon points="530.8,454.5 530.0,455.9 528.4,455.9 528.4,454.5 528.7,453.5 530.0,453.1" fill="#f0f0f0" opacity="0.9381358425221883" filter="url(#blur05)"/><polygon points="534.0,395.4 532.8,396.3 531.6,396.9 531.5,395.4 531.6,394.1 533.1,394.1" fill="#707070" opacity="0.9797994104565286" filter="url(#blur05)"/><polygon points="518.6,450.1 517.8,451.2 516.6,451.2 515.4,450.1 516.7,449.2 517.8,449.1" fill="#666666" opacity="0.9139147989775214" filter="url(#blur05)"/><polygon points="539.9,390.0 539.8,391.1 538.9,390.6 538.3,390.0 538.8,389.4 539.6,389.2" fill="#f0f0f0" opacity="0.8164725339802728" filter="url(#blur05)"/><polygon points="546.3,464.5 545.9,465.4 544.8,465.4 543.5,464.5 544.3,462.8 545.8,463.6" fill="#cacaca" opacity="0.72809158612089" filter="url(#blur05)"/><polygon points="527.0,416.3 526.1,417.0 525.1,417.4 524.3,416.3 525.0,415.2 526.3,415.4" fill="#cacaca" opacity="0.7986707880081007" filter="url(#blur05)"/><polygon points="551.6,383.0 551.1,383.7 550.2,383.9 549.9,383.0 550.0,381.8 551.3,381.9" fill="#e6e6e6" opacity="0.7983745940668026" filter="url(#blur05)"/><polygon points="547.7,382.7 547.5,383.3 546.9,383.2 546.4,382.7 546.9,382.1 547.6,382.0" fill="#cacaca" opacity="0.7740646891281985" filter="url(#blur05)"/><polygon points="514.5,429.2 513.6,430.2 512.4,430.3 512.1,429.2 512.5,428.3 513.7,428.1" fill="#666666" opacity="0.9239529746245042" filter="url(#blur05)"/><polygon points="537.1,458.2 537.0,459.7 535.5,459.3 534.5,458.2 535.5,457.2 536.8,456.9" fill="#f0f0f0" opacity="0.7323198295589631" filter="url(#blur05)"/><polygon points="549.9,385.6 549.6,386.3 549.0,386.0 548.4,385.6 549.0,385.1 549.8,384.7" fill="#666666" opacity="0.8501324505946805" filter="url(#blur05)"/><polygon points="566.9,469.3 566.5,469.7 565.7,470.2 565.5,469.3 565.7,468.4 566.5,468.8" fill="#f0f0f0" opacity="0.8167226362290975" filter="url(#blur05)"/><polygon points="531.9,453.4 531.2,454.8 529.8,454.5 529.6,453.4 529.6,452.1 530.9,452.6" fill="#e6e6e6" opacity="0.792622091484388" filter="url(#blur05)"/><polygon points="531.6,411.3 531.0,411.9 530.2,412.2 529.7,411.3 530.4,410.8 531.1,410.6" fill="#7a7a7a" opacity="0.777873335776654" filter="url(#blur05)"/><polygon points="544.0,460.6 543.2,461.4 542.0,461.8 541.1,460.6 542.1,459.7 543.4,459.3" fill="#cacaca" opacity="0.7910106458970705" filter="url(#blur05)"/><polygon points="516.2,426.2 515.7,427.1 514.7,427.0 513.5,426.2 514.6,425.2 515.7,425.2" fill="#f0f0f0" opacity="0.770556241911592" filter="url(#blur05)"/><polygon points="544.8,386.4 544.4,387.1 543.5,387.2 542.7,386.4 543.4,385.2 544.5,385.5" fill="#f0f0f0" opacity="0.9880947157236332" filter="url(#blur05)"/><polygon points="547.8,462.0 547.0,463.8 544.8,463.9 544.7,462.0 545.1,460.6 546.5,461.1" fill="#e6e6e6" opacity="0.8266640480388401" filter="url(#blur05)"/><polygon points="514.1,441.1 513.5,442.3 512.0,442.4 510.9,441.1 512.3,440.2 513.6,439.8" fill="#e6e6e6" opacity="0.9330146045314247" filter="url(#blur05)"/><polygon points="565.5,463.6 565.2,464.7 563.9,464.7 563.4,463.6 564.1,462.8 564.9,462.9" fill="#dadada" opacity="0.7889294632096358" filter="url(#blur05)"/><polygon points="514.6,427.6 513.9,428.4 512.9,428.7 512.5,427.6 512.8,426.5 514.0,426.7" fill="#7a7a7a" opacity="0.9325301601578853" filter="url(#blur05)"/><polygon points="532.6,401.6 531.9,402.6 530.8,402.5 530.2,401.6 530.9,401.0 532.0,400.5" fill="#dadada" opacity="0.7362485698640943" filter="url(#blur05)"/><polygon points="520.5,422.0 519.5,423.7 518.0,423.0 517.6,422.0 518.0,421.1 519.1,421.1" fill="#cacaca" opacity="0.7033922909214685" filter="url(#blur05)"/><polygon points="548.3,384.1 547.7,385.1 546.5,385.1 545.9,384.1 546.6,383.2 547.7,383.0" fill="#cacaca" opacity="0.9566718576641525" filter="url(#blur05)"/><polygon points="558.9,463.6 558.4,464.2 557.3,464.9 556.5,463.6 557.3,462.4 558.8,462.2" fill="#e6e6e6" opacity="0.7166602537459507" filter="url(#blur05)"/><polygon points="540.0,388.7 538.7,389.4 537.5,390.1 536.5,388.7 537.4,387.1 539.0,387.4" fill="#e6e6e6" opacity="0.9379925651915217" filter="url(#blur05)"/><polygon points="512.8,437.4 512.7,438.5 511.5,438.4 511.1,437.4 511.8,436.9 512.6,436.5" fill="#dadada" opacity="0.917515967237357" filter="url(#blur05)"/><polygon points="540.9,389.4 540.6,390.3 539.6,390.1 539.0,389.4 539.7,388.8 540.8,388.0" fill="#dadada" opacity="0.8037680786339246" filter="url(#blur05)"/><polygon points="518.6,422.9 517.8,423.8 516.7,423.8 515.9,422.9 516.2,421.0 518.0,421.7" fill="#dadada" opacity="0.7912948496928696" filter="url(#blur05)"/><polygon points="551.3,462.2 551.2,464.0 549.2,463.8 548.4,462.2 549.4,461.0 550.8,461.0" fill="#cacaca" opacity="0.7859378601694135" filter="url(#blur05)"/><polygon points="543.6,457.5 542.5,459.3 541.0,458.5 539.9,457.5 541.0,456.5 542.1,456.6" fill="#dadada" opacity="0.9646950437716791" filter="url(#blur05)"/><polygon points="527.6,413.8 526.9,415.0 525.4,415.3 525.5,413.8 525.8,413.0 526.8,412.9" fill="#e6e6e6" opacity="0.96509978206953" filter="url(#blur05)"/><polygon points="554.7,464.0 554.3,465.1 553.2,464.7 552.6,464.0 552.9,462.7 554.3,462.8" fill="#f0f0f0" opacity="0.9514996562265864" filter="url(#blur05)"/><polygon points="549.7,461.5 548.4,462.5 546.9,463.0 546.2,461.5 546.8,459.7 548.3,460.6" fill="#e6e6e6" opacity="0.8581186516320272" filter="url(#blur05)"/><polygon points="541.4,391.9 541.0,392.8 540.2,392.5 539.8,391.9 540.1,391.3 541.1,390.9" fill="#cacaca" opacity="0.7340651329531602" filter="url(#blur05)"/><polygon points="541.0,392.7 540.6,393.6 539.7,393.3 539.5,392.7 539.7,392.0 540.5,391.9" fill="#e6e6e6" opacity="0.8513320770464841" filter="url(#blur05)"/><polygon points="536.0,457.1 535.6,458.1 534.3,458.4 534.0,457.1 534.4,455.9 535.6,456.2" fill="#666666" opacity="0.8375750644653817" filter="url(#blur05)"/><polygon points="530.6,399.2 530.1,400.1 529.1,400.1 528.8,399.2 529.1,398.4 530.2,398.2" fill="#666666" opacity="0.8646491621408248" filter="url(#blur05)"/><polygon points="537.5,454.7 537.2,455.2 536.4,455.5 535.7,454.7 536.5,454.1 537.3,454.1" fill="#e6e6e6" opacity="0.7968693458592712" filter="url(#blur05)"/><polygon points="534.7,455.1 533.9,455.7 533.2,455.8 532.9,455.1 533.2,454.5 534.1,454.3" fill="#666666" opacity="0.8840042247595923" filter="url(#blur05)"/><polygon points="516.3,423.7 515.9,425.4 514.1,425.0 513.5,423.7 514.0,422.2 515.4,422.7" fill="#dadada" opacity="0.9752437912146912" filter="url(#blur05)"/><polygon points="544.9,386.8 544.6,387.5 543.8,387.6 542.9,386.8 543.5,385.6 544.6,386.2" fill="#cacaca" opacity="0.704570016526203" filter="url(#blur05)"/><polygon points="517.6,450.7 517.1,451.6 516.1,451.4 515.4,450.7 515.9,449.5 517.0,449.8" fill="#dadada" opacity="0.7986107099217177" filter="url(#blur05)"/><polygon points="545.7,390.0 545.4,391.0 544.0,391.4 543.8,390.0 544.2,388.9 545.3,389.2" fill="#f0f0f0" opacity="0.9837888536646667" filter="url(#blur05)"/><polygon points="537.3,402.4 536.0,403.7 534.5,403.8 534.3,402.4 534.4,400.9 535.9,401.3" fill="#dadada" opacity="0.9543741560505545" filter="url(#blur05)"/><polygon points="528.1,412.9 527.3,414.2 525.5,414.7 525.1,412.9 526.0,411.9 527.2,411.7" fill="#7a7a7a" opacity="0.9130200861172552" filter="url(#blur05)"/><polygon points="537.6,392.3 537.2,392.8 536.6,392.9 535.8,392.3 536.5,391.6 537.2,391.8" fill="#f0f0f0" opacity="0.8589575620254438" filter="url(#blur05)"/><polygon points="542.4,460.6 542.4,461.6 541.1,461.7 540.6,460.6 541.4,459.9 542.4,459.5" fill="#cacaca" opacity="0.7769046011301527" filter="url(#blur05)"/><polygon points="509.9,439.5 509.5,440.3 508.7,440.2 507.5,439.5 508.4,438.2 509.9,438.0" fill="#666666" opacity="0.7364090554592656" filter="url(#blur05)"/><polygon points="512.0,438.8 511.5,439.9 510.5,439.5 509.3,438.8 510.1,437.4 511.5,437.8" fill="#e6e6e6" opacity="0.890498916280339" filter="url(#blur05)"/><polygon points="544.8,460.3 544.4,461.5 543.4,461.0 542.5,460.3 543.5,459.8 544.3,459.5" fill="#666666" opacity="0.9479248722820592" filter="url(#blur05)"/><polygon points="545.4,387.7 545.2,388.4 544.4,388.4 543.9,387.7 544.5,387.3 545.2,387.0" fill="#666666" opacity="0.8975563034740893" filter="url(#blur05)"/><polygon points="510.6,443.0 509.2,444.4 507.9,444.0 507.0,443.0 507.6,441.5 509.4,441.2" fill="#dadada" opacity="0.7020930095662928" filter="url(#blur05)"/><polygon points="538.4,455.9 537.7,456.4 537.0,456.7 536.5,455.9 537.0,455.3 537.9,455.1" fill="#7a7a7a" opacity="0.9246455243486484" filter="url(#blur05)"/><polygon points="566.5,465.1 565.6,465.7 564.8,465.8 563.7,465.1 564.4,463.8 565.8,464.0" fill="#707070" opacity="0.8726170425583828" filter="url(#blur05)"/><polygon points="536.7,393.2 535.2,394.2 533.9,394.5 532.6,393.2 533.8,391.9 535.6,391.5" fill="#cacaca" opacity="0.7939150462574585" filter="url(#blur05)"/><polygon points="511.6,434.3 511.4,435.5 510.2,435.4 509.5,434.3 510.4,433.6 511.5,433.1" fill="#666666" opacity="0.9872188528352974" filter="url(#blur05)"/><polygon points="516.2,448.5 516.1,449.5 515.2,449.1 514.7,448.5 515.2,448.0 515.9,447.9" fill="#666666" opacity="0.7423654841064096" filter="url(#blur05)"/><polygon points="514.1,441.9 513.1,442.9 512.1,442.6 511.1,441.9 511.8,440.7 513.1,440.8" fill="#707070" opacity="0.8455592059434343" filter="url(#blur05)"/><polygon points="528.2,413.2 527.4,414.0 526.3,414.2 525.9,413.2 526.4,412.4 527.5,412.1" fill="#666666" opacity="0.8206592620559549" filter="url(#blur05)"/><polygon points="555.1,465.2 554.6,465.7 554.1,465.7 553.5,465.2 553.9,464.5 554.8,464.5" fill="#f0f0f0" opacity="0.7391677099686061" filter="url(#blur05)"/><polygon points="547.1,461.3 546.7,461.9 545.8,462.4 545.8,461.3 546.0,460.7 546.7,460.7" fill="#f0f0f0" opacity="0.7921808799769798" filter="url(#blur05)"/><polygon points="540.6,458.9 540.2,460.4 538.5,460.5 537.8,458.9 538.7,457.9 540.0,457.8" fill="#7a7a7a" opacity="0.8158707122776445" filter="url(#blur05)"/><polygon points="556.7,463.2 556.1,464.2 555.1,463.8 554.4,463.2 555.2,462.7 555.8,462.6" fill="#dadada" opacity="0.7830097695609428" filter="url(#blur05)"/><polygon points="564.9,464.0 564.4,464.9 563.2,465.2 563.1,464.0 563.4,463.3 564.4,463.0" fill="#666666" opacity="0.8684390050276067" filter="url(#blur05)"/><polygon points="526.3,416.3 526.3,417.9 524.4,417.8 523.6,416.3 524.8,415.4 525.8,415.4" fill="#e6e6e6" opacity="0.7872574518448566" filter="url(#blur05)"/><polygon points="551.7,461.9 551.0,463.0 549.9,462.6 549.4,461.9 549.9,461.1 551.2,460.4" fill="#dadada" opacity="0.7443557491579669" filter="url(#blur05)"/><polygon points="516.1,424.3 515.7,425.0 514.7,425.4 513.9,424.3 514.9,423.5 516.0,423.2" fill="#707070" opacity="0.8258062619498281" filter="url(#blur05)"/><polygon points="517.2,423.2 516.1,424.3 514.5,424.8 514.1,423.2 514.8,422.1 516.0,422.3" fill="#707070" opacity="0.9960982552109933" filter="url(#blur05)"/><polygon points="513.3,444.7 512.3,445.6 511.0,446.0 510.7,444.7 511.1,443.6 512.5,443.5" fill="#dadada" opacity="0.9435828992966071" filter="url(#blur05)"/><polygon points="552.2,385.2 551.7,386.0 550.9,385.8 550.5,385.2 550.6,384.2 551.7,384.3" fill="#707070" opacity="0.8440837504207204" filter="url(#blur05)"/><polygon points="531.3,406.2 530.5,406.9 529.5,407.3 529.4,406.2 529.4,405.0 530.8,405.0" fill="#cacaca" opacity="0.9203578202046738" filter="url(#blur05)"/><polygon points="551.8,464.0 550.7,465.2 549.0,465.7 548.0,464.0 549.3,462.8 550.6,462.9" fill="#cacaca" opacity="0.7424494401128692" filter="url(#blur05)"/><polygon points="513.9,433.7 513.3,434.9 512.2,434.5 511.1,433.7 512.3,433.1 513.1,433.0" fill="#dadada" opacity="0.7647648642266517" filter="url(#blur05)"/><polygon points="549.9,386.1 549.4,387.1 548.2,387.2 547.6,386.1 548.4,385.3 549.4,385.0" fill="#dadada" opacity="0.8129547913954221" filter="url(#blur05)"/><polygon points="521.2,450.9 521.2,452.2 519.8,452.0 519.2,450.9 519.7,449.6 521.2,449.6" fill="#7a7a7a" opacity="0.8946577368903864" filter="url(#blur05)"/><polygon points="529.1,453.1 528.2,453.7 527.4,454.0 527.0,453.1 527.3,452.1 528.4,452.3" fill="#707070" opacity="0.9088485112488556" filter="url(#blur05)"/><polygon points="515.3,448.5 514.9,449.5 514.1,449.1 513.7,448.5 513.8,447.6 515.0,447.5" fill="#f0f0f0" opacity="0.7973363353055593" filter="url(#blur05)"/><polygon points="513.9,442.9 513.6,444.4 512.0,444.2 511.3,442.9 512.2,441.9 513.4,441.7" fill="#707070" opacity="0.8001776433094535" filter="url(#blur05)"/><polygon points="541.0,456.1 540.2,456.7 539.3,457.0 538.6,456.1 539.1,454.8 540.3,455.4" fill="#dadada" opacity="0.8287215430110251" filter="url(#blur05)"/><polygon points="512.4,433.8 512.2,435.6 510.3,435.3 509.8,433.8 510.1,431.9 512.1,432.2" fill="#f0f0f0" opacity="0.8203813774567738" filter="url(#blur05)"/><polygon points="512.7,440.4 512.1,441.3 511.0,441.3 510.4,440.4 511.0,439.4 511.9,439.8" fill="#cacaca" opacity="0.75650952957978" filter="url(#blur05)"/><polygon points="538.1,459.4 537.7,459.9 537.0,460.3 536.6,459.4 536.9,458.4 538.1,458.4" fill="#e6e6e6" opacity="0.8324540334257242" filter="url(#blur05)"/><polygon points="513.7,443.0 513.3,443.7 512.2,444.2 511.3,443.0 512.0,441.5 513.4,442.1" fill="#cacaca" opacity="0.7967998544294141" filter="url(#blur05)"/><polygon points="527.3,415.6 527.0,416.7 525.8,416.4 525.2,415.6 525.8,414.7 526.9,414.6" fill="#cacaca" opacity="0.9221621219175856" filter="url(#blur05)"/><polygon points="530.6,408.8 530.2,410.0 528.7,410.2 527.8,408.8 529.1,408.0 530.4,407.4" fill="#7a7a7a" opacity="0.9916699813210683" filter="url(#blur05)"/><polygon points="538.6,461.6 538.1,462.5 536.9,462.8 536.2,461.6 536.7,460.0 538.4,460.3" fill="#dadada" opacity="0.776751816017083" filter="url(#blur05)"/><polygon points="517.5,419.3 517.2,420.0 516.0,420.5 515.7,419.3 516.3,418.5 517.3,418.4" fill="#cacaca" opacity="0.8296764235172811" filter="url(#blur05)"/><polygon points="522.1,451.9 521.6,452.8 520.7,452.6 520.5,451.9 520.6,451.1 521.6,451.0" fill="#707070" opacity="0.909963225410566" filter="url(#blur05)"/><polygon points="547.0,383.4 546.5,384.3 545.4,384.5 545.2,383.4 545.5,382.6 546.5,382.6" fill="#dadada" opacity="0.9226831949622364" filter="url(#blur05)"/><polygon points="515.7,445.0 514.6,446.4 513.0,446.4 512.1,445.0 513.1,443.8 514.4,443.9" fill="#dadada" opacity="0.8278170438485029" filter="url(#blur05)"/><polygon points="542.0,461.3 542.0,462.6 540.7,462.4 539.9,461.3 540.5,460.0 541.9,460.2" fill="#707070" opacity="0.9580682196328314" filter="url(#blur05)"/><polygon points="545.6,385.8 545.1,386.8 543.9,386.9 543.8,385.8 543.8,384.6 545.1,384.8" fill="#7a7a7a" opacity="0.801869862569242" filter="url(#blur05)"/><polygon points="529.5,402.6 529.1,403.4 527.7,404.2 527.6,402.6 527.7,401.1 529.3,401.4" fill="#666666" opacity="0.7223843900571701" filter="url(#blur05)"/><polygon points="520.1,452.0 519.7,453.1 518.6,452.9 517.3,452.0 518.2,450.5 520.0,450.5" fill="#707070" opacity="0.9623162850710325" filter="url(#blur05)"/><polygon points="517.3,424.5 517.0,425.9 515.3,425.9 514.5,424.5 515.4,423.1 517.0,423.0" fill="#666666" opacity="0.8623750320150136" filter="url(#blur05)"/><polygon points="541.0,390.5 540.2,391.8 539.1,391.3 537.8,390.5 538.7,389.2 540.2,389.3" fill="#7a7a7a" opacity="0.9840297990295105" filter="url(#blur05)"/><polygon points="561.7,463.3 560.5,464.8 558.6,464.9 558.5,463.3 559.0,462.2 560.1,462.4" fill="#7a7a7a" opacity="0.7308907134601618" filter="url(#blur05)"/><polygon points="552.1,382.8 551.8,383.8 550.6,383.8 550.4,382.8 550.7,382.0 551.6,382.0" fill="#666666" opacity="0.7685070743010791" filter="url(#blur05)"/><polygon points="531.9,452.9 531.8,454.6 530.1,454.1 529.4,452.9 530.1,451.8 531.7,451.4" fill="#666666" opacity="0.7192695472537192" filter="url(#blur05)"/><polygon points="535.8,453.0 535.5,453.9 534.7,453.6 533.9,453.0 534.3,452.0 535.6,452.0" fill="#7a7a7a" opacity="0.9415554338901635" filter="url(#blur05)"/><polygon points="523.6,452.0 523.5,453.2 522.1,453.2 521.4,452.0 522.4,451.3 523.5,450.8" fill="#f0f0f0" opacity="0.8741189513501032" filter="url(#blur05)"/><polygon points="537.9,454.4 537.2,456.0 535.7,455.3 534.4,454.4 535.1,452.4 537.3,452.6" fill="#cacaca" opacity="0.7919482210237974" filter="url(#blur05)"/><polygon points="541.3,388.7 540.6,389.5 539.7,389.4 539.3,388.7 539.7,387.8 541.0,387.3" fill="#cacaca" opacity="0.7763274985397567" filter="url(#blur05)"/><polygon points="552.9,464.1 552.6,464.7 551.7,465.0 551.1,464.1 551.8,463.3 552.7,463.4" fill="#7a7a7a" opacity="0.7704396236679939" filter="url(#blur05)"/><polygon points="518.6,423.5 518.1,424.0 517.4,424.3 516.8,423.5 517.4,422.7 518.1,423.0" fill="#cacaca" opacity="0.9666405612089959" filter="url(#blur05)"/><polygon points="532.0,452.9 531.3,454.5 529.8,453.8 528.1,452.9 529.6,451.5 531.0,451.7" fill="#cacaca" opacity="0.7911002792474953" filter="url(#blur05)"/><polygon points="528.1,418.2 527.2,419.9 525.4,419.7 524.6,418.2 525.4,416.8 527.1,416.6" fill="#dadada" opacity="0.9100382215203637" filter="url(#blur05)"/><polygon points="533.7,404.4 533.1,405.3 532.2,405.2 531.5,404.4 532.3,403.9 533.0,403.8" fill="#e6e6e6" opacity="0.838210694542276" filter="url(#blur05)"/><polygon points="546.5,462.0 545.9,463.2 544.5,463.2 544.2,462.0 544.5,460.8 545.7,461.1" fill="#7a7a7a" opacity="0.8360672329864554" filter="url(#blur05)"/><polygon points="544.5,462.2 544.1,462.9 543.3,462.9 543.2,462.2 543.4,461.6 544.0,461.7" fill="#f0f0f0" opacity="0.8243586804305909" filter="url(#blur05)"/><polygon points="544.7,389.2 544.6,390.9 543.0,390.3 542.1,389.2 542.7,387.6 544.6,387.6" fill="#cacaca" opacity="0.731328565961446" filter="url(#blur05)"/><polygon points="516.7,446.4 516.5,447.8 514.9,447.7 514.1,446.4 514.8,445.0 516.3,445.3" fill="#cacaca" opacity="0.874700179769274" filter="url(#blur05)"/><ellipse cx="510" cy="452" rx="4" ry="6" fill="#cfcfcf" opacity="0.45" transform="rotate(0 510 452)" filter="url(#blur2)"/><ellipse cx="522" cy="462" rx="6" ry="3" fill="#cacaca" opacity="0.45" transform="rotate(0 522 462)" filter="url(#blur2)"/><polygon points="580.0,472.0 579.1,473.7 577.3,473.6 575.6,474.4 574.3,473.0 575.1,471.3 575.9,470.0 577.4,469.6 578.5,470.7" fill="#888" opacity="0.8" filter="url(#blur1)"/><polygon points="602.7,458.0 601.6,459.4 600.5,460.8 598.7,460.2 598.6,458.5 597.1,456.9 598.6,455.7 600.5,455.3 601.2,457.0" fill="#8a8a8a" opacity="0.8" filter="url(#blur1)"/><polygon points="622.0,495.0 620.9,495.7 620.2,496.1 618.9,497.0 618.2,495.7 618.7,494.5 618.9,493.1 620.3,493.6 621.3,493.9" fill="#888" opacity="0.8" filter="url(#blur1)"/><polygon points="609.3,482.0 609.1,482.9 608.3,483.6 606.8,484.1 606.8,482.5 605.8,481.2 607.3,480.8 608.3,480.5 609.6,480.7" fill="#888" opacity="0.7" filter="url(#blur1)"/><polygon points="634.9,400.0 634.4,401.2 633.4,402.1 631.9,401.9 631.3,400.6 630.9,399.3 631.9,398.1 633.3,398.1 634.3,398.9" fill="#999" opacity="0.7" filter="url(#blur1)"/><polygon points="652.0,493.3 651.5,493.9 650.7,494.7 650.1,493.8 650.0,492.8 650.8,492.3 652.0,492.1" fill="#9a9a9a" opacity="0.31536159035411915" filter="url(#blur1)"/><polygon points="483.2,507.6 483.3,508.6 482.3,508.6 481.9,507.9 481.9,507.3 482.3,506.4 483.0,507.0" fill="#9a9a9a" opacity="0.25065768840657493" filter="url(#blur1)"/><polygon points="661.6,513.6 661.2,514.1 660.6,514.6 660.1,514.0 660.3,513.4 660.6,512.5 661.4,512.8" fill="#9a9a9a" opacity="0.4534152807597449" filter="url(#blur1)"/><polygon points="484.9,427.8 484.6,429.0 483.4,428.9 482.6,428.3 483.0,427.5 483.3,426.4 484.2,427.1" fill="#9a9a9a" opacity="0.35218333317244344" filter="url(#blur1)"/><polygon points="578.2,377.4 577.5,378.3 576.5,378.7 575.6,377.9 575.9,376.9 576.5,376.1 577.6,376.4" fill="#9a9a9a" opacity="0.374466852083128" filter="url(#blur1)"/><polygon points="520.1,480.9 520.0,482.0 518.8,482.2 517.8,481.6 517.8,480.3 519.0,480.2 520.1,479.7" fill="#9a9a9a" opacity="0.38458580851907254" filter="url(#blur1)"/><polygon points="624.2,514.9 624.2,515.4 623.5,515.9 623.3,515.1 623.2,514.6 623.6,514.1 624.2,514.3" fill="#9a9a9a" opacity="0.39974441309169284" filter="url(#blur1)"/><polygon points="673.7,377.4 673.5,378.0 672.8,378.4 672.1,377.8 672.5,377.2 672.7,376.3 673.5,376.8" fill="#9a9a9a" opacity="0.3875570972458432" filter="url(#blur1)"/><polygon points="621.7,445.8 621.3,446.7 620.4,446.5 619.7,446.2 619.7,445.4 620.4,445.1 621.3,444.9" fill="#9a9a9a" opacity="0.2628847073685904" filter="url(#blur1)"/><polygon points="624.9,409.4 624.8,410.1 624.0,410.2 623.4,409.7 623.7,409.1 624.0,408.5 624.5,409.0" fill="#9a9a9a" opacity="0.4896170798531618" filter="url(#blur1)"/><polygon points="608.2,430.6 607.7,431.2 606.9,431.8 606.1,431.1 605.9,429.9 606.9,429.2 608.0,429.5" fill="#9a9a9a" opacity="0.36947250772548584" filter="url(#blur1)"/><polygon points="493.5,453.9 493.3,454.7 492.5,454.9 491.5,454.5 491.7,453.4 492.5,453.2 493.2,453.3" fill="#9a9a9a" opacity="0.43603670720831733" filter="url(#blur1)"/><polygon points="585.1,504.8 584.9,505.9 583.8,505.7 583.1,505.2 583.4,504.4 583.7,503.4 584.6,504.1" fill="#9a9a9a" opacity="0.4687174155674191" filter="url(#blur1)"/><polygon points="546.2,401.0 546.2,401.9 545.3,402.0 544.3,401.6 544.4,400.5 545.2,399.7 546.3,400.1" fill="#9a9a9a" opacity="0.41357755314801836" filter="url(#blur1)"/><polygon points="501.3,446.8 501.0,447.6 500.2,447.6 499.4,447.3 499.7,446.5 500.1,445.9 500.9,446.2" fill="#9a9a9a" opacity="0.2504161987131289" filter="url(#blur1)"/><polygon points="556.9,421.8 556.3,422.7 555.4,422.7 555.0,422.1 554.9,421.4 555.3,420.3 556.6,420.6" fill="#9a9a9a" opacity="0.2636287028559675" filter="url(#blur1)"/><polygon points="665.5,501.6 665.1,502.1 664.5,502.6 664.0,501.9 663.5,501.0 664.4,500.3 665.4,500.7" fill="#9a9a9a" opacity="0.2968072618636797" filter="url(#blur1)"/><polygon points="636.1,384.4 635.7,384.8 635.2,384.9 634.7,384.7 634.5,384.0 635.2,383.7 635.8,383.8" fill="#9a9a9a" opacity="0.41660577177035407" filter="url(#blur1)"/><polygon points="557.6,431.4 557.4,431.9 556.8,432.1 556.2,431.7 556.0,430.9 556.8,430.3 557.7,430.5" fill="#9a9a9a" opacity="0.25930932012236674" filter="url(#blur1)"/><polygon points="544.5,488.8 544.0,489.8 542.9,490.2 542.1,489.3 542.3,488.4 543.0,487.8 543.7,488.1" fill="#9a9a9a" opacity="0.27026550353607637" filter="url(#blur1)"/><polygon points="585.2,414.5 584.7,415.0 584.1,415.7 583.3,415.0 583.3,414.0 584.2,413.9 585.1,413.6" fill="#9a9a9a" opacity="0.4969736180688764" filter="url(#blur1)"/><polygon points="640.0,438.6 639.7,439.3 638.9,439.7 638.0,439.1 638.4,438.2 638.9,437.5 640.0,437.6" fill="#9a9a9a" opacity="0.47924550627695217" filter="url(#blur1)"/><polygon points="547.5,481.8 547.0,482.7 546.1,482.7 545.0,482.4 545.2,481.3 546.0,480.6 547.0,480.8" fill="#9a9a9a" opacity="0.43433571065395965" filter="url(#blur1)"/><polygon points="564.5,466.6 564.0,467.3 563.3,467.4 562.8,466.9 562.2,466.0 563.3,465.9 564.0,466.0" fill="#9a9a9a" opacity="0.323923243447368" filter="url(#blur1)"/><polygon points="630.6,434.7 629.8,435.3 629.1,435.7 628.5,435.1 628.6,434.3 629.2,434.0 629.8,434.1" fill="#9a9a9a" opacity="0.36620565736792393" filter="url(#blur1)"/><polygon points="546.8,477.1 547.0,478.0 546.1,477.7 545.7,477.3 545.5,476.8 546.0,475.9 546.7,476.5" fill="#9a9a9a" opacity="0.29532431711722656" filter="url(#blur1)"/><polygon points="635.5,421.8 635.3,422.6 634.4,422.4 634.0,422.0 633.7,421.3 634.3,420.6 635.0,421.2" fill="#9a9a9a" opacity="0.49558495321616625" filter="url(#blur1)"/><polygon points="605.6,441.3 605.0,441.8 604.4,442.4 603.6,441.8 604.0,441.1 604.5,440.7 605.2,440.5" fill="#9a9a9a" opacity="0.42726013974821253" filter="url(#blur1)"/><polygon points="672.2,470.2 672.2,471.1 671.3,471.1 670.7,470.6 670.4,469.7 671.4,469.5 672.3,469.3" fill="#9a9a9a" opacity="0.32954275059425375" filter="url(#blur1)"/><polygon points="533.6,415.1 533.6,415.8 532.8,416.2 532.2,415.5 532.4,414.8 532.8,414.0 533.6,414.5" fill="#9a9a9a" opacity="0.47331669727362286" filter="url(#blur1)"/><polygon points="567.1,386.7 566.3,387.3 565.6,387.5 564.9,387.1 564.6,386.1 565.6,385.6 566.2,386.2" fill="#9a9a9a" opacity="0.3149198132978472" filter="url(#blur1)"/><polygon points="603.4,412.2 602.8,413.1 601.8,413.4 601.0,412.7 601.0,411.6 601.8,410.9 602.7,411.3" fill="#9a9a9a" opacity="0.3592249019189849" filter="url(#blur1)"/><polygon points="591.4,450.8 591.2,451.4 590.5,451.5 589.6,451.3 589.8,450.3 590.5,449.9 591.5,449.8" fill="#9a9a9a" opacity="0.4944890547464791" filter="url(#blur1)"/><polygon points="475.9,475.8 475.9,476.6 475.0,476.4 474.5,476.1 474.2,475.3 475.0,474.9 475.6,475.2" fill="#9a9a9a" opacity="0.26520893754247044" filter="url(#blur1)"/><polygon points="505.8,476.9 505.1,477.7 504.1,478.1 503.6,477.3 503.2,476.3 504.3,476.1 504.9,476.3" fill="#9a9a9a" opacity="0.4438481641217499" filter="url(#blur1)"/>
<rect x="466" y="359" width="214" height="157" fill="#000" filter="url(#mgrain)" opacity="0.16"/>
<circle cx="564.4" cy="426.3" r="46" fill="none" stroke="#e23c34" stroke-width="0.9" stroke-dasharray="2.2,1.8"/>
<line x1="518.4" y1="426" x2="610.4" y2="426" stroke="#e23c34" stroke-width="0.8" stroke-dasharray="2.4,1.8" opacity="0.9"/>
</g>
<text x="471.5" y="380.2" font-size="20" fill="#f8f8f8" stroke="#bbbbbb" stroke-width="0.35" font-family='"Liberation Sans", sans-serif' textLength="33" lengthAdjust="spacingAndGlyphs">WC</text>
<text x="549" y="382" font-size="16.5" fill="#f8f8f8" stroke="#bbbbbb" stroke-width="0.35" font-family='"Liberation Sans", sans-serif' textLength="102" lengthAdjust="spacingAndGlyphs">D=0.259 mm</text>
<rect x="473.8" y="495.5" width="55.80000000000001" height="16.100000000000023" fill="#000"/>
<text x="502.0" y="505.4" font-size="10.2" text-anchor="middle" fill="#fff" font-weight="normal" font-family='"Liberation Sans", sans-serif' >100 μm</text>
<rect x="485.40000000000003" y="508.2" width="32.6" height="2.3" fill="#fff"/>
<rect x="47.5" y="559.5" width="265.0" height="214.0" fill="none" stroke="#3a3a3a" stroke-width="1.1"/>
<line x1="44.0" y1="773.5" x2="47.5" y2="773.5" stroke="#3a3a3a" stroke-width="1"/>
<text x="42.5" y="777.5" font-size="11.5" text-anchor="end" fill="#222" font-weight="normal" font-family='"Liberation Sans", sans-serif' >0.0</text>
<line x1="45.5" y1="752.1" x2="47.5" y2="752.1" stroke="#3a3a3a" stroke-width="1"/>
<line x1="44.0" y1="730.7" x2="47.5" y2="730.7" stroke="#3a3a3a" stroke-width="1"/>
<text x="42.5" y="734.7" font-size="11.5" text-anchor="end" fill="#222" font-weight="normal" font-family='"Liberation Sans", sans-serif' >0.2</text>
<line x1="45.5" y1="709.3" x2="47.5" y2="709.3" stroke="#3a3a3a" stroke-width="1"/>
<line x1="44.0" y1="687.9" x2="47.5" y2="687.9" stroke="#3a3a3a" stroke-width="1"/>
<text x="42.5" y="691.9" font-size="11.5" text-anchor="end" fill="#222" font-weight="normal" font-family='"Liberation Sans", sans-serif' >0.4</text>
<line x1="45.5" y1="666.5" x2="47.5" y2="666.5" stroke="#3a3a3a" stroke-width="1"/>
<line x1="44.0" y1="645.1" x2="47.5" y2="645.1" stroke="#3a3a3a" stroke-width="1"/>
<text x="42.5" y="649.1" font-size="11.5" text-anchor="end" fill="#222" font-weight="normal" font-family='"Liberation Sans", sans-serif' >0.6</text>
<line x1="45.5" y1="623.7" x2="47.5" y2="623.7" stroke="#3a3a3a" stroke-width="1"/>
<line x1="44.0" y1="602.3" x2="47.5" y2="602.3" stroke="#3a3a3a" stroke-width="1"/>
<text x="42.5" y="606.3" font-size="11.5" text-anchor="end" fill="#222" font-weight="normal" font-family='"Liberation Sans", sans-serif' >0.8</text>
<line x1="45.5" y1="580.9" x2="47.5" y2="580.9" stroke="#3a3a3a" stroke-width="1"/>
<line x1="44.0" y1="559.5" x2="47.5" y2="559.5" stroke="#3a3a3a" stroke-width="1"/>
<text x="42.5" y="563.5" font-size="11.5" text-anchor="end" fill="#222" font-weight="normal" font-family='"Liberation Sans", sans-serif' >1.0</text>
<line x1="47.5" y1="773.5" x2="47.5" y2="777.0" stroke="#3a3a3a" stroke-width="1"/>
<text x="47.5" y="790.5" font-size="10" text-anchor="middle" fill="#222" font-weight="normal" font-family='"Liberation Sans", sans-serif' transform="scale(1,1)">0</text>
<line x1="74.0" y1="773.5" x2="74.0" y2="775.5" stroke="#3a3a3a" stroke-width="1"/>
<line x1="100.5" y1="773.5" x2="100.5" y2="777.0" stroke="#3a3a3a" stroke-width="1"/>
<text x="100.5" y="790.5" font-size="10" text-anchor="middle" fill="#222" font-weight="normal" font-family='"Liberation Sans", sans-serif' transform="scale(1,1)">2</text>
<line x1="127.0" y1="773.5" x2="127.0" y2="775.5" stroke="#3a3a3a" stroke-width="1"/>
<line x1="153.5" y1="773.5" x2="153.5" y2="777.0" stroke="#3a3a3a" stroke-width="1"/>
<text x="153.5" y="790.5" font-size="10" text-anchor="middle" fill="#222" font-weight="normal" font-family='"Liberation Sans", sans-serif' transform="scale(1,1)">4</text>
<line x1="180.0" y1="773.5" x2="180.0" y2="775.5" stroke="#3a3a3a" stroke-width="1"/>
<line x1="206.5" y1="773.5" x2="206.5" y2="777.0" stroke="#3a3a3a" stroke-width="1"/>
<text x="206.5" y="790.5" font-size="10" text-anchor="middle" fill="#222" font-weight="normal" font-family='"Liberation Sans", sans-serif' transform="scale(1,1)">6</text>
<line x1="233.0" y1="773.5" x2="233.0" y2="775.5" stroke="#3a3a3a" stroke-width="1"/>
<line x1="259.5" y1="773.5" x2="259.5" y2="777.0" stroke="#3a3a3a" stroke-width="1"/>
<text x="259.5" y="790.5" font-size="10" text-anchor="middle" fill="#222" font-weight="normal" font-family='"Liberation Sans", sans-serif' transform="scale(1,1)">8</text>
<line x1="286.0" y1="773.5" x2="286.0" y2="775.5" stroke="#3a3a3a" stroke-width="1"/>
<line x1="312.5" y1="773.5" x2="312.5" y2="777.0" stroke="#3a3a3a" stroke-width="1"/>
<text x="312.5" y="790.5" font-size="10" text-anchor="middle" fill="#222" font-weight="normal" font-family='"Liberation Sans", sans-serif' transform="scale(1,1)">10</text>
<text transform="translate(17.6,659.2) rotate(-90)" x="-71.8" y="0" font-size="18" fill="#1a1a1a" font-family='"Liberation Sans", sans-serif' textLength="143.6" lengthAdjust="spacingAndGlyphs">Friction coefficient</text>
<text x="99.3" y="814" font-size="17.5" fill="#1a1a1a" font-family='"Liberation Sans", sans-serif'>Friction cycles<tspan dx="10">(</tspan><tspan dx="6.5">×10</tspan><tspan font-size="11" dy="-7">4</tspan><tspan dy="7" dx="6">)</tspan></text>
<polyline points="47.6,733.0 47.9,700.0 48.2,682.0 48.8,684.0 49.5,672.0 50.7,667.0 51.5,660.0 52.1,655.0 53.0,657.0 54.6,649.3 56.0,653.0 57.6,660.0 59.0,648.0 61.0,638.5 62.5,650.0 64.4,656.0 66.0,645.0 67.5,649.0 69.3,637.6 70.5,650.0 71.0,650.8 71.4,659.7 71.7,657.9 72.0,650.1 72.6,654.1 72.9,651.2 73.2,656.4 73.7,646.8 74.1,649.7 74.5,655.5 75.0,645.3 75.4,664.4 75.7,649.1 76.1,650.6 76.6,657.5 77.0,654.2 77.4,654.4 77.8,655.6 78.3,648.5 78.8,652.8 79.2,649.6 79.6,643.5 80.1,652.1 80.5,652.9 80.8,651.2 81.2,655.0 81.5,662.5 81.8,654.6 82.4,654.7 82.8,663.1 83.2,649.6 83.7,644.8 84.1,656.6 84.5,655.1 84.9,658.1 85.3,647.8 85.7,660.8 86.1,652.2 86.4,653.2 86.7,659.5 87.2,655.0 87.7,663.5 88.0,660.7 88.4,657.5 88.7,663.0 89.2,666.9 89.6,656.7 90.0,656.8 90.4,648.3 90.9,651.1 91.3,657.6 91.8,662.6 92.1,659.7 92.5,654.5 93.0,660.3 93.5,644.5 93.9,649.2 94.3,652.8 94.6,653.2 95.0,650.1 95.5,653.8 95.9,655.0 96.5,652.9 96.8,655.9 97.2,658.2 97.6,653.1 97.9,646.4 98.4,648.4 98.7,652.9 99.3,653.7 99.7,654.3 100.1,647.6 100.6,654.8 101.0,658.4 101.4,655.2 101.8,659.4 102.1,651.3 102.6,653.6 102.9,649.2 103.3,651.2 103.8,648.4 104.3,656.6 104.7,648.8 105.1,651.2 105.6,648.4 106.1,657.5 106.5,657.9 107.0,647.4 107.5,655.5 107.9,652.0 108.3,652.5 108.8,651.4 109.2,654.3 109.8,656.0 110.3,654.6 110.8,648.3 111.2,653.0 111.6,653.1 111.9,657.6 112.4,639.4 112.8,660.6 113.3,658.2 113.7,653.7 114.2,655.3 114.6,660.0 115.0,657.2 115.5,644.2 115.8,656.2 116.2,648.5 116.6,657.6 117.0,655.4 117.5,650.0 118.1,654.3 118.5,650.1 118.9,654.7 119.5,658.6 120.0,654.8 120.3,656.5 120.7,660.1 121.1,652.4 121.5,651.8 121.9,657.0 122.3,648.9 122.7,662.1 123.1,657.4 123.5,654.1 123.9,642.8 124.3,656.1 124.7,660.2 125.1,662.0 125.5,650.9 125.9,647.0 126.2,655.4 126.5,659.6 127.0,646.6 127.5,655.8 127.9,655.9 128.2,653.7 128.7,652.2 129.0,645.0 129.5,651.3 129.8,654.7 130.2,653.3 130.5,660.4 131.0,650.2 131.3,651.6 131.7,654.2 132.1,657.9 132.4,657.4 132.8,653.4 133.2,652.6 133.6,654.3 134.1,648.7 134.6,663.8 135.2,646.3 135.5,654.9 136.0,659.3 136.4,649.0 136.8,660.7 137.2,666.3 137.5,662.1 138.0,657.1 138.4,650.3 138.8,654.7 139.1,649.5 139.5,651.6 140.0,660.6 140.3,652.3 140.6,651.6 141.1,652.4 141.6,653.1 142.1,655.7 142.4,657.3 142.8,657.6 143.2,652.2 143.7,661.3 144.1,659.2 144.4,655.1 144.9,652.5 145.3,649.5 145.7,661.1 146.2,659.7 146.7,654.9 147.1,656.0 147.5,655.4 147.8,660.6 148.3,654.9 148.8,651.1 149.3,656.7 149.9,658.1 150.2,657.1 150.7,660.1 151.0,660.9 151.5,658.0 151.8,650.6 152.3,657.9 152.8,654.6 153.2,650.1 153.7,655.7 154.2,657.3 154.7,652.0 155.1,653.4 155.6,655.2 155.9,657.9 156.3,657.1 156.7,657.5 157.2,654.7 157.6,659.4 158.0,655.0 158.4,651.1 158.9,657.7 159.4,655.1 159.9,657.5 160.2,650.0 160.6,654.3 161.0,652.4 161.6,653.7 162.0,656.0 162.5,654.7 162.9,650.8 163.4,657.4 163.7,656.9 164.1,649.9 164.5,662.6 165.0,654.4 165.5,654.4 166.1,652.9 166.6,654.9 167.1,650.5 167.5,658.6 167.9,652.0 168.4,655.5 168.8,659.1 169.2,658.4 169.7,657.0 170.2,664.4 170.5,653.6 170.9,666.9 171.2,649.6 171.6,645.7 172.0,659.9 172.5,653.5 173.0,658.1 173.5,653.7 174.0,646.3 174.3,653.5 174.6,660.6 175.1,653.7 175.5,658.3 175.8,656.4 176.2,655.5 176.7,654.9 177.1,660.0 177.6,657.8 177.9,660.0 178.3,656.4 178.8,652.8 179.1,660.8 179.6,656.0 179.9,653.4 180.3,659.8 180.6,655.0 181.0,654.3 181.3,659.2 181.8,654.3 182.1,656.6 182.6,655.8 182.9,652.9 183.3,659.2 183.7,653.2 184.2,662.3 184.8,654.1 185.2,659.3 185.5,648.8 185.8,653.2 186.2,658.3 186.6,651.7 187.1,660.2 187.6,660.7 188.1,657.3 188.4,655.1 188.9,656.5 189.3,654.0 189.8,654.2 190.1,659.0 190.4,665.3 190.9,663.1 191.3,658.8 191.7,654.1 192.0,654.1 192.5,663.2 193.0,655.2 193.4,653.8 193.9,655.3 194.3,663.0 194.6,660.0 195.1,662.0 195.5,650.1 196.0,645.3 196.3,654.3 196.7,660.3 197.2,651.3 197.6,656.9 198.1,659.5 198.5,650.8 199.0,653.8 199.4,656.4 199.8,655.4 200.3,658.2 200.8,654.8 201.3,660.0 201.6,656.7 202.0,652.9 202.5,656.0 202.9,651.0 203.2,653.8 203.8,655.6 204.2,654.3 204.5,656.4 205.1,656.8 205.5,653.3 205.9,660.4 206.3,660.0 206.8,660.1 207.2,655.7 207.6,662.6 207.9,660.2 208.2,650.9 208.6,657.1 209.0,654.6 209.4,655.4 209.8,661.7 210.2,658.6 210.7,654.1 211.0,659.3 211.4,666.8 211.8,658.2 212.1,656.8 212.6,656.3 213.0,662.4 213.5,659.0 213.9,657.6 214.4,657.0 214.8,659.6 215.1,648.8 215.5,653.2 215.9,657.6 216.4,649.0 216.7,650.6 217.3,657.1 217.6,655.0 218.0,656.4 218.5,654.6 218.9,657.6 219.4,656.8 219.9,655.2 220.3,663.2 220.8,654.0 221.2,656.5 221.5,657.1 221.9,659.3 222.3,650.4 222.8,653.5 223.2,656.7 223.7,657.9 224.0,658.0 224.4,661.4 224.9,660.1 225.3,662.2 225.8,646.6 226.2,654.0 226.6,648.5 227.0,654.1 227.4,660.4 227.9,647.7 228.2,657.0 228.7,653.3 229.1,666.8 229.6,664.0 230.0,659.6 230.4,655.8 230.7,658.2 231.1,654.7 231.6,649.4 232.0,651.7 232.3,649.2 232.8,656.6 233.3,655.6 233.8,655.6 234.4,653.6 234.8,655.7 235.1,658.7 235.6,655.7 236.1,652.3 236.6,655.1 236.9,655.7 237.2,650.6 237.7,653.1 238.1,648.4 238.5,657.8 238.9,656.8 239.2,656.5 239.7,654.5 240.1,650.5 240.6,658.6 241.0,659.6 241.4,661.9 242.0,657.9 242.4,658.8 242.8,657.6 243.2,657.0 243.6,652.8 244.1,658.9 244.4,652.4 245.0,659.2 245.5,658.2 245.8,654.5 246.2,658.8 246.5,661.7 246.8,654.3 247.2,658.6 247.7,660.5 248.1,656.5 248.5,651.9 249.1,652.4 249.5,640.9 250.0,660.2 250.5,651.0 250.9,642.5 251.4,652.2 251.7,657.2 252.2,650.2 252.6,652.2 253.0,656.0 253.4,654.4 253.8,655.1 254.3,655.6 254.7,661.2 255.0,645.0 255.5,658.0 255.9,655.3 256.2,663.4 256.7,657.9 257.1,657.5 257.6,659.6 258.2,655.0 258.6,655.0 258.9,662.3 259.3,659.6 259.7,656.5 260.1,651.7 260.6,650.4 261.1,660.8 261.6,651.6 262.1,669.9 262.6,652.1 263.1,657.3 263.6,662.9 264.1,653.8 264.4,651.4 264.8,651.7 265.1,646.2 265.6,660.3 266.0,658.1 266.5,646.9 266.9,656.6 267.5,665.4 267.9,657.7 268.4,655.6 268.8,655.9 269.3,655.3 269.8,648.8 270.2,653.8 270.6,659.6 271.0,658.6 271.4,654.2 271.9,645.0 272.3,657.8 272.7,655.8 273.1,650.6 273.4,654.8 273.9,656.3 274.3,656.2 274.8,660.9 275.3,657.6 275.6,654.0 276.1,660.2 276.5,658.1 276.9,658.0 277.2,655.6 277.6,651.4 278.0,655.1 278.5,657.2 278.8,647.7 279.3,655.9 279.9,661.9 280.3,656.1 280.8,659.7 281.1,656.4 281.6,657.5 282.1,659.1 282.6,659.2 283.1,645.0 283.5,654.5 283.9,650.0 284.2,659.5 284.6,653.9 285.1,656.4 285.5,651.6 286.0,654.2 286.4,661.5 286.8,653.3 287.2,666.3 287.6,653.5 287.9,652.8 288.3,660.5 288.7,657.3 289.1,651.9 289.6,652.7 290.1,657.5 290.6,651.1 291.0,655.1 291.3,650.6 291.8,657.0 292.2,654.6 292.6,659.5 293.1,659.3 293.4,655.4 293.9,660.9 294.4,659.9 294.9,663.7 295.3,657.6 295.7,653.0 296.0,660.8 296.4,658.6 296.7,655.4 297.2,658.6 297.7,657.5 298.0,654.6 298.6,658.0 299.0,650.7 299.3,652.4 299.6,654.4 300.0,656.8 300.3,656.6 300.6,655.9 301.0,650.8 301.4,660.3 301.8,656.7 302.2,666.8 302.7,662.8 303.1,661.6 303.5,653.0 304.1,651.4 304.5,659.0 304.9,650.2 305.4,659.6 305.8,659.1 306.3,659.0 306.8,651.8 307.4,663.2 307.9,648.5 308.3,660.5 308.8,655.3 309.3,652.0 309.7,660.7 310.2,662.9 310.7,659.8 311.2,655.4 311.7,649.8 312.0,658.3" fill="none" stroke="#4e0c10" stroke-width="1.05" stroke-linejoin="round"/>
<text x="70.4" y="689.9" font-size="12" fill="#1a1a1a" font-family='"Liberation Sans", sans-serif'>Laod : 5 N</text>
<text x="70.4" y="704.9" font-size="12" fill="#1a1a1a" font-family='"Liberation Sans", sans-serif'>Speed: 0.2 m s<tspan font-size="7.5" dy="-4">-1</tspan></text>
<text x="70.4" y="720.0" font-size="12" fill="#1a1a1a" font-family='"Liberation Sans", sans-serif'>Room temperature</text>
<text x="70.4" y="735.0" font-size="12" fill="#1a1a1a" font-family='"Liberation Sans", sans-serif'>Coupled ball WC</text>
<text x="70.4" y="750.1" font-size="12" fill="#1a1a1a" font-family='"Liberation Sans", sans-serif'>Vacuum environment</text>
<rect x="399.1" y="668.9" width="32.1" height="81.3" fill="#6e1a1a"/>
<rect x="431.2" y="668.9" width="32.7" height="101.2" fill="#24395c"/>
<rect x="480.3" y="642.7" width="32.7" height="26.2" fill="#6e1a1a"/>
<rect x="513" y="668.9" width="32.0" height="53.7" fill="#24395c"/>
<rect x="561.8" y="668.9" width="32.2" height="28.9" fill="#6e1a1a"/>
<rect x="594" y="668.9" width="32.3" height="48.8" fill="#24395c"/>
<g stroke="#555" stroke-width="0.9"><line x1="414.6" y1="743.1" x2="414.6" y2="756.3"/><line x1="408.6" y1="743.1" x2="420.6" y2="743.1"/><line x1="408.6" y1="756.3" x2="420.6" y2="756.3"/></g>
<g stroke="#555" stroke-width="0.9"><line x1="447.5" y1="761.5" x2="447.5" y2="774.6"/><line x1="441.5" y1="761.5" x2="453.5" y2="761.5"/><line x1="441.5" y1="774.6" x2="453.5" y2="774.6"/></g>
<g stroke="#555" stroke-width="0.9"><line x1="497.5" y1="638" x2="497.5" y2="651.1"/><line x1="491.5" y1="638" x2="503.5" y2="638"/><line x1="491.5" y1="651.1" x2="503.5" y2="651.1"/></g>
<g stroke="#555" stroke-width="0.9"><line x1="529" y1="717.4" x2="529" y2="730"/><line x1="523" y1="717.4" x2="535" y2="717.4"/><line x1="523" y1="730" x2="535" y2="730"/></g>
<g stroke="#555" stroke-width="0.9"><line x1="577.8" y1="690.2" x2="577.8" y2="703"/><line x1="571.8" y1="690.2" x2="583.8" y2="690.2"/><line x1="571.8" y1="703" x2="583.8" y2="703"/></g>
<g stroke="#555" stroke-width="0.9"><line x1="610.8" y1="710.7" x2="610.8" y2="724.1"/><line x1="604.8" y1="710.7" x2="616.8" y2="710.7"/><line x1="604.8" y1="724.1" x2="616.8" y2="724.1"/></g>
<line x1="390.7" y1="668.9" x2="635" y2="668.9" stroke="#111" stroke-width="1.2"/>
<line x1="390.7" y1="560.5" x2="635" y2="560.5" stroke="#666" stroke-width="1.1"/>
<line x1="390.7" y1="777.3" x2="635" y2="777.3" stroke="#333" stroke-width="1.2"/>
<line x1="390.7" y1="560.5" x2="390.7" y2="777.3" stroke="#b52a2a" stroke-width="1.1"/>
<line x1="635" y1="560.5" x2="635" y2="777.3" stroke="#3b4f80" stroke-width="1.1"/>
<line x1="386.7" y1="560.5" x2="390.7" y2="560.5" stroke="#b52a2a" stroke-width="0.9"/>
<text x="371.3" y="563.6" font-size="9" text-anchor="middle" fill="#b52a2a" font-weight="normal" font-family='"Liberation Sans", sans-serif' textLength="28.6" lengthAdjust="spacingAndGlyphs">+1.2E-7</text>
<line x1="388.7" y1="569.5" x2="390.7" y2="569.5" stroke="#b52a2a" stroke-width="0.9"/>
<line x1="386.7" y1="578.6" x2="390.7" y2="578.6" stroke="#b52a2a" stroke-width="0.9"/>
<text x="371.3" y="581.7" font-size="9" text-anchor="middle" fill="#b52a2a" font-weight="normal" font-family='"Liberation Sans", sans-serif' textLength="28.6" lengthAdjust="spacingAndGlyphs">+1.0E-7</text>
<line x1="388.7" y1="587.6" x2="390.7" y2="587.6" stroke="#b52a2a" stroke-width="0.9"/>
<line x1="386.7" y1="596.6" x2="390.7" y2="596.6" stroke="#b52a2a" stroke-width="0.9"/>
<text x="371.3" y="599.7" font-size="9" text-anchor="middle" fill="#b52a2a" font-weight="normal" font-family='"Liberation Sans", sans-serif' textLength="28.6" lengthAdjust="spacingAndGlyphs">+8.0E-8</text>
<line x1="388.7" y1="605.7" x2="390.7" y2="605.7" stroke="#b52a2a" stroke-width="0.9"/>
<line x1="386.7" y1="614.7" x2="390.7" y2="614.7" stroke="#b52a2a" stroke-width="0.9"/>
<text x="371.3" y="617.8" font-size="9" text-anchor="middle" fill="#b52a2a" font-weight="normal" font-family='"Liberation Sans", sans-serif' textLength="28.6" lengthAdjust="spacingAndGlyphs">+6.0E-8</text>
<line x1="388.7" y1="623.7" x2="390.7" y2="623.7" stroke="#b52a2a" stroke-width="0.9"/>
<line x1="386.7" y1="632.8" x2="390.7" y2="632.8" stroke="#b52a2a" stroke-width="0.9"/>
<text x="371.3" y="635.9" font-size="9" text-anchor="middle" fill="#b52a2a" font-weight="normal" font-family='"Liberation Sans", sans-serif' textLength="28.6" lengthAdjust="spacingAndGlyphs">+4.0E-8</text>
<line x1="388.7" y1="641.8" x2="390.7" y2="641.8" stroke="#b52a2a" stroke-width="0.9"/>
<line x1="386.7" y1="650.8" x2="390.7" y2="650.8" stroke="#b52a2a" stroke-width="0.9"/>
<text x="371.3" y="653.9" font-size="9" text-anchor="middle" fill="#b52a2a" font-weight="normal" font-family='"Liberation Sans", sans-serif' textLength="28.6" lengthAdjust="spacingAndGlyphs">+2.0E-8</text>
<line x1="388.7" y1="659.9" x2="390.7" y2="659.9" stroke="#b52a2a" stroke-width="0.9"/>
<line x1="386.7" y1="668.9" x2="390.7" y2="668.9" stroke="#b52a2a" stroke-width="0.9"/>
<text x="373.6" y="672.0" font-size="9" text-anchor="middle" fill="#b52a2a" font-weight="normal" font-family='"Liberation Sans", sans-serif' >0</text>
<line x1="388.7" y1="677.9" x2="390.7" y2="677.9" stroke="#b52a2a" stroke-width="0.9"/>
<line x1="386.7" y1="687.0" x2="390.7" y2="687.0" stroke="#b52a2a" stroke-width="0.9"/>
<text x="371.3" y="690.1" font-size="9" text-anchor="middle" fill="#b52a2a" font-weight="normal" font-family='"Liberation Sans", sans-serif' textLength="26.6" lengthAdjust="spacingAndGlyphs">-2.0E-8</text>
<line x1="388.7" y1="696.0" x2="390.7" y2="696.0" stroke="#b52a2a" stroke-width="0.9"/>
<line x1="386.7" y1="705.0" x2="390.7" y2="705.0" stroke="#b52a2a" stroke-width="0.9"/>
<text x="371.3" y="708.1" font-size="9" text-anchor="middle" fill="#b52a2a" font-weight="normal" font-family='"Liberation Sans", sans-serif' textLength="26.6" lengthAdjust="spacingAndGlyphs">-4.0E-8</text>
<line x1="388.7" y1="714.1" x2="390.7" y2="714.1" stroke="#b52a2a" stroke-width="0.9"/>
<line x1="386.7" y1="723.1" x2="390.7" y2="723.1" stroke="#b52a2a" stroke-width="0.9"/>
<text x="371.3" y="726.2" font-size="9" text-anchor="middle" fill="#b52a2a" font-weight="normal" font-family='"Liberation Sans", sans-serif' textLength="26.6" lengthAdjust="spacingAndGlyphs">-6.0E-8</text>
<line x1="388.7" y1="732.1" x2="390.7" y2="732.1" stroke="#b52a2a" stroke-width="0.9"/>
<line x1="386.7" y1="741.2" x2="390.7" y2="741.2" stroke="#b52a2a" stroke-width="0.9"/>
<text x="371.3" y="744.3" font-size="9" text-anchor="middle" fill="#b52a2a" font-weight="normal" font-family='"Liberation Sans", sans-serif' textLength="26.6" lengthAdjust="spacingAndGlyphs">-8.0E-8</text>
<line x1="388.7" y1="750.2" x2="390.7" y2="750.2" stroke="#b52a2a" stroke-width="0.9"/>
<line x1="386.7" y1="759.2" x2="390.7" y2="759.2" stroke="#b52a2a" stroke-width="0.9"/>
<text x="371.3" y="762.3" font-size="9" text-anchor="middle" fill="#b52a2a" font-weight="normal" font-family='"Liberation Sans", sans-serif' textLength="26.6" lengthAdjust="spacingAndGlyphs">-1.0E-7</text>
<line x1="388.7" y1="768.3" x2="390.7" y2="768.3" stroke="#b52a2a" stroke-width="0.9"/>
<line x1="386.7" y1="777.3" x2="390.7" y2="777.3" stroke="#b52a2a" stroke-width="0.9"/>
<text x="371.3" y="780.4" font-size="9" text-anchor="middle" fill="#b52a2a" font-weight="normal" font-family='"Liberation Sans", sans-serif' textLength="26.6" lengthAdjust="spacingAndGlyphs">-1.2E-7</text>
<line x1="635" y1="560.5" x2="639" y2="560.5" stroke="#3b4f80" stroke-width="0.9"/>
<text x="652.6" y="563.6" font-size="9" text-anchor="middle" fill="#3b4f80" font-weight="normal" font-family='"Liberation Sans", sans-serif' textLength="21.3" lengthAdjust="spacingAndGlyphs">+1E-8</text>
<line x1="635" y1="571.3" x2="637" y2="571.3" stroke="#3b4f80" stroke-width="0.9"/>
<line x1="635" y1="582.2" x2="639" y2="582.2" stroke="#3b4f80" stroke-width="0.9"/>
<text x="652.6" y="585.3" font-size="9" text-anchor="middle" fill="#3b4f80" font-weight="normal" font-family='"Liberation Sans", sans-serif' textLength="21.3" lengthAdjust="spacingAndGlyphs">+8E-9</text>
<line x1="635" y1="593.0" x2="637" y2="593.0" stroke="#3b4f80" stroke-width="0.9"/>
<line x1="635" y1="603.9" x2="639" y2="603.9" stroke="#3b4f80" stroke-width="0.9"/>
<text x="652.6" y="607.0" font-size="9" text-anchor="middle" fill="#3b4f80" font-weight="normal" font-family='"Liberation Sans", sans-serif' textLength="21.3" lengthAdjust="spacingAndGlyphs">+6E-9</text>
<line x1="635" y1="614.7" x2="637" y2="614.7" stroke="#3b4f80" stroke-width="0.9"/>
<line x1="635" y1="625.5" x2="639" y2="625.5" stroke="#3b4f80" stroke-width="0.9"/>
<text x="652.6" y="628.6" font-size="9" text-anchor="middle" fill="#3b4f80" font-weight="normal" font-family='"Liberation Sans", sans-serif' textLength="21.3" lengthAdjust="spacingAndGlyphs">+4E-9</text>
<line x1="635" y1="636.4" x2="637" y2="636.4" stroke="#3b4f80" stroke-width="0.9"/>
<line x1="635" y1="647.2" x2="639" y2="647.2" stroke="#3b4f80" stroke-width="0.9"/>
<text x="652.6" y="650.3" font-size="9" text-anchor="middle" fill="#3b4f80" font-weight="normal" font-family='"Liberation Sans", sans-serif' textLength="21.3" lengthAdjust="spacingAndGlyphs">+2E-9</text>
<line x1="635" y1="658.1" x2="637" y2="658.1" stroke="#3b4f80" stroke-width="0.9"/>
<line x1="635" y1="668.9" x2="639" y2="668.9" stroke="#3b4f80" stroke-width="0.9"/>
<text x="643.0" y="672.0" font-size="9" text-anchor="start" fill="#3b4f80" font-weight="normal" font-family='"Liberation Sans", sans-serif' >0</text>
<line x1="635" y1="679.7" x2="637" y2="679.7" stroke="#3b4f80" stroke-width="0.9"/>
<line x1="635" y1="690.6" x2="639" y2="690.6" stroke="#3b4f80" stroke-width="0.9"/>
<text x="652.6" y="693.7" font-size="9" text-anchor="middle" fill="#3b4f80" font-weight="normal" font-family='"Liberation Sans", sans-serif' textLength="19.4" lengthAdjust="spacingAndGlyphs">-2E-9</text>
<line x1="635" y1="701.4" x2="637" y2="701.4" stroke="#3b4f80" stroke-width="0.9"/>
<line x1="635" y1="712.3" x2="639" y2="712.3" stroke="#3b4f80" stroke-width="0.9"/>
<text x="652.6" y="715.4" font-size="9" text-anchor="middle" fill="#3b4f80" font-weight="normal" font-family='"Liberation Sans", sans-serif' textLength="19.4" lengthAdjust="spacingAndGlyphs">-4E-9</text>
<line x1="635" y1="723.1" x2="637" y2="723.1" stroke="#3b4f80" stroke-width="0.9"/>
<line x1="635" y1="733.9" x2="639" y2="733.9" stroke="#3b4f80" stroke-width="0.9"/>
<text x="652.6" y="737.0" font-size="9" text-anchor="middle" fill="#3b4f80" font-weight="normal" font-family='"Liberation Sans", sans-serif' textLength="19.4" lengthAdjust="spacingAndGlyphs">-6E-9</text>
<line x1="635" y1="744.8" x2="637" y2="744.8" stroke="#3b4f80" stroke-width="0.9"/>
<line x1="635" y1="755.6" x2="639" y2="755.6" stroke="#3b4f80" stroke-width="0.9"/>
<text x="652.6" y="758.7" font-size="9" text-anchor="middle" fill="#3b4f80" font-weight="normal" font-family='"Liberation Sans", sans-serif' textLength="19.4" lengthAdjust="spacingAndGlyphs">-8E-9</text>
<line x1="635" y1="766.5" x2="637" y2="766.5" stroke="#3b4f80" stroke-width="0.9"/>
<line x1="635" y1="777.3" x2="639" y2="777.3" stroke="#3b4f80" stroke-width="0.9"/>
<text x="652.6" y="780.4" font-size="9" text-anchor="middle" fill="#3b4f80" font-weight="normal" font-family='"Liberation Sans", sans-serif' textLength="19.4" lengthAdjust="spacingAndGlyphs">-1E-8</text>
<line x1="431.2" y1="777.3" x2="431.2" y2="781.3" stroke="#333" stroke-width="1"/>
<text x="432.7" y="794.0" font-size="10.5" text-anchor="middle" fill="#222" font-weight="normal" font-family='"Liberation Sans", sans-serif' >1.25</text>
<line x1="513" y1="777.3" x2="513" y2="781.3" stroke="#333" stroke-width="1"/>
<text x="514.5" y="794.0" font-size="10.5" text-anchor="middle" fill="#222" font-weight="normal" font-family='"Liberation Sans", sans-serif' >5</text>
<line x1="594" y1="777.3" x2="594" y2="781.3" stroke="#333" stroke-width="1"/>
<text x="595.5" y="794.0" font-size="10.5" text-anchor="middle" fill="#222" font-weight="normal" font-family='"Liberation Sans", sans-serif' >10</text>
<line x1="472" y1="777.3" x2="472" y2="779.8" stroke="#333" stroke-width="1"/>
<line x1="553.5" y1="777.3" x2="553.5" y2="779.8" stroke="#333" stroke-width="1"/>
<text x="432.3" y="815" font-size="17.5" fill="#1a1a1a" font-family='"Liberation Sans", sans-serif'>Friction cycles<tspan dx="10">(</tspan><tspan dx="6.5">×10</tspan><tspan font-size="11" dy="-7">4</tspan><tspan dy="7" dx="6">)</tspan></text>
<text transform="translate(352.8,666.5) rotate(-90)" x="-110.5" y="0" font-size="12.5" textLength="221" lengthAdjust="spacingAndGlyphs" fill="#b52a2a" font-family='"Liberation Sans", sans-serif'>WB<tspan font-size="8" dy="1">4</tspan><tspan dy="-1"> dimension variation (mm</tspan><tspan font-size="8" dy="-4">3</tspan><tspan dy="4"> N</tspan><tspan font-size="8" dy="-4">-1</tspan><tspan dy="4"> m</tspan><tspan font-size="8" dy="-4">-1</tspan><tspan dy="4">)</tspan></text>
<text transform="translate(679.5,657) rotate(-90)" x="-108.5" y="0" font-size="12.5" textLength="217" lengthAdjust="spacingAndGlyphs" fill="#3b4f80" font-family='"Liberation Sans", sans-serif'>WC dimension variation (mm<tspan font-size="8" dy="-4">3</tspan><tspan dy="4"> N</tspan><tspan font-size="8" dy="-4">-1</tspan><tspan dy="4"> m</tspan><tspan font-size="8" dy="-4">-1</tspan><tspan dy="4">)</tspan></text>
<rect x="432.3" y="574" width="33" height="17.5" fill="#6e1a1a"/>
<rect x="540.3" y="574" width="33.6" height="17.5" fill="#24395c"/>
<text x="475.5" y="588" font-size="14.5" fill="#111" font-family='"Liberation Serif", serif'>WB<tspan font-size="9" dy="3">4</tspan><tspan dy="-3">-B</tspan></text>
<text x="585.0" y="588.0" font-size="14.5" text-anchor="start" fill="#111" font-weight="normal" font-family='"Liberation Serif", serif' >WC</text>
<text x="1.0" y="17.2" font-size="27" text-anchor="start" fill="#000" font-weight="bold" font-family='"Liberation Sans", sans-serif' >a</text>
<text x="1.0" y="190.2" font-size="27" text-anchor="start" fill="#000" font-weight="bold" font-family='"Liberation Sans", sans-serif' >b</text>
<text x="1.0" y="362.0" font-size="27" text-anchor="start" fill="#000" font-weight="bold" font-family='"Liberation Sans", sans-serif' >c</text>
<text x="1.0" y="551.0" font-size="27" text-anchor="start" fill="#000" font-weight="bold" font-family='"Liberation Sans", sans-serif' >d</text>
<text x="323.0" y="553.5" font-size="27" text-anchor="start" fill="#000" font-weight="bold" font-family='"Liberation Sans", sans-serif' >e</text>
</svg>
</body></html>
